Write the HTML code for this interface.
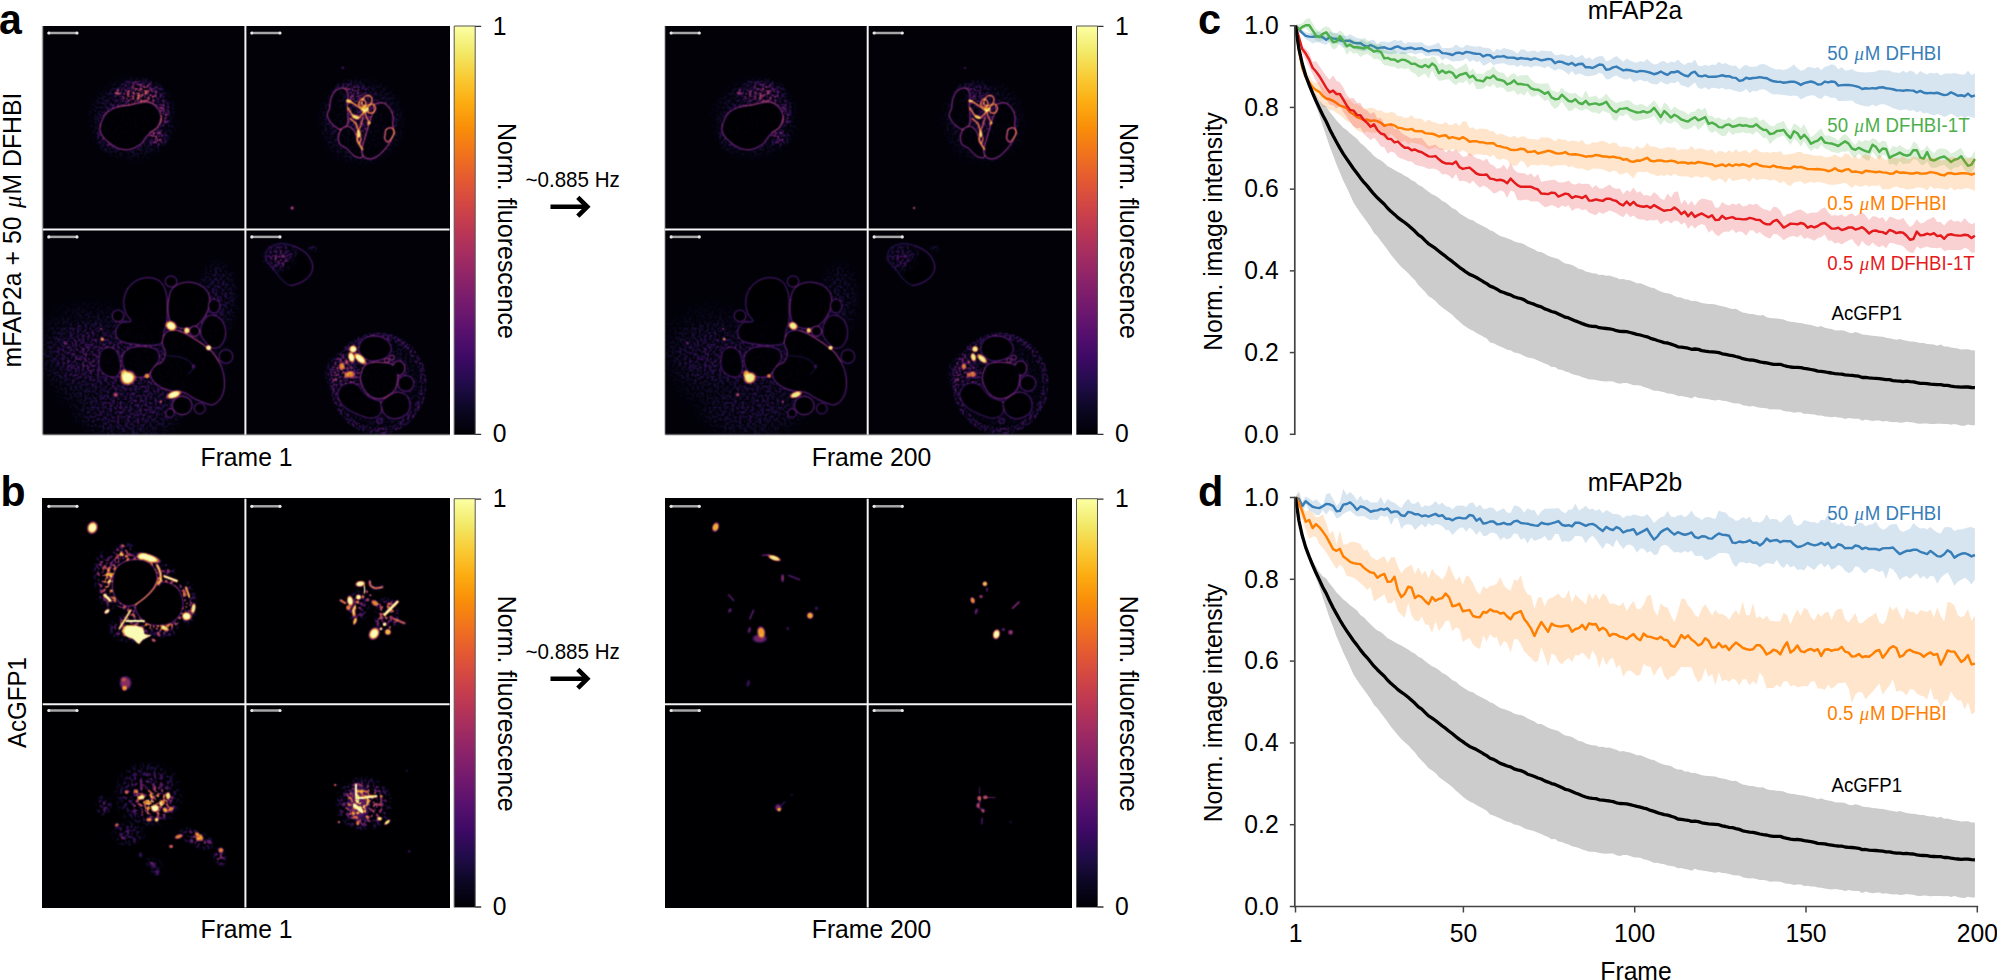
<!DOCTYPE html>
<html lang="en"><head><meta charset="utf-8"><title>Figure</title>
<style>html,body{margin:0;padding:0;background:#fff;}body{width:1997px;height:980px;overflow:hidden;}svg{display:block;}</style>
</head><body>
<svg width="1997" height="980" viewBox="0 0 1997 980" font-family="Liberation Sans, Arial, sans-serif" fill="#000"><defs>
<linearGradient id="inf" x1="0" y1="1" x2="0" y2="0"><stop offset="0.0" stop-color="#000004"/><stop offset="0.0625" stop-color="#0b0724"/><stop offset="0.125" stop-color="#210c4a"/><stop offset="0.1875" stop-color="#3d0965"/><stop offset="0.25" stop-color="#57106e"/><stop offset="0.3125" stop-color="#71196e"/><stop offset="0.375" stop-color="#8a226a"/><stop offset="0.4375" stop-color="#a32c61"/><stop offset="0.5" stop-color="#bc3754"/><stop offset="0.5625" stop-color="#d24644"/><stop offset="0.625" stop-color="#e45a31"/><stop offset="0.6875" stop-color="#f1731d"/><stop offset="0.75" stop-color="#f98e09"/><stop offset="0.8125" stop-color="#fcac11"/><stop offset="0.875" stop-color="#f9cb35"/><stop offset="0.9375" stop-color="#f2ea69"/><stop offset="1.0" stop-color="#fcffa4"/></linearGradient>
<filter id="cmap" x="0" y="0" width="1" height="1" color-interpolation-filters="sRGB">
<feComponentTransfer><feFuncR type="table" tableValues="0.001 0.014 0.042 0.082 0.129 0.183 0.238 0.291 0.342 0.391 0.441 0.491 0.541 0.591 0.640 0.689 0.736 0.781 0.822 0.861 0.894 0.923 0.947 0.965 0.978 0.986 0.988 0.984 0.975 0.961 0.948 0.955 0.988"/><feFuncG type="table" tableValues="0.000 0.011 0.028 0.043 0.047 0.040 0.037 0.046 0.062 0.081 0.099 0.117 0.135 0.153 0.171 0.192 0.216 0.243 0.275 0.312 0.353 0.399 0.449 0.502 0.558 0.616 0.675 0.736 0.798 0.859 0.917 0.966 0.998"/><feFuncB type="table" tableValues="0.014 0.072 0.141 0.215 0.291 0.355 0.396 0.419 0.429 0.433 0.432 0.426 0.415 0.400 0.381 0.358 0.330 0.300 0.266 0.231 0.194 0.155 0.115 0.074 0.035 0.026 0.065 0.130 0.206 0.298 0.411 0.540 0.645"/></feComponentTransfer><feConvolveMatrix order="3" kernelMatrix="0.04 0.125 0.04 0.125 0.34 0.125 0.04 0.125 0.04" edgeMode="duplicate"/><feColorMatrix type="saturate" values="0.78"/>
</filter>
<radialGradient id="rgb"><stop offset="0" stop-color="#fff" stop-opacity="1"/><stop offset="0.55" stop-color="#fff" stop-opacity="1"/><stop offset="0.78" stop-color="#fff" stop-opacity="0.55"/><stop offset="1" stop-color="#fff" stop-opacity="0"/></radialGradient>
<radialGradient id="rg"><stop offset="0" stop-color="#fff" stop-opacity="1"/><stop offset="0.55" stop-color="#fff" stop-opacity="0.6"/><stop offset="1" stop-color="#fff" stop-opacity="0"/></radialGradient>
<radialGradient id="rgf"><stop offset="0" stop-color="#fff" stop-opacity="1"/><stop offset="0.8" stop-color="#fff" stop-opacity="0.9"/><stop offset="1" stop-color="#fff" stop-opacity="0"/></radialGradient>
<filter id="b03" x="-20%" y="-20%" width="140%" height="140%"><feGaussianBlur stdDeviation="0.3"/></filter>
<filter id="b05" x="-20%" y="-20%" width="140%" height="140%"><feGaussianBlur stdDeviation="0.5"/></filter>
<filter id="b07" x="-20%" y="-20%" width="140%" height="140%"><feGaussianBlur stdDeviation="0.7"/></filter>
<filter id="b1" x="-30%" y="-30%" width="160%" height="160%"><feGaussianBlur stdDeviation="1"/></filter>
<filter id="b2" x="-40%" y="-40%" width="180%" height="180%"><feGaussianBlur stdDeviation="2"/></filter>
<filter id="spk" x="-5%" y="-5%" width="110%" height="110%" color-interpolation-filters="sRGB"><feTurbulence type="fractalNoise" baseFrequency="0.4 0.43" numOctaves="3" seed="4" result="n"/><feColorMatrix in="n" type="matrix" values="0 0 0 0 1 0 0 0 0 1 0 0 0 0 1 0 0 0 4.5 -1.95" result="m"/><feComposite in="SourceGraphic" in2="m" operator="in"/></filter>
<filter id="spk2" x="-5%" y="-5%" width="110%" height="110%" color-interpolation-filters="sRGB"><feTurbulence type="fractalNoise" baseFrequency="0.3" numOctaves="2" seed="9" result="n"/><feColorMatrix in="n" type="matrix" values="0 0 0 0 1 0 0 0 0 1 0 0 0 0 1 0 0 0 7 -3.4" result="m"/><feComposite in="SourceGraphic" in2="m" operator="in"/><feGaussianBlur stdDeviation="0.5"/></filter>

</defs><rect width="1997" height="980" fill="#fff"/><text transform="translate(-1,34) scale(1,1.045)" font-size="41" font-weight="bold">a</text><text transform="translate(0.5,506.3) scale(1,1.045)" font-size="41" font-weight="bold">b</text><text transform="translate(1198,34) scale(1,1.045)" font-size="41.5" font-weight="bold">c</text><text transform="translate(1198,506.3) scale(1,1.045)" font-size="41.5" font-weight="bold">d</text><g filter="url(#cmap)"><rect x="42.7" y="26.0" width="406.9" height="408.7" fill="#030303"/><g filter="url(#spk)">
<ellipse cx="132.8" cy="118.4" rx="48.3" ry="46.0" fill="url(#rg)" fill-opacity="0.32"/>
<ellipse cx="140.6" cy="93.7" rx="25.8" ry="16.8" fill="url(#rg)" fill-opacity="0.6"/>
<ellipse cx="117.6" cy="92.0" rx="5.1" ry="3.9" fill="url(#rg)" fill-opacity="0.6"/>
<ellipse cx="157.4" cy="137.4" rx="11.2" ry="10.1" fill="url(#rg)" fill-opacity="0.5"/>
<ellipse cx="163.1" cy="112.8" rx="7.9" ry="16.8" fill="url(#rg)" fill-opacity="0.45"/>
<ellipse cx="108.1" cy="131.8" rx="13.5" ry="22.4" fill="url(#rg)" fill-opacity="0.25"/>
</g>
<path d="M100.2,126.2C101.0,122.9 103.0,117.1 105.8,113.9C108.6,110.7 112.9,108.6 117.0,107.1C121.2,105.6 126.2,105.7 130.5,104.9C134.8,104.1 139.3,102.4 142.9,102.1C146.4,101.8 149.2,102.0 151.8,103.2C154.5,104.4 157.0,106.9 158.6,109.4C160.1,111.9 161.2,115.4 161.0,118.4C160.9,121.4 159.4,124.9 157.4,127.3C155.5,129.8 151.6,131.1 149.6,133.0C147.5,134.8 146.6,136.7 145.1,138.6C143.6,140.4 143.0,142.4 140.6,144.2C138.2,146.0 134.1,148.5 130.5,149.2C127.0,150.0 123.0,149.9 119.3,148.7C115.5,147.5 111.1,144.4 108.1,141.9C105.1,139.5 102.6,136.7 101.3,134.1C100.0,131.5 99.5,129.6 100.2,126.2Z" fill="#000" fill-opacity="0.93" stroke="#fff" stroke-opacity="0.162" stroke-width="1.56" stroke-linecap="round" stroke-linejoin="round" filter="url(#b03)"/>
<path d="M100.2,126.2C101.0,122.9 103.0,117.1 105.8,113.9C108.6,110.7 112.9,108.6 117.0,107.1C121.2,105.6 126.2,105.7 130.5,104.9C134.8,104.1 139.3,102.4 142.9,102.1C146.4,101.8 149.2,102.0 151.8,103.2C154.5,104.4 157.0,106.9 158.6,109.4C160.1,111.9 161.2,115.4 161.0,118.4C160.9,121.4 159.4,124.9 157.4,127.3C155.5,129.8 151.6,131.1 149.6,133.0C147.5,134.8 146.6,136.7 145.1,138.6C143.6,140.4 143.0,142.4 140.6,144.2C138.2,146.0 134.1,148.5 130.5,149.2C127.0,150.0 123.0,149.9 119.3,148.7C115.5,147.5 111.1,144.4 108.1,141.9C105.1,139.5 102.6,136.7 101.3,134.1C100.0,131.5 99.5,129.6 100.2,126.2Z" fill="none" stroke="#fff" stroke-opacity="0.567" stroke-width="0.48" stroke-linecap="round" stroke-linejoin="round"/>
<path d="M117.0,107.1C119.3,106.8 126.2,105.7 130.5,104.9C134.8,104.1 139.3,102.4 142.9,102.1C146.4,101.8 149.2,102.0 151.8,103.2C154.5,104.4 157.4,108.4 158.6,109.4" fill="none" stroke="#fff" stroke-opacity="0.072" stroke-width="1.56" stroke-linecap="round" stroke-linejoin="round" filter="url(#b03)"/>
<path d="M117.0,107.1C119.3,106.8 126.2,105.7 130.5,104.9C134.8,104.1 139.3,102.4 142.9,102.1C146.4,101.8 149.2,102.0 151.8,103.2C154.5,104.4 157.4,108.4 158.6,109.4" fill="none" stroke="#fff" stroke-opacity="0.252" stroke-width="0.48" stroke-linecap="round" stroke-linejoin="round"/>
<path d="M161.0,118.4C160.4,119.9 159.4,124.9 157.4,127.3C155.5,129.8 150.9,132.0 149.6,133.0" fill="none" stroke="#fff" stroke-opacity="0.090" stroke-width="1.82" stroke-linecap="round" stroke-linejoin="round" filter="url(#b03)"/>
<path d="M161.0,118.4C160.4,119.9 159.4,124.9 157.4,127.3C155.5,129.8 150.9,132.0 149.6,133.0" fill="none" stroke="#fff" stroke-opacity="0.315" stroke-width="0.56" stroke-linecap="round" stroke-linejoin="round"/>
<ellipse cx="140.6" cy="95.9" rx="3.7" ry="2.2" fill="url(#rgb)" fill-opacity="0.3" transform="rotate(-30 140.6 95.9)"/>
<ellipse cx="147.3" cy="92.6" rx="2.5" ry="2.2" fill="url(#rgb)" fill-opacity="0.25"/>
<ellipse cx="117.0" cy="92.0" rx="3.1" ry="1.9" fill="url(#rgb)" fill-opacity="0.25" transform="rotate(-30 117.0 92.0)"/>
<g filter="url(#spk)">
<ellipse cx="361.7" cy="121.7" rx="47.4" ry="47.4" fill="url(#rg)" fill-opacity="0.3"/>
<ellipse cx="350.3" cy="94.2" rx="19.9" ry="15.3" fill="url(#rg)" fill-opacity="0.4"/>
</g>
<path d="M343.4,88.1C341.2,87.6 337.1,89.2 334.9,91.1C332.8,93.0 331.6,96.7 330.7,99.5C329.8,102.3 330.2,105.4 329.6,108.0C329.0,110.5 327.3,112.7 327.3,114.8C327.3,117.0 328.3,119.1 329.6,121.0C330.9,122.9 333.0,124.9 334.9,126.3C336.9,127.7 339.0,129.6 341.1,129.4C343.1,129.1 346.0,127.1 347.2,124.8C348.3,122.5 348.0,119.1 348.0,115.6C348.0,112.2 347.2,107.7 347.2,104.1C347.2,100.6 348.6,96.9 348.0,94.2C347.3,91.5 345.5,88.6 343.4,88.1Z" fill="#000" fill-opacity="0.75" stroke="#fff" stroke-opacity="0.180" stroke-width="1.56" stroke-linecap="round" stroke-linejoin="round" filter="url(#b03)"/>
<path d="M343.4,88.1C341.2,87.6 337.1,89.2 334.9,91.1C332.8,93.0 331.6,96.7 330.7,99.5C329.8,102.3 330.2,105.4 329.6,108.0C329.0,110.5 327.3,112.7 327.3,114.8C327.3,117.0 328.3,119.1 329.6,121.0C330.9,122.9 333.0,124.9 334.9,126.3C336.9,127.7 339.0,129.6 341.1,129.4C343.1,129.1 346.0,127.1 347.2,124.8C348.3,122.5 348.0,119.1 348.0,115.6C348.0,112.2 347.2,107.7 347.2,104.1C347.2,100.6 348.6,96.9 348.0,94.2C347.3,91.5 345.5,88.6 343.4,88.1Z" fill="none" stroke="#fff" stroke-opacity="0.630" stroke-width="0.48" stroke-linecap="round" stroke-linejoin="round"/>
<path d="M341.1,129.4C339.5,131.3 338.5,135.3 338.4,137.8C338.3,140.4 338.9,142.9 340.3,144.7C341.7,146.5 345.2,147.2 346.8,148.5C348.5,149.8 348.8,151.0 350.3,152.3C351.7,153.7 353.8,155.7 355.6,156.6C357.4,157.4 359.7,158.2 361.0,157.7C362.2,157.3 363.3,155.8 363.3,153.9C363.3,152.0 362.0,148.8 361.0,146.2C359.9,143.7 358.3,141.1 357.1,138.6C356.0,136.0 355.6,133.0 354.1,130.9C352.6,128.9 350.1,126.6 348.0,126.3C345.8,126.1 342.7,127.5 341.1,129.4Z" fill="#000" fill-opacity="0.75" stroke="#fff" stroke-opacity="0.180" stroke-width="1.56" stroke-linecap="round" stroke-linejoin="round" filter="url(#b03)"/>
<path d="M341.1,129.4C339.5,131.3 338.5,135.3 338.4,137.8C338.3,140.4 338.9,142.9 340.3,144.7C341.7,146.5 345.2,147.2 346.8,148.5C348.5,149.8 348.8,151.0 350.3,152.3C351.7,153.7 353.8,155.7 355.6,156.6C357.4,157.4 359.7,158.2 361.0,157.7C362.2,157.3 363.3,155.8 363.3,153.9C363.3,152.0 362.0,148.8 361.0,146.2C359.9,143.7 358.3,141.1 357.1,138.6C356.0,136.0 355.6,133.0 354.1,130.9C352.6,128.9 350.1,126.6 348.0,126.3C345.8,126.1 342.7,127.5 341.1,129.4Z" fill="none" stroke="#fff" stroke-opacity="0.630" stroke-width="0.48" stroke-linecap="round" stroke-linejoin="round"/>
<path d="M374.0,104.9C375.5,103.6 380.5,102.3 383.2,103.0C385.8,103.6 388.4,106.4 390.1,108.7C391.7,111.1 392.7,114.5 393.1,117.1C393.6,119.8 392.6,122.2 392.7,124.8C392.9,127.3 394.2,129.8 393.9,132.4C393.6,135.1 392.2,138.2 390.8,140.9C389.4,143.5 387.5,146.1 385.5,148.5C383.4,150.9 381.0,153.7 378.6,155.4C376.1,157.1 373.3,158.6 370.9,158.9C368.5,159.1 365.6,158.4 364.0,156.9C362.5,155.5 361.6,153.1 361.7,150.1C361.9,147.0 363.8,142.3 364.8,138.6C365.8,134.9 366.8,131.3 367.9,127.9C368.9,124.4 369.9,120.7 370.9,117.9C371.9,115.1 373.5,113.2 374.0,111.0C374.5,108.9 372.4,106.2 374.0,104.9Z" fill="#000" fill-opacity="0.75" stroke="#fff" stroke-opacity="0.198" stroke-width="1.56" stroke-linecap="round" stroke-linejoin="round" filter="url(#b03)"/>
<path d="M374.0,104.9C375.5,103.6 380.5,102.3 383.2,103.0C385.8,103.6 388.4,106.4 390.1,108.7C391.7,111.1 392.7,114.5 393.1,117.1C393.6,119.8 392.6,122.2 392.7,124.8C392.9,127.3 394.2,129.8 393.9,132.4C393.6,135.1 392.2,138.2 390.8,140.9C389.4,143.5 387.5,146.1 385.5,148.5C383.4,150.9 381.0,153.7 378.6,155.4C376.1,157.1 373.3,158.6 370.9,158.9C368.5,159.1 365.6,158.4 364.0,156.9C362.5,155.5 361.6,153.1 361.7,150.1C361.9,147.0 363.8,142.3 364.8,138.6C365.8,134.9 366.8,131.3 367.9,127.9C368.9,124.4 369.9,120.7 370.9,117.9C371.9,115.1 373.5,113.2 374.0,111.0C374.5,108.9 372.4,106.2 374.0,104.9Z" fill="none" stroke="#fff" stroke-opacity="0.693" stroke-width="0.48" stroke-linecap="round" stroke-linejoin="round"/>
<path d="M386.2,129.4C387.3,128.5 390.2,127.3 391.6,127.9C392.9,128.4 394.3,131.0 394.3,132.8C394.2,134.6 392.3,137.0 391.2,138.6C390.1,140.1 388.8,142.0 387.8,142.0C386.7,142.0 385.1,140.0 384.7,138.6C384.3,137.1 385.1,134.7 385.3,133.2C385.6,131.7 385.2,130.3 386.2,129.4Z" fill="none" stroke="#fff" stroke-opacity="0.360" stroke-width="1.69" stroke-linecap="round" stroke-linejoin="round" filter="url(#b03)"/>
<path d="M386.2,129.4C387.3,128.5 390.2,127.3 391.6,127.9C392.9,128.4 394.3,131.0 394.3,132.8C394.2,134.6 392.3,137.0 391.2,138.6C390.1,140.1 388.8,142.0 387.8,142.0C386.7,142.0 385.1,140.0 384.7,138.6C384.3,137.1 385.1,134.7 385.3,133.2C385.6,131.7 385.2,130.3 386.2,129.4Z" fill="none" stroke="#fff" stroke-opacity="1.000" stroke-width="0.52" stroke-linecap="round" stroke-linejoin="round"/>
<path d="M361.7,103.4C361.9,102.2 362.2,99.3 363.3,98.0C364.3,96.7 366.5,95.3 367.9,95.3C369.3,95.3 371.2,96.7 371.7,98.0C372.2,99.3 371.8,102.1 370.9,103.4C370.0,104.6 367.7,105.4 366.3,105.7C364.9,105.9 363.3,105.3 362.5,104.9C361.7,104.5 361.6,104.5 361.7,103.4Z" fill="none" stroke="#fff" stroke-opacity="0.480" stroke-width="1.69" stroke-linecap="round" stroke-linejoin="round" filter="url(#b03)"/>
<path d="M361.7,103.4C361.9,102.2 362.2,99.3 363.3,98.0C364.3,96.7 366.5,95.3 367.9,95.3C369.3,95.3 371.2,96.7 371.7,98.0C372.2,99.3 371.8,102.1 370.9,103.4C370.0,104.6 367.7,105.4 366.3,105.7C364.9,105.9 363.3,105.3 362.5,104.9C361.7,104.5 361.6,104.5 361.7,103.4Z" fill="none" stroke="#fff" stroke-opacity="1.000" stroke-width="0.52" stroke-linecap="round" stroke-linejoin="round"/>
<path d="M367.9,107.2C368.5,105.8 371.2,104.0 372.4,104.1C373.7,104.3 375.4,106.6 375.5,108.0C375.6,109.4 374.4,111.8 373.2,112.6C372.1,113.3 369.5,113.4 368.6,112.6C367.7,111.7 367.2,108.6 367.9,107.2Z" fill="none" stroke="#fff" stroke-opacity="0.450" stroke-width="1.69" stroke-linecap="round" stroke-linejoin="round" filter="url(#b03)"/>
<path d="M367.9,107.2C368.5,105.8 371.2,104.0 372.4,104.1C373.7,104.3 375.4,106.6 375.5,108.0C375.6,109.4 374.4,111.8 373.2,112.6C372.1,113.3 369.5,113.4 368.6,112.6C367.7,111.7 367.2,108.6 367.9,107.2Z" fill="none" stroke="#fff" stroke-opacity="1.000" stroke-width="0.52" stroke-linecap="round" stroke-linejoin="round"/>
<path d="M358.7,104.1C358.5,102.9 359.9,100.2 361.0,99.5C362.0,98.9 364.0,99.4 364.8,100.3C365.6,101.2 366.1,103.8 365.6,104.9C365.1,106.0 362.9,107.3 361.7,107.2C360.6,107.1 358.8,105.4 358.7,104.1Z" fill="none" stroke="#fff" stroke-opacity="0.450" stroke-width="1.69" stroke-linecap="round" stroke-linejoin="round" filter="url(#b03)"/>
<path d="M358.7,104.1C358.5,102.9 359.9,100.2 361.0,99.5C362.0,98.9 364.0,99.4 364.8,100.3C365.6,101.2 366.1,103.8 365.6,104.9C365.1,106.0 362.9,107.3 361.7,107.2C360.6,107.1 358.8,105.4 358.7,104.1Z" fill="none" stroke="#fff" stroke-opacity="1.000" stroke-width="0.52" stroke-linecap="round" stroke-linejoin="round"/>
<path d="M347.2,100.3C347.8,100.6 349.6,101.1 351.0,101.8C352.4,102.6 354.0,103.8 355.6,104.9C357.3,106.0 359.3,107.8 361.0,108.7C362.6,109.6 364.4,110.4 365.6,110.3C366.7,110.1 367.5,108.3 367.9,108.0" fill="none" stroke="#fff" stroke-opacity="0.480" stroke-width="1.95" stroke-linecap="round" stroke-linejoin="round" filter="url(#b03)"/>
<path d="M347.2,100.3C347.8,100.6 349.6,101.1 351.0,101.8C352.4,102.6 354.0,103.8 355.6,104.9C357.3,106.0 359.3,107.8 361.0,108.7C362.6,109.6 364.4,110.4 365.6,110.3C366.7,110.1 367.5,108.3 367.9,108.0" fill="none" stroke="#fff" stroke-opacity="1.000" stroke-width="0.60" stroke-linecap="round" stroke-linejoin="round"/>
<path d="M348.0,108.0C348.6,109.0 350.3,112.4 351.8,114.1C353.3,115.7 355.6,117.7 357.1,117.9C358.7,118.2 359.7,116.8 361.0,115.6C362.2,114.5 364.2,111.8 364.8,111.0" fill="none" stroke="#fff" stroke-opacity="0.480" stroke-width="2.08" stroke-linecap="round" stroke-linejoin="round" filter="url(#b03)"/>
<path d="M348.0,108.0C348.6,109.0 350.3,112.4 351.8,114.1C353.3,115.7 355.6,117.7 357.1,117.9C358.7,118.2 359.7,116.8 361.0,115.6C362.2,114.5 364.2,111.8 364.8,111.0" fill="none" stroke="#fff" stroke-opacity="1.000" stroke-width="0.64" stroke-linecap="round" stroke-linejoin="round"/>
<path d="M364.8,111.0C365.1,112.0 365.6,115.2 366.3,117.1C367.1,119.1 369.1,121.2 369.4,122.5C369.6,123.8 368.1,124.4 367.9,124.8" fill="none" stroke="#fff" stroke-opacity="0.420" stroke-width="1.82" stroke-linecap="round" stroke-linejoin="round" filter="url(#b03)"/>
<path d="M364.8,111.0C365.1,112.0 365.6,115.2 366.3,117.1C367.1,119.1 369.1,121.2 369.4,122.5C369.6,123.8 368.1,124.4 367.9,124.8" fill="none" stroke="#fff" stroke-opacity="1.000" stroke-width="0.56" stroke-linecap="round" stroke-linejoin="round"/>
<path d="M350.3,118.7C351.1,119.4 354.3,121.5 355.6,123.3C356.9,125.1 357.4,127.5 357.9,129.4C358.4,131.3 358.8,133.0 358.7,134.7C358.5,136.5 357.0,138.4 357.1,140.1C357.3,141.8 358.5,143.2 359.4,144.7C360.3,146.2 362.0,148.5 362.5,149.3" fill="none" stroke="#fff" stroke-opacity="0.480" stroke-width="2.08" stroke-linecap="round" stroke-linejoin="round" filter="url(#b03)"/>
<path d="M350.3,118.7C351.1,119.4 354.3,121.5 355.6,123.3C356.9,125.1 357.4,127.5 357.9,129.4C358.4,131.3 358.8,133.0 358.7,134.7C358.5,136.5 357.0,138.4 357.1,140.1C357.3,141.8 358.5,143.2 359.4,144.7C360.3,146.2 362.0,148.5 362.5,149.3" fill="none" stroke="#fff" stroke-opacity="1.000" stroke-width="0.64" stroke-linecap="round" stroke-linejoin="round"/>
<path d="M363.3,117.1C362.9,118.4 361.7,122.5 361.0,124.8C360.2,127.1 359.1,129.9 358.7,130.9" fill="none" stroke="#fff" stroke-opacity="0.360" stroke-width="1.69" stroke-linecap="round" stroke-linejoin="round" filter="url(#b03)"/>
<path d="M363.3,117.1C362.9,118.4 361.7,122.5 361.0,124.8C360.2,127.1 359.1,129.9 358.7,130.9" fill="none" stroke="#fff" stroke-opacity="1.000" stroke-width="0.52" stroke-linecap="round" stroke-linejoin="round"/>
<path d="M358.7,134.7C359.1,135.4 360.8,137.2 361.0,138.6C361.1,140.0 359.7,142.4 359.4,143.2" fill="none" stroke="#fff" stroke-opacity="0.360" stroke-width="1.69" stroke-linecap="round" stroke-linejoin="round" filter="url(#b03)"/>
<path d="M358.7,134.7C359.1,135.4 360.8,137.2 361.0,138.6C361.1,140.0 359.7,142.4 359.4,143.2" fill="none" stroke="#fff" stroke-opacity="1.000" stroke-width="0.52" stroke-linecap="round" stroke-linejoin="round"/>
<ellipse cx="364.8" cy="109.5" rx="4.5" ry="4.0" fill="url(#rgb)" fill-opacity="0.8"/>
<ellipse cx="355.6" cy="117.1" rx="5.0" ry="2.7" fill="url(#rgb)" fill-opacity="0.8" transform="rotate(20 355.6 117.1)"/>
<ellipse cx="358.7" cy="134.0" rx="3.0" ry="4.5" fill="url(#rgb)" fill-opacity="0.8"/>
<ellipse cx="348.7" cy="101.1" rx="3.5" ry="2.3" fill="url(#rgb)" fill-opacity="0.7"/>
<ellipse cx="369.0" cy="122.9" rx="2.7" ry="1.9" fill="url(#rgb)" fill-opacity="0.6"/>
<ellipse cx="292.1" cy="208.0" rx="2.1" ry="2.1" fill="url(#rgb)" fill-opacity="0.5"/>
<ellipse cx="342.9" cy="67.9" rx="1.8" ry="1.8" fill="url(#rgb)" fill-opacity="0.2"/>
<g filter="url(#spk)">
<ellipse cx="109.7" cy="367.4" rx="90.8" ry="65.5" fill="url(#rg)" fill-opacity="0.22" transform="rotate(35 109.7 367.4)"/>
<ellipse cx="82.2" cy="354.7" rx="42.2" ry="33.8" fill="url(#rg)" fill-opacity="0.14"/>
<ellipse cx="217.4" cy="297.7" rx="25.3" ry="44.4" fill="url(#rg)" fill-opacity="0.2"/>
<ellipse cx="171.0" cy="354.7" rx="69.7" ry="69.7" fill="url(#rg)" fill-opacity="0.15"/>
<ellipse cx="128.7" cy="418.1" rx="63.4" ry="25.3" fill="url(#rg)" fill-opacity="0.15"/>
</g>
<path d="M127.9,288.4C130.3,284.9 134.2,281.7 137.9,279.9C141.6,278.2 146.3,277.3 150.1,277.7C153.9,278.0 158.1,279.7 160.8,282.2C163.5,284.8 165.1,288.6 166.2,293.0C167.2,297.3 167.2,303.4 167.2,308.3C167.3,313.1 167.2,318.2 166.6,322.0C166.1,325.9 164.6,327.9 163.9,331.2C163.2,334.5 163.6,339.6 162.3,341.9C161.1,344.2 159.8,344.5 156.2,345.0C152.7,345.5 146.0,345.4 140.9,345.0C135.8,344.6 129.4,343.7 125.6,342.7C121.8,341.7 119.6,340.8 118.0,338.9C116.3,337.0 115.2,333.9 115.7,331.2C116.2,328.5 118.5,324.5 121.0,322.8C123.6,321.1 130.2,322.9 131.0,321.3C131.7,319.6 126.8,316.3 125.6,312.9C124.4,309.4 123.4,304.7 123.8,300.6C124.2,296.5 125.6,291.8 127.9,288.4Z" fill="#000" fill-opacity="0.88" stroke="#fff" stroke-opacity="0.114" stroke-width="1.43" stroke-linecap="round" stroke-linejoin="round" filter="url(#b03)"/>
<path d="M127.9,288.4C130.3,284.9 134.2,281.7 137.9,279.9C141.6,278.2 146.3,277.3 150.1,277.7C153.9,278.0 158.1,279.7 160.8,282.2C163.5,284.8 165.1,288.6 166.2,293.0C167.2,297.3 167.2,303.4 167.2,308.3C167.3,313.1 167.2,318.2 166.6,322.0C166.1,325.9 164.6,327.9 163.9,331.2C163.2,334.5 163.6,339.6 162.3,341.9C161.1,344.2 159.8,344.5 156.2,345.0C152.7,345.5 146.0,345.4 140.9,345.0C135.8,344.6 129.4,343.7 125.6,342.7C121.8,341.7 119.6,340.8 118.0,338.9C116.3,337.0 115.2,333.9 115.7,331.2C116.2,328.5 118.5,324.5 121.0,322.8C123.6,321.1 130.2,322.9 131.0,321.3C131.7,319.6 126.8,316.3 125.6,312.9C124.4,309.4 123.4,304.7 123.8,300.6C124.2,296.5 125.6,291.8 127.9,288.4Z" fill="none" stroke="#fff" stroke-opacity="0.399" stroke-width="0.44" stroke-linecap="round" stroke-linejoin="round"/>
<ellipse cx="118.0" cy="315.9" rx="5.8" ry="5.8" fill="#000" fill-opacity="0.88" stroke="#fff" stroke-opacity="0.114" stroke-width="1.43" filter="url(#b03)"/>
<ellipse cx="118.0" cy="315.9" rx="5.8" ry="5.8" fill="none" stroke="#fff" stroke-opacity="0.399" stroke-width="0.44"/>
<ellipse cx="171.1" cy="281.5" rx="5.8" ry="5.5" fill="#000" fill-opacity="0.88" stroke="#fff" stroke-opacity="0.114" stroke-width="1.43" filter="url(#b03)"/>
<ellipse cx="171.1" cy="281.5" rx="5.8" ry="5.5" fill="none" stroke="#fff" stroke-opacity="0.399" stroke-width="0.44"/>
<path d="M168.5,300.6C169.0,296.8 169.7,292.7 171.5,289.9C173.3,287.1 176.1,285.1 179.2,283.8C182.2,282.5 186.3,282.0 189.9,282.2C193.5,282.5 197.6,283.5 200.6,285.3C203.7,287.1 206.8,289.9 208.3,293.0C209.7,296.0 209.7,300.4 209.5,303.7C209.2,307.0 208.2,309.8 206.7,312.9C205.3,315.9 202.9,319.6 200.6,322.0C198.3,324.5 196.3,326.4 193.0,327.4C189.6,328.4 184.3,328.8 180.7,328.2C177.1,327.5 173.6,326.1 171.5,323.6C169.4,321.0 168.7,316.7 168.2,312.9C167.7,309.0 167.9,304.4 168.5,300.6Z" fill="#000" fill-opacity="0.88" stroke="#fff" stroke-opacity="0.144" stroke-width="1.43" stroke-linecap="round" stroke-linejoin="round" filter="url(#b03)"/>
<path d="M168.5,300.6C169.0,296.8 169.7,292.7 171.5,289.9C173.3,287.1 176.1,285.1 179.2,283.8C182.2,282.5 186.3,282.0 189.9,282.2C193.5,282.5 197.6,283.5 200.6,285.3C203.7,287.1 206.8,289.9 208.3,293.0C209.7,296.0 209.7,300.4 209.5,303.7C209.2,307.0 208.2,309.8 206.7,312.9C205.3,315.9 202.9,319.6 200.6,322.0C198.3,324.5 196.3,326.4 193.0,327.4C189.6,328.4 184.3,328.8 180.7,328.2C177.1,327.5 173.6,326.1 171.5,323.6C169.4,321.0 168.7,316.7 168.2,312.9C167.7,309.0 167.9,304.4 168.5,300.6Z" fill="none" stroke="#fff" stroke-opacity="0.504" stroke-width="0.44" stroke-linecap="round" stroke-linejoin="round"/>
<ellipse cx="214.1" cy="306.0" rx="5.8" ry="6.9" fill="#000" fill-opacity="0.88" stroke="#fff" stroke-opacity="0.114" stroke-width="1.43" filter="url(#b03)"/>
<ellipse cx="214.1" cy="306.0" rx="5.8" ry="6.9" fill="none" stroke="#fff" stroke-opacity="0.399" stroke-width="0.44"/>
<path d="M202.1,323.6C203.4,321.0 205.7,317.1 208.3,315.9C210.8,314.8 214.8,315.2 217.4,316.7C220.1,318.2 223.1,321.7 224.3,325.1C225.6,328.5 225.9,333.8 225.1,337.3C224.3,340.9 221.8,344.7 219.7,346.5C217.7,348.3 214.8,348.3 212.9,348.1C210.9,347.8 210.1,346.8 208.3,345.0C206.5,343.2 203.4,339.6 202.1,337.3C200.9,335.1 200.6,333.5 200.6,331.2C200.6,328.9 200.9,326.1 202.1,323.6Z" fill="#000" fill-opacity="0.88" stroke="#fff" stroke-opacity="0.114" stroke-width="1.43" stroke-linecap="round" stroke-linejoin="round" filter="url(#b03)"/>
<path d="M202.1,323.6C203.4,321.0 205.7,317.1 208.3,315.9C210.8,314.8 214.8,315.2 217.4,316.7C220.1,318.2 223.1,321.7 224.3,325.1C225.6,328.5 225.9,333.8 225.1,337.3C224.3,340.9 221.8,344.7 219.7,346.5C217.7,348.3 214.8,348.3 212.9,348.1C210.9,347.8 210.1,346.8 208.3,345.0C206.5,343.2 203.4,339.6 202.1,337.3C200.9,335.1 200.6,333.5 200.6,331.2C200.6,328.9 200.9,326.1 202.1,323.6Z" fill="none" stroke="#fff" stroke-opacity="0.399" stroke-width="0.44" stroke-linecap="round" stroke-linejoin="round"/>
<ellipse cx="225.9" cy="356.5" rx="6.9" ry="6.9" fill="#000" fill-opacity="0.88" stroke="#fff" stroke-opacity="0.114" stroke-width="1.43" filter="url(#b03)"/>
<ellipse cx="225.9" cy="356.5" rx="6.9" ry="6.9" fill="none" stroke="#fff" stroke-opacity="0.399" stroke-width="0.44"/>
<path d="M163.9,335.8C164.9,333.8 166.2,332.1 168.5,331.2C170.8,330.3 174.6,329.9 177.7,330.5C180.7,331.0 183.3,332.4 186.8,334.3C190.4,336.2 195.0,339.1 199.1,341.9C203.2,344.7 208.0,347.8 211.3,351.1C214.6,354.4 216.9,358.0 219.0,361.8C221.0,365.7 222.7,369.7 223.6,374.1C224.5,378.4 224.8,383.8 224.3,387.9C223.8,391.9 222.4,395.8 220.5,398.6C218.6,401.4 215.4,403.9 212.9,404.7C210.3,405.5 208.3,404.2 205.2,403.2C202.1,402.1 198.1,400.4 194.5,398.6C190.9,396.8 187.6,393.7 183.8,392.4C179.9,391.2 175.6,391.9 171.5,390.9C167.4,389.9 162.6,388.4 159.3,386.3C156.0,384.3 153.0,381.2 151.6,378.7C150.2,376.1 150.1,373.3 150.9,371.0C151.6,368.7 154.3,366.4 156.2,364.9C158.1,363.4 160.8,363.9 162.3,361.8C163.9,359.8 165.4,355.7 165.4,352.7C165.4,349.6 162.6,346.3 162.3,343.5C162.1,340.7 162.9,337.9 163.9,335.8Z" fill="#000" fill-opacity="0.88" stroke="#fff" stroke-opacity="0.144" stroke-width="1.43" stroke-linecap="round" stroke-linejoin="round" filter="url(#b03)"/>
<path d="M163.9,335.8C164.9,333.8 166.2,332.1 168.5,331.2C170.8,330.3 174.6,329.9 177.7,330.5C180.7,331.0 183.3,332.4 186.8,334.3C190.4,336.2 195.0,339.1 199.1,341.9C203.2,344.7 208.0,347.8 211.3,351.1C214.6,354.4 216.9,358.0 219.0,361.8C221.0,365.7 222.7,369.7 223.6,374.1C224.5,378.4 224.8,383.8 224.3,387.9C223.8,391.9 222.4,395.8 220.5,398.6C218.6,401.4 215.4,403.9 212.9,404.7C210.3,405.5 208.3,404.2 205.2,403.2C202.1,402.1 198.1,400.4 194.5,398.6C190.9,396.8 187.6,393.7 183.8,392.4C179.9,391.2 175.6,391.9 171.5,390.9C167.4,389.9 162.6,388.4 159.3,386.3C156.0,384.3 153.0,381.2 151.6,378.7C150.2,376.1 150.1,373.3 150.9,371.0C151.6,368.7 154.3,366.4 156.2,364.9C158.1,363.4 160.8,363.9 162.3,361.8C163.9,359.8 165.4,355.7 165.4,352.7C165.4,349.6 162.6,346.3 162.3,343.5C162.1,340.7 162.9,337.9 163.9,335.8Z" fill="none" stroke="#fff" stroke-opacity="0.504" stroke-width="0.44" stroke-linecap="round" stroke-linejoin="round"/>
<path d="M166.9,355.7C169.2,356.0 176.9,356.2 180.7,357.2C184.5,358.3 187.9,360.1 189.9,361.8C191.9,363.6 193.2,365.9 193.0,368.0C192.7,370.0 189.1,373.1 188.4,374.1" fill="none" stroke="#fff" stroke-opacity="0.054" stroke-width="1.43" stroke-linecap="round" stroke-linejoin="round" filter="url(#b03)"/>
<path d="M166.9,355.7C169.2,356.0 176.9,356.2 180.7,357.2C184.5,358.3 187.9,360.1 189.9,361.8C191.9,363.6 193.2,365.9 193.0,368.0C192.7,370.0 189.1,373.1 188.4,374.1" fill="none" stroke="#fff" stroke-opacity="0.189" stroke-width="0.44" stroke-linecap="round" stroke-linejoin="round"/>
<ellipse cx="194.5" cy="331.2" rx="5.1" ry="5.1" fill="#000" fill-opacity="0.88" stroke="#fff" stroke-opacity="0.174" stroke-width="1.43" filter="url(#b03)"/>
<ellipse cx="194.5" cy="331.2" rx="5.1" ry="5.1" fill="none" stroke="#fff" stroke-opacity="0.609" stroke-width="0.44"/>
<path d="M98.8,360.3C99.1,357.5 99.5,353.3 101.1,351.1C102.8,349.0 106.2,347.3 108.8,347.3C111.3,347.3 114.5,348.7 116.4,351.1C118.3,353.5 119.7,358.3 120.3,361.8C120.8,365.4 120.6,370.0 119.5,372.6C118.3,375.1 115.9,376.9 113.4,377.1C110.8,377.4 106.5,375.6 104.2,374.1C101.9,372.6 100.5,370.3 99.6,368.0C98.7,365.7 98.6,363.1 98.8,360.3Z" fill="#000" fill-opacity="0.88" stroke="#fff" stroke-opacity="0.114" stroke-width="1.43" stroke-linecap="round" stroke-linejoin="round" filter="url(#b03)"/>
<path d="M98.8,360.3C99.1,357.5 99.5,353.3 101.1,351.1C102.8,349.0 106.2,347.3 108.8,347.3C111.3,347.3 114.5,348.7 116.4,351.1C118.3,353.5 119.7,358.3 120.3,361.8C120.8,365.4 120.6,370.0 119.5,372.6C118.3,375.1 115.9,376.9 113.4,377.1C110.8,377.4 106.5,375.6 104.2,374.1C101.9,372.6 100.5,370.3 99.6,368.0C98.7,365.7 98.6,363.1 98.8,360.3Z" fill="none" stroke="#fff" stroke-opacity="0.399" stroke-width="0.44" stroke-linecap="round" stroke-linejoin="round"/>
<path d="M122.6,355.7C123.7,352.7 126.6,349.6 130.2,348.1C133.8,346.5 139.6,346.3 144.0,346.5C148.3,346.8 153.7,347.6 156.2,349.6C158.8,351.6 159.8,355.7 159.3,358.8C158.8,361.8 155.2,365.2 153.2,368.0C151.1,370.8 149.6,374.1 147.0,375.6C144.5,377.1 140.9,377.4 137.9,377.1C134.8,376.9 131.1,375.9 128.7,374.1C126.3,372.3 124.3,369.5 123.3,366.4C122.3,363.4 121.4,358.8 122.6,355.7Z" fill="#000" fill-opacity="0.88" stroke="#fff" stroke-opacity="0.114" stroke-width="1.43" stroke-linecap="round" stroke-linejoin="round" filter="url(#b03)"/>
<path d="M122.6,355.7C123.7,352.7 126.6,349.6 130.2,348.1C133.8,346.5 139.6,346.3 144.0,346.5C148.3,346.8 153.7,347.6 156.2,349.6C158.8,351.6 159.8,355.7 159.3,358.8C158.8,361.8 155.2,365.2 153.2,368.0C151.1,370.8 149.6,374.1 147.0,375.6C144.5,377.1 140.9,377.4 137.9,377.1C134.8,376.9 131.1,375.9 128.7,374.1C126.3,372.3 124.3,369.5 123.3,366.4C122.3,363.4 121.4,358.8 122.6,355.7Z" fill="none" stroke="#fff" stroke-opacity="0.399" stroke-width="0.44" stroke-linecap="round" stroke-linejoin="round"/>
<ellipse cx="182.2" cy="405.5" rx="9.9" ry="9.2" fill="#000" fill-opacity="0.88" stroke="#fff" stroke-opacity="0.144" stroke-width="1.43" filter="url(#b03)"/>
<ellipse cx="182.2" cy="405.5" rx="9.9" ry="9.2" fill="none" stroke="#fff" stroke-opacity="0.504" stroke-width="0.44"/>
<ellipse cx="199.8" cy="408.5" rx="5.4" ry="5.4" fill="#000" fill-opacity="0.88" stroke="#fff" stroke-opacity="0.114" stroke-width="1.43" filter="url(#b03)"/>
<ellipse cx="199.8" cy="408.5" rx="5.4" ry="5.4" fill="none" stroke="#fff" stroke-opacity="0.399" stroke-width="0.44"/>
<ellipse cx="170.0" cy="413.1" rx="4.3" ry="4.3" fill="#000" fill-opacity="0.88" stroke="#fff" stroke-opacity="0.114" stroke-width="1.43" filter="url(#b03)"/>
<ellipse cx="170.0" cy="413.1" rx="4.3" ry="4.3" fill="none" stroke="#fff" stroke-opacity="0.399" stroke-width="0.44"/>
<path d="M177.7,330.5C179.2,331.1 183.3,332.4 186.8,334.3C190.4,336.2 195.0,339.1 199.1,341.9C203.2,344.7 208.0,347.8 211.3,351.1C214.6,354.4 217.7,360.1 219.0,361.8" fill="none" stroke="#fff" stroke-opacity="0.120" stroke-width="1.43" stroke-linecap="round" stroke-linejoin="round" filter="url(#b03)"/>
<path d="M177.7,330.5C179.2,331.1 183.3,332.4 186.8,334.3C190.4,336.2 195.0,339.1 199.1,341.9C203.2,344.7 208.0,347.8 211.3,351.1C214.6,354.4 217.7,360.1 219.0,361.8" fill="none" stroke="#fff" stroke-opacity="0.420" stroke-width="0.44" stroke-linecap="round" stroke-linejoin="round"/>
<ellipse cx="171.1" cy="325.9" rx="6.6" ry="5.4" fill="url(#rgb)" fill-opacity="1" transform="rotate(30 171.1 325.9)"/>
<ellipse cx="186.8" cy="330.5" rx="3.3" ry="3.7" fill="url(#rgb)" fill-opacity="0.95"/>
<ellipse cx="208.6" cy="347.8" rx="3.3" ry="3.1" fill="url(#rgb)" fill-opacity="1"/>
<ellipse cx="127.9" cy="377.9" rx="8.7" ry="7.8" fill="url(#rgb)" fill-opacity="1" transform="rotate(-30 127.9 377.9)"/>
<ellipse cx="124.1" cy="374.1" rx="4.1" ry="5.6" fill="url(#rgb)" fill-opacity="0.8"/>
<ellipse cx="147.0" cy="375.9" rx="3.1" ry="2.9" fill="url(#rgb)" fill-opacity="0.7"/>
<ellipse cx="173.8" cy="394.7" rx="8.7" ry="4.1" fill="url(#rgb)" fill-opacity="1" transform="rotate(-20 173.8 394.7)"/>
<ellipse cx="102.3" cy="339.2" rx="2.1" ry="2.1" fill="url(#rgb)" fill-opacity="0.75"/>
<ellipse cx="115.7" cy="394.7" rx="2.7" ry="2.5" fill="url(#rgb)" fill-opacity="0.5"/>
<ellipse cx="160.8" cy="401.6" rx="1.8" ry="1.8" fill="url(#rgb)" fill-opacity="0.5"/>
<ellipse cx="193.7" cy="366.4" rx="2.1" ry="2.9" fill="url(#rgb)" fill-opacity="0.2"/>
<ellipse cx="101.1" cy="328.9" rx="1.4" ry="1.4" fill="url(#rgb)" fill-opacity="0.4"/>
<ellipse cx="65.3" cy="343.1" rx="2.4" ry="2.4" fill="url(#rgb)" fill-opacity="0.3"/>
<g filter="url(#spk)">
<ellipse cx="280.9" cy="257.6" rx="20.1" ry="16.9" fill="url(#rg)" fill-opacity="0.4"/>
<ellipse cx="312.6" cy="249.1" rx="5.3" ry="4.2" fill="url(#rg)" fill-opacity="0.3"/>
<ellipse cx="378.4" cy="383.4" rx="52.8" ry="56.1" fill="url(#rg)" fill-opacity="0.22"/>
<ellipse cx="343.6" cy="373.3" rx="21.3" ry="22.4" fill="url(#rg)" fill-opacity="0.42"/>
<ellipse cx="378.4" cy="383.4" rx="44.9" ry="47.7" fill="none" stroke="#fff" stroke-opacity=".2" stroke-width="6"/>
</g>
<path d="M266.1,259.7C265.1,256.2 265.9,251.8 268.2,249.1C270.5,246.5 275.6,244.4 279.9,243.8C284.1,243.3 289.2,244.4 293.6,246.0C298.0,247.5 303.1,250.2 306.3,253.3C309.4,256.5 311.9,261.4 312.6,265.0C313.3,268.5 312.2,271.7 310.5,274.5C308.7,277.3 305.4,280.0 302.0,281.9C298.7,283.7 293.9,286.0 290.4,285.5C286.9,284.9 283.5,281.2 280.9,278.7C278.3,276.2 277.0,273.4 274.6,270.2C272.1,267.1 267.2,263.2 266.1,259.7Z" fill="none" stroke="#fff" stroke-opacity="0.072" stroke-width="1.43" stroke-linecap="round" stroke-linejoin="round" filter="url(#b03)"/>
<path d="M266.1,259.7C265.1,256.2 265.9,251.8 268.2,249.1C270.5,246.5 275.6,244.4 279.9,243.8C284.1,243.3 289.2,244.4 293.6,246.0C298.0,247.5 303.1,250.2 306.3,253.3C309.4,256.5 311.9,261.4 312.6,265.0C313.3,268.5 312.2,271.7 310.5,274.5C308.7,277.3 305.4,280.0 302.0,281.9C298.7,283.7 293.9,286.0 290.4,285.5C286.9,284.9 283.5,281.2 280.9,278.7C278.3,276.2 277.0,273.4 274.6,270.2C272.1,267.1 267.2,263.2 266.1,259.7Z" fill="none" stroke="#fff" stroke-opacity="0.252" stroke-width="0.44" stroke-linecap="round" stroke-linejoin="round"/>
<path d="M293.6,246.0C295.7,247.2 303.1,250.2 306.3,253.3C309.4,256.5 311.9,261.4 312.6,265.0C313.3,268.5 312.2,271.7 310.5,274.5C308.7,277.3 305.4,280.0 302.0,281.9C298.7,283.7 292.3,284.9 290.4,285.5" fill="none" stroke="#fff" stroke-opacity="0.048" stroke-width="1.43" stroke-linecap="round" stroke-linejoin="round" filter="url(#b03)"/>
<path d="M293.6,246.0C295.7,247.2 303.1,250.2 306.3,253.3C309.4,256.5 311.9,261.4 312.6,265.0C313.3,268.5 312.2,271.7 310.5,274.5C308.7,277.3 305.4,280.0 302.0,281.9C298.7,283.7 292.3,284.9 290.4,285.5" fill="none" stroke="#fff" stroke-opacity="0.168" stroke-width="0.44" stroke-linecap="round" stroke-linejoin="round"/>
<path d="M285.1,263.9C287.2,260.4 291.8,256.2 295.7,255.5C299.6,254.8 306.1,256.5 308.4,259.7C310.7,262.9 310.8,270.9 309.4,274.5C308.0,278.0 303.1,279.3 299.9,280.8C296.8,282.3 293.2,284.0 290.4,283.3C287.6,282.6 283.9,279.8 283.0,276.6C282.1,273.3 283.0,267.4 285.1,263.9Z" fill="#000" fill-opacity=".6"/>
<path d="M358.7,347.4C359.2,345.2 360.7,341.5 362.7,339.6C364.6,337.7 367.5,336.7 370.5,336.2C373.5,335.8 377.6,335.9 380.6,336.8C383.6,337.7 386.7,339.7 388.5,341.8C390.2,344.0 391.5,347.3 391.3,349.7C391.1,352.1 389.1,354.7 387.3,356.4C385.6,358.1 383.4,359.0 380.6,359.8C377.8,360.5 373.3,361.3 370.5,360.9C367.7,360.5 365.6,358.9 363.8,357.6C362.0,356.2 360.7,354.7 359.8,353.1C359.0,351.4 358.3,349.7 358.7,347.4Z" fill="#000" fill-opacity="0.9" stroke="#fff" stroke-opacity="0.120" stroke-width="1.43" stroke-linecap="round" stroke-linejoin="round" filter="url(#b03)"/>
<path d="M358.7,347.4C359.2,345.2 360.7,341.5 362.7,339.6C364.6,337.7 367.5,336.7 370.5,336.2C373.5,335.8 377.6,335.9 380.6,336.8C383.6,337.7 386.7,339.7 388.5,341.8C390.2,344.0 391.5,347.3 391.3,349.7C391.1,352.1 389.1,354.7 387.3,356.4C385.6,358.1 383.4,359.0 380.6,359.8C377.8,360.5 373.3,361.3 370.5,360.9C367.7,360.5 365.6,358.9 363.8,357.6C362.0,356.2 360.7,354.7 359.8,353.1C359.0,351.4 358.3,349.7 358.7,347.4Z" fill="none" stroke="#fff" stroke-opacity="0.420" stroke-width="0.44" stroke-linecap="round" stroke-linejoin="round"/>
<path d="M338.0,392.3C338.6,390.3 340.4,387.2 342.4,385.6C344.5,384.0 347.7,382.8 350.3,382.8C352.9,382.8 356.1,384.2 358.2,385.6C360.2,387.0 361.0,389.4 362.7,391.2C364.3,393.1 366.0,395.3 368.3,396.8C370.5,398.3 374.0,399.3 376.1,400.2C378.3,401.1 380.2,400.8 381.2,402.4C382.1,404.1 382.2,408.1 381.7,410.3C381.3,412.6 380.2,414.6 378.4,415.9C376.5,417.2 373.3,418.2 370.5,418.2C367.7,418.2 364.7,417.0 361.5,415.9C358.4,414.8 354.6,413.3 351.4,411.4C348.2,409.6 344.6,406.9 342.4,404.7C340.3,402.4 339.3,400.0 338.5,398.0C337.8,395.9 337.3,394.4 338.0,392.3Z" fill="#000" fill-opacity="0.9" stroke="#fff" stroke-opacity="0.096" stroke-width="1.43" stroke-linecap="round" stroke-linejoin="round" filter="url(#b03)"/>
<path d="M338.0,392.3C338.6,390.3 340.4,387.2 342.4,385.6C344.5,384.0 347.7,382.8 350.3,382.8C352.9,382.8 356.1,384.2 358.2,385.6C360.2,387.0 361.0,389.4 362.7,391.2C364.3,393.1 366.0,395.3 368.3,396.8C370.5,398.3 374.0,399.3 376.1,400.2C378.3,401.1 380.2,400.8 381.2,402.4C382.1,404.1 382.2,408.1 381.7,410.3C381.3,412.6 380.2,414.6 378.4,415.9C376.5,417.2 373.3,418.2 370.5,418.2C367.7,418.2 364.7,417.0 361.5,415.9C358.4,414.8 354.6,413.3 351.4,411.4C348.2,409.6 344.6,406.9 342.4,404.7C340.3,402.4 339.3,400.0 338.5,398.0C337.8,395.9 337.3,394.4 338.0,392.3Z" fill="none" stroke="#fff" stroke-opacity="0.336" stroke-width="0.44" stroke-linecap="round" stroke-linejoin="round"/>
<path d="M381.2,402.4C382.1,400.6 384.8,398.5 387.3,396.8C389.9,395.2 393.3,392.7 396.3,392.3C399.3,392.0 403.1,392.9 405.3,394.6C407.6,396.3 409.2,399.6 409.8,402.4C410.4,405.3 410.0,409.0 408.7,411.4C407.4,413.9 404.6,415.8 401.9,417.0C399.3,418.3 395.8,419.1 393.0,418.7C390.2,418.4 387.0,416.6 385.1,414.8C383.2,413.0 382.4,410.1 381.7,408.1C381.1,406.0 380.2,404.3 381.2,402.4Z" fill="#000" fill-opacity="0.9" stroke="#fff" stroke-opacity="0.120" stroke-width="1.43" stroke-linecap="round" stroke-linejoin="round" filter="url(#b03)"/>
<path d="M381.2,402.4C382.1,400.6 384.8,398.5 387.3,396.8C389.9,395.2 393.3,392.7 396.3,392.3C399.3,392.0 403.1,392.9 405.3,394.6C407.6,396.3 409.2,399.6 409.8,402.4C410.4,405.3 410.0,409.0 408.7,411.4C407.4,413.9 404.6,415.8 401.9,417.0C399.3,418.3 395.8,419.1 393.0,418.7C390.2,418.4 387.0,416.6 385.1,414.8C383.2,413.0 382.4,410.1 381.7,408.1C381.1,406.0 380.2,404.3 381.2,402.4Z" fill="none" stroke="#fff" stroke-opacity="0.420" stroke-width="0.44" stroke-linecap="round" stroke-linejoin="round"/>
<ellipse cx="405.9" cy="383.4" rx="7.9" ry="7.9" fill="#000" fill-opacity="0.9" stroke="#fff" stroke-opacity="0.120" stroke-width="1.43" filter="url(#b03)"/>
<ellipse cx="405.9" cy="383.4" rx="7.9" ry="7.9" fill="none" stroke="#fff" stroke-opacity="0.420" stroke-width="0.44"/>
<ellipse cx="398.6" cy="368.2" rx="6.2" ry="7.3" fill="#000" fill-opacity="0.9" stroke="#fff" stroke-opacity="0.168" stroke-width="1.43" filter="url(#b03)"/>
<ellipse cx="398.6" cy="368.2" rx="6.2" ry="7.3" fill="none" stroke="#fff" stroke-opacity="0.588" stroke-width="0.44"/>
<path d="M361.5,372.1C362.3,369.9 363.2,367.0 364.9,365.4C366.6,363.8 368.6,363.1 371.6,362.6C374.6,362.1 379.5,362.3 382.9,362.6C386.2,362.9 389.4,362.7 391.8,364.3C394.3,365.9 396.5,369.3 397.4,372.1C398.4,374.9 397.8,378.3 397.4,381.1C397.1,383.9 396.5,386.7 395.2,389.0C393.9,391.2 391.8,393.0 389.6,394.6C387.3,396.2 384.4,398.0 381.7,398.5C379.1,399.1 376.3,398.8 373.9,398.0C371.4,397.1 369.0,395.3 367.1,393.5C365.3,391.6 363.8,389.2 362.7,386.7C361.5,384.3 360.6,381.3 360.4,378.9C360.2,376.4 360.8,374.4 361.5,372.1Z" fill="#000" fill-opacity="0.9" stroke="#fff" stroke-opacity="0.168" stroke-width="1.43" stroke-linecap="round" stroke-linejoin="round" filter="url(#b03)"/>
<path d="M361.5,372.1C362.3,369.9 363.2,367.0 364.9,365.4C366.6,363.8 368.6,363.1 371.6,362.6C374.6,362.1 379.5,362.3 382.9,362.6C386.2,362.9 389.4,362.7 391.8,364.3C394.3,365.9 396.5,369.3 397.4,372.1C398.4,374.9 397.8,378.3 397.4,381.1C397.1,383.9 396.5,386.7 395.2,389.0C393.9,391.2 391.8,393.0 389.6,394.6C387.3,396.2 384.4,398.0 381.7,398.5C379.1,399.1 376.3,398.8 373.9,398.0C371.4,397.1 369.0,395.3 367.1,393.5C365.3,391.6 363.8,389.2 362.7,386.7C361.5,384.3 360.6,381.3 360.4,378.9C360.2,376.4 360.8,374.4 361.5,372.1Z" fill="none" stroke="#fff" stroke-opacity="0.588" stroke-width="0.44" stroke-linecap="round" stroke-linejoin="round"/>
<path d="M393.0,366.0C393.1,364.6 395.9,363.6 397.4,363.7C399.0,363.8 401.6,365.1 402.5,366.5C403.4,367.9 403.7,370.8 403.1,372.1C402.4,373.5 399.7,374.4 398.6,374.4C397.4,374.4 397.3,373.5 396.3,372.1C395.4,370.7 392.8,367.4 393.0,366.0Z" fill="#000" fill-opacity=".9"/>
<ellipse cx="386.8" cy="360.4" rx="2.2" ry="2.0" fill="#000" fill-opacity="0.9" stroke="#fff" stroke-opacity="0.168" stroke-width="1.43" filter="url(#b03)"/>
<ellipse cx="386.8" cy="360.4" rx="2.2" ry="2.0" fill="none" stroke="#fff" stroke-opacity="0.588" stroke-width="0.44"/>
<ellipse cx="391.8" cy="357.6" rx="2.5" ry="2.2" fill="#000" fill-opacity="0.9" stroke="#fff" stroke-opacity="0.168" stroke-width="1.43" filter="url(#b03)"/>
<ellipse cx="391.8" cy="357.6" rx="2.5" ry="2.2" fill="none" stroke="#fff" stroke-opacity="0.588" stroke-width="0.44"/>
<ellipse cx="379.5" cy="421.0" rx="2.8" ry="2.5" fill="none" stroke="#fff" stroke-opacity="0.090" stroke-width="1.43" filter="url(#b03)"/>
<ellipse cx="379.5" cy="421.0" rx="2.8" ry="2.5" fill="none" stroke="#fff" stroke-opacity="0.315" stroke-width="0.44"/>
<ellipse cx="353.1" cy="349.1" rx="4.5" ry="4.3" fill="url(#rgb)" fill-opacity="1"/>
<ellipse cx="351.4" cy="357.2" rx="3.7" ry="6.2" fill="url(#rgb)" fill-opacity="1" transform="rotate(-15 351.4 357.2)"/>
<ellipse cx="360.1" cy="358.7" rx="8.7" ry="4.0" fill="url(#rgb)" fill-opacity="1" transform="rotate(42 360.1 358.7)"/>
<ellipse cx="341.9" cy="366.5" rx="3.4" ry="4.3" fill="url(#rgb)" fill-opacity="0.7"/>
<ellipse cx="350.9" cy="374.4" rx="4.9" ry="4.3" fill="url(#rgb)" fill-opacity="0.65"/>
<ellipse cx="346.4" cy="374.9" rx="2.5" ry="3.7" fill="url(#rgb)" fill-opacity="0.55"/>
<ellipse cx="346.9" cy="362.0" rx="2.2" ry="2.2" fill="url(#rgb)" fill-opacity="0.5"/></g><g filter="url(#cmap)"><rect x="665.0" y="26.0" width="406.9" height="408.7" fill="#030303"/><g transform="translate(622,0)"><g filter="url(#spk)">
<ellipse cx="132.8" cy="118.4" rx="48.3" ry="46.0" fill="url(#rg)" fill-opacity="0.22399999999999998"/>
<ellipse cx="140.6" cy="93.7" rx="25.8" ry="16.8" fill="url(#rg)" fill-opacity="0.42"/>
<ellipse cx="117.6" cy="92.0" rx="5.1" ry="3.9" fill="url(#rg)" fill-opacity="0.42"/>
<ellipse cx="157.4" cy="137.4" rx="11.2" ry="10.1" fill="url(#rg)" fill-opacity="0.35"/>
<ellipse cx="163.1" cy="112.8" rx="7.9" ry="16.8" fill="url(#rg)" fill-opacity="0.315"/>
<ellipse cx="108.1" cy="131.8" rx="13.5" ry="22.4" fill="url(#rg)" fill-opacity="0.175"/>
</g>
<path d="M100.2,126.2C101.0,122.9 103.0,117.1 105.8,113.9C108.6,110.7 112.9,108.6 117.0,107.1C121.2,105.6 126.2,105.7 130.5,104.9C134.8,104.1 139.3,102.4 142.9,102.1C146.4,101.8 149.2,102.0 151.8,103.2C154.5,104.4 157.0,106.9 158.6,109.4C160.1,111.9 161.2,115.4 161.0,118.4C160.9,121.4 159.4,124.9 157.4,127.3C155.5,129.8 151.6,131.1 149.6,133.0C147.5,134.8 146.6,136.7 145.1,138.6C143.6,140.4 143.0,142.4 140.6,144.2C138.2,146.0 134.1,148.5 130.5,149.2C127.0,150.0 123.0,149.9 119.3,148.7C115.5,147.5 111.1,144.4 108.1,141.9C105.1,139.5 102.6,136.7 101.3,134.1C100.0,131.5 99.5,129.6 100.2,126.2Z" fill="#000" fill-opacity="0.93" stroke="#fff" stroke-opacity="0.143" stroke-width="1.56" stroke-linecap="round" stroke-linejoin="round" filter="url(#b03)"/>
<path d="M100.2,126.2C101.0,122.9 103.0,117.1 105.8,113.9C108.6,110.7 112.9,108.6 117.0,107.1C121.2,105.6 126.2,105.7 130.5,104.9C134.8,104.1 139.3,102.4 142.9,102.1C146.4,101.8 149.2,102.0 151.8,103.2C154.5,104.4 157.0,106.9 158.6,109.4C160.1,111.9 161.2,115.4 161.0,118.4C160.9,121.4 159.4,124.9 157.4,127.3C155.5,129.8 151.6,131.1 149.6,133.0C147.5,134.8 146.6,136.7 145.1,138.6C143.6,140.4 143.0,142.4 140.6,144.2C138.2,146.0 134.1,148.5 130.5,149.2C127.0,150.0 123.0,149.9 119.3,148.7C115.5,147.5 111.1,144.4 108.1,141.9C105.1,139.5 102.6,136.7 101.3,134.1C100.0,131.5 99.5,129.6 100.2,126.2Z" fill="none" stroke="#fff" stroke-opacity="0.499" stroke-width="0.48" stroke-linecap="round" stroke-linejoin="round"/>
<path d="M117.0,107.1C119.3,106.8 126.2,105.7 130.5,104.9C134.8,104.1 139.3,102.4 142.9,102.1C146.4,101.8 149.2,102.0 151.8,103.2C154.5,104.4 157.4,108.4 158.6,109.4" fill="none" stroke="#fff" stroke-opacity="0.063" stroke-width="1.56" stroke-linecap="round" stroke-linejoin="round" filter="url(#b03)"/>
<path d="M117.0,107.1C119.3,106.8 126.2,105.7 130.5,104.9C134.8,104.1 139.3,102.4 142.9,102.1C146.4,101.8 149.2,102.0 151.8,103.2C154.5,104.4 157.4,108.4 158.6,109.4" fill="none" stroke="#fff" stroke-opacity="0.222" stroke-width="0.48" stroke-linecap="round" stroke-linejoin="round"/>
<path d="M161.0,118.4C160.4,119.9 159.4,124.9 157.4,127.3C155.5,129.8 150.9,132.0 149.6,133.0" fill="none" stroke="#fff" stroke-opacity="0.079" stroke-width="1.82" stroke-linecap="round" stroke-linejoin="round" filter="url(#b03)"/>
<path d="M161.0,118.4C160.4,119.9 159.4,124.9 157.4,127.3C155.5,129.8 150.9,132.0 149.6,133.0" fill="none" stroke="#fff" stroke-opacity="0.277" stroke-width="0.56" stroke-linecap="round" stroke-linejoin="round"/>
<ellipse cx="140.6" cy="95.9" rx="3.1" ry="1.8" fill="url(#rgb)" fill-opacity="0.285" transform="rotate(-30 140.6 95.9)"/>
<ellipse cx="147.3" cy="92.6" rx="2.1" ry="1.8" fill="url(#rgb)" fill-opacity="0.2375"/>
<ellipse cx="117.0" cy="92.0" rx="2.6" ry="1.6" fill="url(#rgb)" fill-opacity="0.2375" transform="rotate(-30 117.0 92.0)"/>
<g filter="url(#spk)">
<ellipse cx="361.7" cy="121.7" rx="47.4" ry="47.4" fill="url(#rg)" fill-opacity="0.21"/>
<ellipse cx="350.3" cy="94.2" rx="19.9" ry="15.3" fill="url(#rg)" fill-opacity="0.27999999999999997"/>
</g>
<path d="M343.4,88.1C341.2,87.6 337.1,89.2 334.9,91.1C332.8,93.0 331.6,96.7 330.7,99.5C329.8,102.3 330.2,105.4 329.6,108.0C329.0,110.5 327.3,112.7 327.3,114.8C327.3,117.0 328.3,119.1 329.6,121.0C330.9,122.9 333.0,124.9 334.9,126.3C336.9,127.7 339.0,129.6 341.1,129.4C343.1,129.1 346.0,127.1 347.2,124.8C348.3,122.5 348.0,119.1 348.0,115.6C348.0,112.2 347.2,107.7 347.2,104.1C347.2,100.6 348.6,96.9 348.0,94.2C347.3,91.5 345.5,88.6 343.4,88.1Z" fill="#000" fill-opacity="0.75" stroke="#fff" stroke-opacity="0.158" stroke-width="1.56" stroke-linecap="round" stroke-linejoin="round" filter="url(#b03)"/>
<path d="M343.4,88.1C341.2,87.6 337.1,89.2 334.9,91.1C332.8,93.0 331.6,96.7 330.7,99.5C329.8,102.3 330.2,105.4 329.6,108.0C329.0,110.5 327.3,112.7 327.3,114.8C327.3,117.0 328.3,119.1 329.6,121.0C330.9,122.9 333.0,124.9 334.9,126.3C336.9,127.7 339.0,129.6 341.1,129.4C343.1,129.1 346.0,127.1 347.2,124.8C348.3,122.5 348.0,119.1 348.0,115.6C348.0,112.2 347.2,107.7 347.2,104.1C347.2,100.6 348.6,96.9 348.0,94.2C347.3,91.5 345.5,88.6 343.4,88.1Z" fill="none" stroke="#fff" stroke-opacity="0.554" stroke-width="0.48" stroke-linecap="round" stroke-linejoin="round"/>
<path d="M341.1,129.4C339.5,131.3 338.5,135.3 338.4,137.8C338.3,140.4 338.9,142.9 340.3,144.7C341.7,146.5 345.2,147.2 346.8,148.5C348.5,149.8 348.8,151.0 350.3,152.3C351.7,153.7 353.8,155.7 355.6,156.6C357.4,157.4 359.7,158.2 361.0,157.7C362.2,157.3 363.3,155.8 363.3,153.9C363.3,152.0 362.0,148.8 361.0,146.2C359.9,143.7 358.3,141.1 357.1,138.6C356.0,136.0 355.6,133.0 354.1,130.9C352.6,128.9 350.1,126.6 348.0,126.3C345.8,126.1 342.7,127.5 341.1,129.4Z" fill="#000" fill-opacity="0.75" stroke="#fff" stroke-opacity="0.158" stroke-width="1.56" stroke-linecap="round" stroke-linejoin="round" filter="url(#b03)"/>
<path d="M341.1,129.4C339.5,131.3 338.5,135.3 338.4,137.8C338.3,140.4 338.9,142.9 340.3,144.7C341.7,146.5 345.2,147.2 346.8,148.5C348.5,149.8 348.8,151.0 350.3,152.3C351.7,153.7 353.8,155.7 355.6,156.6C357.4,157.4 359.7,158.2 361.0,157.7C362.2,157.3 363.3,155.8 363.3,153.9C363.3,152.0 362.0,148.8 361.0,146.2C359.9,143.7 358.3,141.1 357.1,138.6C356.0,136.0 355.6,133.0 354.1,130.9C352.6,128.9 350.1,126.6 348.0,126.3C345.8,126.1 342.7,127.5 341.1,129.4Z" fill="none" stroke="#fff" stroke-opacity="0.554" stroke-width="0.48" stroke-linecap="round" stroke-linejoin="round"/>
<path d="M374.0,104.9C375.5,103.6 380.5,102.3 383.2,103.0C385.8,103.6 388.4,106.4 390.1,108.7C391.7,111.1 392.7,114.5 393.1,117.1C393.6,119.8 392.6,122.2 392.7,124.8C392.9,127.3 394.2,129.8 393.9,132.4C393.6,135.1 392.2,138.2 390.8,140.9C389.4,143.5 387.5,146.1 385.5,148.5C383.4,150.9 381.0,153.7 378.6,155.4C376.1,157.1 373.3,158.6 370.9,158.9C368.5,159.1 365.6,158.4 364.0,156.9C362.5,155.5 361.6,153.1 361.7,150.1C361.9,147.0 363.8,142.3 364.8,138.6C365.8,134.9 366.8,131.3 367.9,127.9C368.9,124.4 369.9,120.7 370.9,117.9C371.9,115.1 373.5,113.2 374.0,111.0C374.5,108.9 372.4,106.2 374.0,104.9Z" fill="#000" fill-opacity="0.75" stroke="#fff" stroke-opacity="0.174" stroke-width="1.56" stroke-linecap="round" stroke-linejoin="round" filter="url(#b03)"/>
<path d="M374.0,104.9C375.5,103.6 380.5,102.3 383.2,103.0C385.8,103.6 388.4,106.4 390.1,108.7C391.7,111.1 392.7,114.5 393.1,117.1C393.6,119.8 392.6,122.2 392.7,124.8C392.9,127.3 394.2,129.8 393.9,132.4C393.6,135.1 392.2,138.2 390.8,140.9C389.4,143.5 387.5,146.1 385.5,148.5C383.4,150.9 381.0,153.7 378.6,155.4C376.1,157.1 373.3,158.6 370.9,158.9C368.5,159.1 365.6,158.4 364.0,156.9C362.5,155.5 361.6,153.1 361.7,150.1C361.9,147.0 363.8,142.3 364.8,138.6C365.8,134.9 366.8,131.3 367.9,127.9C368.9,124.4 369.9,120.7 370.9,117.9C371.9,115.1 373.5,113.2 374.0,111.0C374.5,108.9 372.4,106.2 374.0,104.9Z" fill="none" stroke="#fff" stroke-opacity="0.610" stroke-width="0.48" stroke-linecap="round" stroke-linejoin="round"/>
<path d="M386.2,129.4C387.3,128.5 390.2,127.3 391.6,127.9C392.9,128.4 394.3,131.0 394.3,132.8C394.2,134.6 392.3,137.0 391.2,138.6C390.1,140.1 388.8,142.0 387.8,142.0C386.7,142.0 385.1,140.0 384.7,138.6C384.3,137.1 385.1,134.7 385.3,133.2C385.6,131.7 385.2,130.3 386.2,129.4Z" fill="none" stroke="#fff" stroke-opacity="0.317" stroke-width="1.69" stroke-linecap="round" stroke-linejoin="round" filter="url(#b03)"/>
<path d="M386.2,129.4C387.3,128.5 390.2,127.3 391.6,127.9C392.9,128.4 394.3,131.0 394.3,132.8C394.2,134.6 392.3,137.0 391.2,138.6C390.1,140.1 388.8,142.0 387.8,142.0C386.7,142.0 385.1,140.0 384.7,138.6C384.3,137.1 385.1,134.7 385.3,133.2C385.6,131.7 385.2,130.3 386.2,129.4Z" fill="none" stroke="#fff" stroke-opacity="1.000" stroke-width="0.52" stroke-linecap="round" stroke-linejoin="round"/>
<path d="M361.7,103.4C361.9,102.2 362.2,99.3 363.3,98.0C364.3,96.7 366.5,95.3 367.9,95.3C369.3,95.3 371.2,96.7 371.7,98.0C372.2,99.3 371.8,102.1 370.9,103.4C370.0,104.6 367.7,105.4 366.3,105.7C364.9,105.9 363.3,105.3 362.5,104.9C361.7,104.5 361.6,104.5 361.7,103.4Z" fill="none" stroke="#fff" stroke-opacity="0.422" stroke-width="1.69" stroke-linecap="round" stroke-linejoin="round" filter="url(#b03)"/>
<path d="M361.7,103.4C361.9,102.2 362.2,99.3 363.3,98.0C364.3,96.7 366.5,95.3 367.9,95.3C369.3,95.3 371.2,96.7 371.7,98.0C372.2,99.3 371.8,102.1 370.9,103.4C370.0,104.6 367.7,105.4 366.3,105.7C364.9,105.9 363.3,105.3 362.5,104.9C361.7,104.5 361.6,104.5 361.7,103.4Z" fill="none" stroke="#fff" stroke-opacity="1.000" stroke-width="0.52" stroke-linecap="round" stroke-linejoin="round"/>
<path d="M367.9,107.2C368.5,105.8 371.2,104.0 372.4,104.1C373.7,104.3 375.4,106.6 375.5,108.0C375.6,109.4 374.4,111.8 373.2,112.6C372.1,113.3 369.5,113.4 368.6,112.6C367.7,111.7 367.2,108.6 367.9,107.2Z" fill="none" stroke="#fff" stroke-opacity="0.396" stroke-width="1.69" stroke-linecap="round" stroke-linejoin="round" filter="url(#b03)"/>
<path d="M367.9,107.2C368.5,105.8 371.2,104.0 372.4,104.1C373.7,104.3 375.4,106.6 375.5,108.0C375.6,109.4 374.4,111.8 373.2,112.6C372.1,113.3 369.5,113.4 368.6,112.6C367.7,111.7 367.2,108.6 367.9,107.2Z" fill="none" stroke="#fff" stroke-opacity="1.000" stroke-width="0.52" stroke-linecap="round" stroke-linejoin="round"/>
<path d="M358.7,104.1C358.5,102.9 359.9,100.2 361.0,99.5C362.0,98.9 364.0,99.4 364.8,100.3C365.6,101.2 366.1,103.8 365.6,104.9C365.1,106.0 362.9,107.3 361.7,107.2C360.6,107.1 358.8,105.4 358.7,104.1Z" fill="none" stroke="#fff" stroke-opacity="0.396" stroke-width="1.69" stroke-linecap="round" stroke-linejoin="round" filter="url(#b03)"/>
<path d="M358.7,104.1C358.5,102.9 359.9,100.2 361.0,99.5C362.0,98.9 364.0,99.4 364.8,100.3C365.6,101.2 366.1,103.8 365.6,104.9C365.1,106.0 362.9,107.3 361.7,107.2C360.6,107.1 358.8,105.4 358.7,104.1Z" fill="none" stroke="#fff" stroke-opacity="1.000" stroke-width="0.52" stroke-linecap="round" stroke-linejoin="round"/>
<path d="M347.2,100.3C347.8,100.6 349.6,101.1 351.0,101.8C352.4,102.6 354.0,103.8 355.6,104.9C357.3,106.0 359.3,107.8 361.0,108.7C362.6,109.6 364.4,110.4 365.6,110.3C366.7,110.1 367.5,108.3 367.9,108.0" fill="none" stroke="#fff" stroke-opacity="0.422" stroke-width="1.95" stroke-linecap="round" stroke-linejoin="round" filter="url(#b03)"/>
<path d="M347.2,100.3C347.8,100.6 349.6,101.1 351.0,101.8C352.4,102.6 354.0,103.8 355.6,104.9C357.3,106.0 359.3,107.8 361.0,108.7C362.6,109.6 364.4,110.4 365.6,110.3C366.7,110.1 367.5,108.3 367.9,108.0" fill="none" stroke="#fff" stroke-opacity="1.000" stroke-width="0.60" stroke-linecap="round" stroke-linejoin="round"/>
<path d="M348.0,108.0C348.6,109.0 350.3,112.4 351.8,114.1C353.3,115.7 355.6,117.7 357.1,117.9C358.7,118.2 359.7,116.8 361.0,115.6C362.2,114.5 364.2,111.8 364.8,111.0" fill="none" stroke="#fff" stroke-opacity="0.422" stroke-width="2.08" stroke-linecap="round" stroke-linejoin="round" filter="url(#b03)"/>
<path d="M348.0,108.0C348.6,109.0 350.3,112.4 351.8,114.1C353.3,115.7 355.6,117.7 357.1,117.9C358.7,118.2 359.7,116.8 361.0,115.6C362.2,114.5 364.2,111.8 364.8,111.0" fill="none" stroke="#fff" stroke-opacity="1.000" stroke-width="0.64" stroke-linecap="round" stroke-linejoin="round"/>
<path d="M364.8,111.0C365.1,112.0 365.6,115.2 366.3,117.1C367.1,119.1 369.1,121.2 369.4,122.5C369.6,123.8 368.1,124.4 367.9,124.8" fill="none" stroke="#fff" stroke-opacity="0.370" stroke-width="1.82" stroke-linecap="round" stroke-linejoin="round" filter="url(#b03)"/>
<path d="M364.8,111.0C365.1,112.0 365.6,115.2 366.3,117.1C367.1,119.1 369.1,121.2 369.4,122.5C369.6,123.8 368.1,124.4 367.9,124.8" fill="none" stroke="#fff" stroke-opacity="1.000" stroke-width="0.56" stroke-linecap="round" stroke-linejoin="round"/>
<path d="M350.3,118.7C351.1,119.4 354.3,121.5 355.6,123.3C356.9,125.1 357.4,127.5 357.9,129.4C358.4,131.3 358.8,133.0 358.7,134.7C358.5,136.5 357.0,138.4 357.1,140.1C357.3,141.8 358.5,143.2 359.4,144.7C360.3,146.2 362.0,148.5 362.5,149.3" fill="none" stroke="#fff" stroke-opacity="0.422" stroke-width="2.08" stroke-linecap="round" stroke-linejoin="round" filter="url(#b03)"/>
<path d="M350.3,118.7C351.1,119.4 354.3,121.5 355.6,123.3C356.9,125.1 357.4,127.5 357.9,129.4C358.4,131.3 358.8,133.0 358.7,134.7C358.5,136.5 357.0,138.4 357.1,140.1C357.3,141.8 358.5,143.2 359.4,144.7C360.3,146.2 362.0,148.5 362.5,149.3" fill="none" stroke="#fff" stroke-opacity="1.000" stroke-width="0.64" stroke-linecap="round" stroke-linejoin="round"/>
<path d="M363.3,117.1C362.9,118.4 361.7,122.5 361.0,124.8C360.2,127.1 359.1,129.9 358.7,130.9" fill="none" stroke="#fff" stroke-opacity="0.317" stroke-width="1.69" stroke-linecap="round" stroke-linejoin="round" filter="url(#b03)"/>
<path d="M363.3,117.1C362.9,118.4 361.7,122.5 361.0,124.8C360.2,127.1 359.1,129.9 358.7,130.9" fill="none" stroke="#fff" stroke-opacity="1.000" stroke-width="0.52" stroke-linecap="round" stroke-linejoin="round"/>
<path d="M358.7,134.7C359.1,135.4 360.8,137.2 361.0,138.6C361.1,140.0 359.7,142.4 359.4,143.2" fill="none" stroke="#fff" stroke-opacity="0.317" stroke-width="1.69" stroke-linecap="round" stroke-linejoin="round" filter="url(#b03)"/>
<path d="M358.7,134.7C359.1,135.4 360.8,137.2 361.0,138.6C361.1,140.0 359.7,142.4 359.4,143.2" fill="none" stroke="#fff" stroke-opacity="1.000" stroke-width="0.52" stroke-linecap="round" stroke-linejoin="round"/>
<ellipse cx="364.8" cy="109.5" rx="3.7" ry="3.3" fill="url(#rgb)" fill-opacity="0.76"/>
<ellipse cx="355.6" cy="117.1" rx="4.1" ry="2.2" fill="url(#rgb)" fill-opacity="0.76" transform="rotate(20 355.6 117.1)"/>
<ellipse cx="358.7" cy="134.0" rx="2.4" ry="3.7" fill="url(#rgb)" fill-opacity="0.76"/>
<ellipse cx="348.7" cy="101.1" rx="2.9" ry="1.9" fill="url(#rgb)" fill-opacity="0.6649999999999999"/>
<ellipse cx="369.0" cy="122.9" rx="2.2" ry="1.6" fill="url(#rgb)" fill-opacity="0.57"/>
<ellipse cx="292.1" cy="208.0" rx="1.7" ry="1.7" fill="url(#rgb)" fill-opacity="0.475"/>
<ellipse cx="342.9" cy="67.9" rx="1.5" ry="1.5" fill="url(#rgb)" fill-opacity="0.19"/>
<g filter="url(#spk)">
<ellipse cx="109.7" cy="367.4" rx="90.8" ry="65.5" fill="url(#rg)" fill-opacity="0.154" transform="rotate(35 109.7 367.4)"/>
<ellipse cx="82.2" cy="354.7" rx="42.2" ry="33.8" fill="url(#rg)" fill-opacity="0.098"/>
<ellipse cx="217.4" cy="297.7" rx="25.3" ry="44.4" fill="url(#rg)" fill-opacity="0.13999999999999999"/>
<ellipse cx="171.0" cy="354.7" rx="69.7" ry="69.7" fill="url(#rg)" fill-opacity="0.105"/>
<ellipse cx="128.7" cy="418.1" rx="63.4" ry="25.3" fill="url(#rg)" fill-opacity="0.105"/>
</g>
<path d="M127.9,288.4C130.3,284.9 134.2,281.7 137.9,279.9C141.6,278.2 146.3,277.3 150.1,277.7C153.9,278.0 158.1,279.7 160.8,282.2C163.5,284.8 165.1,288.6 166.2,293.0C167.2,297.3 167.2,303.4 167.2,308.3C167.3,313.1 167.2,318.2 166.6,322.0C166.1,325.9 164.6,327.9 163.9,331.2C163.2,334.5 163.6,339.6 162.3,341.9C161.1,344.2 159.8,344.5 156.2,345.0C152.7,345.5 146.0,345.4 140.9,345.0C135.8,344.6 129.4,343.7 125.6,342.7C121.8,341.7 119.6,340.8 118.0,338.9C116.3,337.0 115.2,333.9 115.7,331.2C116.2,328.5 118.5,324.5 121.0,322.8C123.6,321.1 130.2,322.9 131.0,321.3C131.7,319.6 126.8,316.3 125.6,312.9C124.4,309.4 123.4,304.7 123.8,300.6C124.2,296.5 125.6,291.8 127.9,288.4Z" fill="#000" fill-opacity="0.88" stroke="#fff" stroke-opacity="0.100" stroke-width="1.43" stroke-linecap="round" stroke-linejoin="round" filter="url(#b03)"/>
<path d="M127.9,288.4C130.3,284.9 134.2,281.7 137.9,279.9C141.6,278.2 146.3,277.3 150.1,277.7C153.9,278.0 158.1,279.7 160.8,282.2C163.5,284.8 165.1,288.6 166.2,293.0C167.2,297.3 167.2,303.4 167.2,308.3C167.3,313.1 167.2,318.2 166.6,322.0C166.1,325.9 164.6,327.9 163.9,331.2C163.2,334.5 163.6,339.6 162.3,341.9C161.1,344.2 159.8,344.5 156.2,345.0C152.7,345.5 146.0,345.4 140.9,345.0C135.8,344.6 129.4,343.7 125.6,342.7C121.8,341.7 119.6,340.8 118.0,338.9C116.3,337.0 115.2,333.9 115.7,331.2C116.2,328.5 118.5,324.5 121.0,322.8C123.6,321.1 130.2,322.9 131.0,321.3C131.7,319.6 126.8,316.3 125.6,312.9C124.4,309.4 123.4,304.7 123.8,300.6C124.2,296.5 125.6,291.8 127.9,288.4Z" fill="none" stroke="#fff" stroke-opacity="0.351" stroke-width="0.44" stroke-linecap="round" stroke-linejoin="round"/>
<ellipse cx="118.0" cy="315.9" rx="5.8" ry="5.8" fill="#000" fill-opacity="0.88" stroke="#fff" stroke-opacity="0.100" stroke-width="1.43" filter="url(#b03)"/>
<ellipse cx="118.0" cy="315.9" rx="5.8" ry="5.8" fill="none" stroke="#fff" stroke-opacity="0.351" stroke-width="0.44"/>
<ellipse cx="171.1" cy="281.5" rx="5.8" ry="5.5" fill="#000" fill-opacity="0.88" stroke="#fff" stroke-opacity="0.100" stroke-width="1.43" filter="url(#b03)"/>
<ellipse cx="171.1" cy="281.5" rx="5.8" ry="5.5" fill="none" stroke="#fff" stroke-opacity="0.351" stroke-width="0.44"/>
<path d="M168.5,300.6C169.0,296.8 169.7,292.7 171.5,289.9C173.3,287.1 176.1,285.1 179.2,283.8C182.2,282.5 186.3,282.0 189.9,282.2C193.5,282.5 197.6,283.5 200.6,285.3C203.7,287.1 206.8,289.9 208.3,293.0C209.7,296.0 209.7,300.4 209.5,303.7C209.2,307.0 208.2,309.8 206.7,312.9C205.3,315.9 202.9,319.6 200.6,322.0C198.3,324.5 196.3,326.4 193.0,327.4C189.6,328.4 184.3,328.8 180.7,328.2C177.1,327.5 173.6,326.1 171.5,323.6C169.4,321.0 168.7,316.7 168.2,312.9C167.7,309.0 167.9,304.4 168.5,300.6Z" fill="#000" fill-opacity="0.88" stroke="#fff" stroke-opacity="0.127" stroke-width="1.43" stroke-linecap="round" stroke-linejoin="round" filter="url(#b03)"/>
<path d="M168.5,300.6C169.0,296.8 169.7,292.7 171.5,289.9C173.3,287.1 176.1,285.1 179.2,283.8C182.2,282.5 186.3,282.0 189.9,282.2C193.5,282.5 197.6,283.5 200.6,285.3C203.7,287.1 206.8,289.9 208.3,293.0C209.7,296.0 209.7,300.4 209.5,303.7C209.2,307.0 208.2,309.8 206.7,312.9C205.3,315.9 202.9,319.6 200.6,322.0C198.3,324.5 196.3,326.4 193.0,327.4C189.6,328.4 184.3,328.8 180.7,328.2C177.1,327.5 173.6,326.1 171.5,323.6C169.4,321.0 168.7,316.7 168.2,312.9C167.7,309.0 167.9,304.4 168.5,300.6Z" fill="none" stroke="#fff" stroke-opacity="0.444" stroke-width="0.44" stroke-linecap="round" stroke-linejoin="round"/>
<ellipse cx="214.1" cy="306.0" rx="5.8" ry="6.9" fill="#000" fill-opacity="0.88" stroke="#fff" stroke-opacity="0.100" stroke-width="1.43" filter="url(#b03)"/>
<ellipse cx="214.1" cy="306.0" rx="5.8" ry="6.9" fill="none" stroke="#fff" stroke-opacity="0.351" stroke-width="0.44"/>
<path d="M202.1,323.6C203.4,321.0 205.7,317.1 208.3,315.9C210.8,314.8 214.8,315.2 217.4,316.7C220.1,318.2 223.1,321.7 224.3,325.1C225.6,328.5 225.9,333.8 225.1,337.3C224.3,340.9 221.8,344.7 219.7,346.5C217.7,348.3 214.8,348.3 212.9,348.1C210.9,347.8 210.1,346.8 208.3,345.0C206.5,343.2 203.4,339.6 202.1,337.3C200.9,335.1 200.6,333.5 200.6,331.2C200.6,328.9 200.9,326.1 202.1,323.6Z" fill="#000" fill-opacity="0.88" stroke="#fff" stroke-opacity="0.100" stroke-width="1.43" stroke-linecap="round" stroke-linejoin="round" filter="url(#b03)"/>
<path d="M202.1,323.6C203.4,321.0 205.7,317.1 208.3,315.9C210.8,314.8 214.8,315.2 217.4,316.7C220.1,318.2 223.1,321.7 224.3,325.1C225.6,328.5 225.9,333.8 225.1,337.3C224.3,340.9 221.8,344.7 219.7,346.5C217.7,348.3 214.8,348.3 212.9,348.1C210.9,347.8 210.1,346.8 208.3,345.0C206.5,343.2 203.4,339.6 202.1,337.3C200.9,335.1 200.6,333.5 200.6,331.2C200.6,328.9 200.9,326.1 202.1,323.6Z" fill="none" stroke="#fff" stroke-opacity="0.351" stroke-width="0.44" stroke-linecap="round" stroke-linejoin="round"/>
<ellipse cx="225.9" cy="356.5" rx="6.9" ry="6.9" fill="#000" fill-opacity="0.88" stroke="#fff" stroke-opacity="0.100" stroke-width="1.43" filter="url(#b03)"/>
<ellipse cx="225.9" cy="356.5" rx="6.9" ry="6.9" fill="none" stroke="#fff" stroke-opacity="0.351" stroke-width="0.44"/>
<path d="M163.9,335.8C164.9,333.8 166.2,332.1 168.5,331.2C170.8,330.3 174.6,329.9 177.7,330.5C180.7,331.0 183.3,332.4 186.8,334.3C190.4,336.2 195.0,339.1 199.1,341.9C203.2,344.7 208.0,347.8 211.3,351.1C214.6,354.4 216.9,358.0 219.0,361.8C221.0,365.7 222.7,369.7 223.6,374.1C224.5,378.4 224.8,383.8 224.3,387.9C223.8,391.9 222.4,395.8 220.5,398.6C218.6,401.4 215.4,403.9 212.9,404.7C210.3,405.5 208.3,404.2 205.2,403.2C202.1,402.1 198.1,400.4 194.5,398.6C190.9,396.8 187.6,393.7 183.8,392.4C179.9,391.2 175.6,391.9 171.5,390.9C167.4,389.9 162.6,388.4 159.3,386.3C156.0,384.3 153.0,381.2 151.6,378.7C150.2,376.1 150.1,373.3 150.9,371.0C151.6,368.7 154.3,366.4 156.2,364.9C158.1,363.4 160.8,363.9 162.3,361.8C163.9,359.8 165.4,355.7 165.4,352.7C165.4,349.6 162.6,346.3 162.3,343.5C162.1,340.7 162.9,337.9 163.9,335.8Z" fill="#000" fill-opacity="0.88" stroke="#fff" stroke-opacity="0.127" stroke-width="1.43" stroke-linecap="round" stroke-linejoin="round" filter="url(#b03)"/>
<path d="M163.9,335.8C164.9,333.8 166.2,332.1 168.5,331.2C170.8,330.3 174.6,329.9 177.7,330.5C180.7,331.0 183.3,332.4 186.8,334.3C190.4,336.2 195.0,339.1 199.1,341.9C203.2,344.7 208.0,347.8 211.3,351.1C214.6,354.4 216.9,358.0 219.0,361.8C221.0,365.7 222.7,369.7 223.6,374.1C224.5,378.4 224.8,383.8 224.3,387.9C223.8,391.9 222.4,395.8 220.5,398.6C218.6,401.4 215.4,403.9 212.9,404.7C210.3,405.5 208.3,404.2 205.2,403.2C202.1,402.1 198.1,400.4 194.5,398.6C190.9,396.8 187.6,393.7 183.8,392.4C179.9,391.2 175.6,391.9 171.5,390.9C167.4,389.9 162.6,388.4 159.3,386.3C156.0,384.3 153.0,381.2 151.6,378.7C150.2,376.1 150.1,373.3 150.9,371.0C151.6,368.7 154.3,366.4 156.2,364.9C158.1,363.4 160.8,363.9 162.3,361.8C163.9,359.8 165.4,355.7 165.4,352.7C165.4,349.6 162.6,346.3 162.3,343.5C162.1,340.7 162.9,337.9 163.9,335.8Z" fill="none" stroke="#fff" stroke-opacity="0.444" stroke-width="0.44" stroke-linecap="round" stroke-linejoin="round"/>
<path d="M166.9,355.7C169.2,356.0 176.9,356.2 180.7,357.2C184.5,358.3 187.9,360.1 189.9,361.8C191.9,363.6 193.2,365.9 193.0,368.0C192.7,370.0 189.1,373.1 188.4,374.1" fill="none" stroke="#fff" stroke-opacity="0.048" stroke-width="1.43" stroke-linecap="round" stroke-linejoin="round" filter="url(#b03)"/>
<path d="M166.9,355.7C169.2,356.0 176.9,356.2 180.7,357.2C184.5,358.3 187.9,360.1 189.9,361.8C191.9,363.6 193.2,365.9 193.0,368.0C192.7,370.0 189.1,373.1 188.4,374.1" fill="none" stroke="#fff" stroke-opacity="0.166" stroke-width="0.44" stroke-linecap="round" stroke-linejoin="round"/>
<ellipse cx="194.5" cy="331.2" rx="5.1" ry="5.1" fill="#000" fill-opacity="0.88" stroke="#fff" stroke-opacity="0.153" stroke-width="1.43" filter="url(#b03)"/>
<ellipse cx="194.5" cy="331.2" rx="5.1" ry="5.1" fill="none" stroke="#fff" stroke-opacity="0.536" stroke-width="0.44"/>
<path d="M98.8,360.3C99.1,357.5 99.5,353.3 101.1,351.1C102.8,349.0 106.2,347.3 108.8,347.3C111.3,347.3 114.5,348.7 116.4,351.1C118.3,353.5 119.7,358.3 120.3,361.8C120.8,365.4 120.6,370.0 119.5,372.6C118.3,375.1 115.9,376.9 113.4,377.1C110.8,377.4 106.5,375.6 104.2,374.1C101.9,372.6 100.5,370.3 99.6,368.0C98.7,365.7 98.6,363.1 98.8,360.3Z" fill="#000" fill-opacity="0.88" stroke="#fff" stroke-opacity="0.100" stroke-width="1.43" stroke-linecap="round" stroke-linejoin="round" filter="url(#b03)"/>
<path d="M98.8,360.3C99.1,357.5 99.5,353.3 101.1,351.1C102.8,349.0 106.2,347.3 108.8,347.3C111.3,347.3 114.5,348.7 116.4,351.1C118.3,353.5 119.7,358.3 120.3,361.8C120.8,365.4 120.6,370.0 119.5,372.6C118.3,375.1 115.9,376.9 113.4,377.1C110.8,377.4 106.5,375.6 104.2,374.1C101.9,372.6 100.5,370.3 99.6,368.0C98.7,365.7 98.6,363.1 98.8,360.3Z" fill="none" stroke="#fff" stroke-opacity="0.351" stroke-width="0.44" stroke-linecap="round" stroke-linejoin="round"/>
<path d="M122.6,355.7C123.7,352.7 126.6,349.6 130.2,348.1C133.8,346.5 139.6,346.3 144.0,346.5C148.3,346.8 153.7,347.6 156.2,349.6C158.8,351.6 159.8,355.7 159.3,358.8C158.8,361.8 155.2,365.2 153.2,368.0C151.1,370.8 149.6,374.1 147.0,375.6C144.5,377.1 140.9,377.4 137.9,377.1C134.8,376.9 131.1,375.9 128.7,374.1C126.3,372.3 124.3,369.5 123.3,366.4C122.3,363.4 121.4,358.8 122.6,355.7Z" fill="#000" fill-opacity="0.88" stroke="#fff" stroke-opacity="0.100" stroke-width="1.43" stroke-linecap="round" stroke-linejoin="round" filter="url(#b03)"/>
<path d="M122.6,355.7C123.7,352.7 126.6,349.6 130.2,348.1C133.8,346.5 139.6,346.3 144.0,346.5C148.3,346.8 153.7,347.6 156.2,349.6C158.8,351.6 159.8,355.7 159.3,358.8C158.8,361.8 155.2,365.2 153.2,368.0C151.1,370.8 149.6,374.1 147.0,375.6C144.5,377.1 140.9,377.4 137.9,377.1C134.8,376.9 131.1,375.9 128.7,374.1C126.3,372.3 124.3,369.5 123.3,366.4C122.3,363.4 121.4,358.8 122.6,355.7Z" fill="none" stroke="#fff" stroke-opacity="0.351" stroke-width="0.44" stroke-linecap="round" stroke-linejoin="round"/>
<ellipse cx="182.2" cy="405.5" rx="9.9" ry="9.2" fill="#000" fill-opacity="0.88" stroke="#fff" stroke-opacity="0.127" stroke-width="1.43" filter="url(#b03)"/>
<ellipse cx="182.2" cy="405.5" rx="9.9" ry="9.2" fill="none" stroke="#fff" stroke-opacity="0.444" stroke-width="0.44"/>
<ellipse cx="199.8" cy="408.5" rx="5.4" ry="5.4" fill="#000" fill-opacity="0.88" stroke="#fff" stroke-opacity="0.100" stroke-width="1.43" filter="url(#b03)"/>
<ellipse cx="199.8" cy="408.5" rx="5.4" ry="5.4" fill="none" stroke="#fff" stroke-opacity="0.351" stroke-width="0.44"/>
<ellipse cx="170.0" cy="413.1" rx="4.3" ry="4.3" fill="#000" fill-opacity="0.88" stroke="#fff" stroke-opacity="0.100" stroke-width="1.43" filter="url(#b03)"/>
<ellipse cx="170.0" cy="413.1" rx="4.3" ry="4.3" fill="none" stroke="#fff" stroke-opacity="0.351" stroke-width="0.44"/>
<path d="M177.7,330.5C179.2,331.1 183.3,332.4 186.8,334.3C190.4,336.2 195.0,339.1 199.1,341.9C203.2,344.7 208.0,347.8 211.3,351.1C214.6,354.4 217.7,360.1 219.0,361.8" fill="none" stroke="#fff" stroke-opacity="0.106" stroke-width="1.43" stroke-linecap="round" stroke-linejoin="round" filter="url(#b03)"/>
<path d="M177.7,330.5C179.2,331.1 183.3,332.4 186.8,334.3C190.4,336.2 195.0,339.1 199.1,341.9C203.2,344.7 208.0,347.8 211.3,351.1C214.6,354.4 217.7,360.1 219.0,361.8" fill="none" stroke="#fff" stroke-opacity="0.370" stroke-width="0.44" stroke-linecap="round" stroke-linejoin="round"/>
<ellipse cx="171.1" cy="325.9" rx="5.4" ry="4.4" fill="url(#rgb)" fill-opacity="0.95" transform="rotate(30 171.1 325.9)"/>
<ellipse cx="186.8" cy="330.5" rx="2.7" ry="3.0" fill="url(#rgb)" fill-opacity="0.9025"/>
<ellipse cx="208.6" cy="347.8" rx="2.7" ry="2.5" fill="url(#rgb)" fill-opacity="0.95"/>
<ellipse cx="127.9" cy="377.9" rx="7.1" ry="6.4" fill="url(#rgb)" fill-opacity="0.95" transform="rotate(-30 127.9 377.9)"/>
<ellipse cx="124.1" cy="374.1" rx="3.4" ry="4.6" fill="url(#rgb)" fill-opacity="0.76"/>
<ellipse cx="147.0" cy="375.9" rx="2.5" ry="2.4" fill="url(#rgb)" fill-opacity="0.6649999999999999"/>
<ellipse cx="173.8" cy="394.7" rx="7.1" ry="3.4" fill="url(#rgb)" fill-opacity="0.95" transform="rotate(-20 173.8 394.7)"/>
<ellipse cx="102.3" cy="339.2" rx="1.7" ry="1.7" fill="url(#rgb)" fill-opacity="0.7124999999999999"/>
<ellipse cx="115.7" cy="394.7" rx="2.2" ry="2.0" fill="url(#rgb)" fill-opacity="0.475"/>
<ellipse cx="160.8" cy="401.6" rx="1.5" ry="1.5" fill="url(#rgb)" fill-opacity="0.475"/>
<ellipse cx="193.7" cy="366.4" rx="1.7" ry="2.4" fill="url(#rgb)" fill-opacity="0.19"/>
<ellipse cx="101.1" cy="328.9" rx="1.2" ry="1.2" fill="url(#rgb)" fill-opacity="0.38"/>
<ellipse cx="65.3" cy="343.1" rx="2.0" ry="2.0" fill="url(#rgb)" fill-opacity="0.285"/>
<g filter="url(#spk)">
<ellipse cx="280.9" cy="257.6" rx="20.1" ry="16.9" fill="url(#rg)" fill-opacity="0.27999999999999997"/>
<ellipse cx="312.6" cy="249.1" rx="5.3" ry="4.2" fill="url(#rg)" fill-opacity="0.21"/>
<ellipse cx="378.4" cy="383.4" rx="52.8" ry="56.1" fill="url(#rg)" fill-opacity="0.154"/>
<ellipse cx="343.6" cy="373.3" rx="21.3" ry="22.4" fill="url(#rg)" fill-opacity="0.294"/>
<ellipse cx="378.4" cy="383.4" rx="44.9" ry="47.7" fill="none" stroke="#fff" stroke-opacity=".2" stroke-width="6"/>
</g>
<path d="M266.1,259.7C265.1,256.2 265.9,251.8 268.2,249.1C270.5,246.5 275.6,244.4 279.9,243.8C284.1,243.3 289.2,244.4 293.6,246.0C298.0,247.5 303.1,250.2 306.3,253.3C309.4,256.5 311.9,261.4 312.6,265.0C313.3,268.5 312.2,271.7 310.5,274.5C308.7,277.3 305.4,280.0 302.0,281.9C298.7,283.7 293.9,286.0 290.4,285.5C286.9,284.9 283.5,281.2 280.9,278.7C278.3,276.2 277.0,273.4 274.6,270.2C272.1,267.1 267.2,263.2 266.1,259.7Z" fill="none" stroke="#fff" stroke-opacity="0.063" stroke-width="1.43" stroke-linecap="round" stroke-linejoin="round" filter="url(#b03)"/>
<path d="M266.1,259.7C265.1,256.2 265.9,251.8 268.2,249.1C270.5,246.5 275.6,244.4 279.9,243.8C284.1,243.3 289.2,244.4 293.6,246.0C298.0,247.5 303.1,250.2 306.3,253.3C309.4,256.5 311.9,261.4 312.6,265.0C313.3,268.5 312.2,271.7 310.5,274.5C308.7,277.3 305.4,280.0 302.0,281.9C298.7,283.7 293.9,286.0 290.4,285.5C286.9,284.9 283.5,281.2 280.9,278.7C278.3,276.2 277.0,273.4 274.6,270.2C272.1,267.1 267.2,263.2 266.1,259.7Z" fill="none" stroke="#fff" stroke-opacity="0.222" stroke-width="0.44" stroke-linecap="round" stroke-linejoin="round"/>
<path d="M293.6,246.0C295.7,247.2 303.1,250.2 306.3,253.3C309.4,256.5 311.9,261.4 312.6,265.0C313.3,268.5 312.2,271.7 310.5,274.5C308.7,277.3 305.4,280.0 302.0,281.9C298.7,283.7 292.3,284.9 290.4,285.5" fill="none" stroke="#fff" stroke-opacity="0.042" stroke-width="1.43" stroke-linecap="round" stroke-linejoin="round" filter="url(#b03)"/>
<path d="M293.6,246.0C295.7,247.2 303.1,250.2 306.3,253.3C309.4,256.5 311.9,261.4 312.6,265.0C313.3,268.5 312.2,271.7 310.5,274.5C308.7,277.3 305.4,280.0 302.0,281.9C298.7,283.7 292.3,284.9 290.4,285.5" fill="none" stroke="#fff" stroke-opacity="0.148" stroke-width="0.44" stroke-linecap="round" stroke-linejoin="round"/>
<path d="M285.1,263.9C287.2,260.4 291.8,256.2 295.7,255.5C299.6,254.8 306.1,256.5 308.4,259.7C310.7,262.9 310.8,270.9 309.4,274.5C308.0,278.0 303.1,279.3 299.9,280.8C296.8,282.3 293.2,284.0 290.4,283.3C287.6,282.6 283.9,279.8 283.0,276.6C282.1,273.3 283.0,267.4 285.1,263.9Z" fill="#000" fill-opacity=".6"/>
<path d="M358.7,347.4C359.2,345.2 360.7,341.5 362.7,339.6C364.6,337.7 367.5,336.7 370.5,336.2C373.5,335.8 377.6,335.9 380.6,336.8C383.6,337.7 386.7,339.7 388.5,341.8C390.2,344.0 391.5,347.3 391.3,349.7C391.1,352.1 389.1,354.7 387.3,356.4C385.6,358.1 383.4,359.0 380.6,359.8C377.8,360.5 373.3,361.3 370.5,360.9C367.7,360.5 365.6,358.9 363.8,357.6C362.0,356.2 360.7,354.7 359.8,353.1C359.0,351.4 358.3,349.7 358.7,347.4Z" fill="#000" fill-opacity="0.9" stroke="#fff" stroke-opacity="0.106" stroke-width="1.43" stroke-linecap="round" stroke-linejoin="round" filter="url(#b03)"/>
<path d="M358.7,347.4C359.2,345.2 360.7,341.5 362.7,339.6C364.6,337.7 367.5,336.7 370.5,336.2C373.5,335.8 377.6,335.9 380.6,336.8C383.6,337.7 386.7,339.7 388.5,341.8C390.2,344.0 391.5,347.3 391.3,349.7C391.1,352.1 389.1,354.7 387.3,356.4C385.6,358.1 383.4,359.0 380.6,359.8C377.8,360.5 373.3,361.3 370.5,360.9C367.7,360.5 365.6,358.9 363.8,357.6C362.0,356.2 360.7,354.7 359.8,353.1C359.0,351.4 358.3,349.7 358.7,347.4Z" fill="none" stroke="#fff" stroke-opacity="0.370" stroke-width="0.44" stroke-linecap="round" stroke-linejoin="round"/>
<path d="M338.0,392.3C338.6,390.3 340.4,387.2 342.4,385.6C344.5,384.0 347.7,382.8 350.3,382.8C352.9,382.8 356.1,384.2 358.2,385.6C360.2,387.0 361.0,389.4 362.7,391.2C364.3,393.1 366.0,395.3 368.3,396.8C370.5,398.3 374.0,399.3 376.1,400.2C378.3,401.1 380.2,400.8 381.2,402.4C382.1,404.1 382.2,408.1 381.7,410.3C381.3,412.6 380.2,414.6 378.4,415.9C376.5,417.2 373.3,418.2 370.5,418.2C367.7,418.2 364.7,417.0 361.5,415.9C358.4,414.8 354.6,413.3 351.4,411.4C348.2,409.6 344.6,406.9 342.4,404.7C340.3,402.4 339.3,400.0 338.5,398.0C337.8,395.9 337.3,394.4 338.0,392.3Z" fill="#000" fill-opacity="0.9" stroke="#fff" stroke-opacity="0.084" stroke-width="1.43" stroke-linecap="round" stroke-linejoin="round" filter="url(#b03)"/>
<path d="M338.0,392.3C338.6,390.3 340.4,387.2 342.4,385.6C344.5,384.0 347.7,382.8 350.3,382.8C352.9,382.8 356.1,384.2 358.2,385.6C360.2,387.0 361.0,389.4 362.7,391.2C364.3,393.1 366.0,395.3 368.3,396.8C370.5,398.3 374.0,399.3 376.1,400.2C378.3,401.1 380.2,400.8 381.2,402.4C382.1,404.1 382.2,408.1 381.7,410.3C381.3,412.6 380.2,414.6 378.4,415.9C376.5,417.2 373.3,418.2 370.5,418.2C367.7,418.2 364.7,417.0 361.5,415.9C358.4,414.8 354.6,413.3 351.4,411.4C348.2,409.6 344.6,406.9 342.4,404.7C340.3,402.4 339.3,400.0 338.5,398.0C337.8,395.9 337.3,394.4 338.0,392.3Z" fill="none" stroke="#fff" stroke-opacity="0.296" stroke-width="0.44" stroke-linecap="round" stroke-linejoin="round"/>
<path d="M381.2,402.4C382.1,400.6 384.8,398.5 387.3,396.8C389.9,395.2 393.3,392.7 396.3,392.3C399.3,392.0 403.1,392.9 405.3,394.6C407.6,396.3 409.2,399.6 409.8,402.4C410.4,405.3 410.0,409.0 408.7,411.4C407.4,413.9 404.6,415.8 401.9,417.0C399.3,418.3 395.8,419.1 393.0,418.7C390.2,418.4 387.0,416.6 385.1,414.8C383.2,413.0 382.4,410.1 381.7,408.1C381.1,406.0 380.2,404.3 381.2,402.4Z" fill="#000" fill-opacity="0.9" stroke="#fff" stroke-opacity="0.106" stroke-width="1.43" stroke-linecap="round" stroke-linejoin="round" filter="url(#b03)"/>
<path d="M381.2,402.4C382.1,400.6 384.8,398.5 387.3,396.8C389.9,395.2 393.3,392.7 396.3,392.3C399.3,392.0 403.1,392.9 405.3,394.6C407.6,396.3 409.2,399.6 409.8,402.4C410.4,405.3 410.0,409.0 408.7,411.4C407.4,413.9 404.6,415.8 401.9,417.0C399.3,418.3 395.8,419.1 393.0,418.7C390.2,418.4 387.0,416.6 385.1,414.8C383.2,413.0 382.4,410.1 381.7,408.1C381.1,406.0 380.2,404.3 381.2,402.4Z" fill="none" stroke="#fff" stroke-opacity="0.370" stroke-width="0.44" stroke-linecap="round" stroke-linejoin="round"/>
<ellipse cx="405.9" cy="383.4" rx="7.9" ry="7.9" fill="#000" fill-opacity="0.9" stroke="#fff" stroke-opacity="0.106" stroke-width="1.43" filter="url(#b03)"/>
<ellipse cx="405.9" cy="383.4" rx="7.9" ry="7.9" fill="none" stroke="#fff" stroke-opacity="0.370" stroke-width="0.44"/>
<ellipse cx="398.6" cy="368.2" rx="6.2" ry="7.3" fill="#000" fill-opacity="0.9" stroke="#fff" stroke-opacity="0.148" stroke-width="1.43" filter="url(#b03)"/>
<ellipse cx="398.6" cy="368.2" rx="6.2" ry="7.3" fill="none" stroke="#fff" stroke-opacity="0.517" stroke-width="0.44"/>
<path d="M361.5,372.1C362.3,369.9 363.2,367.0 364.9,365.4C366.6,363.8 368.6,363.1 371.6,362.6C374.6,362.1 379.5,362.3 382.9,362.6C386.2,362.9 389.4,362.7 391.8,364.3C394.3,365.9 396.5,369.3 397.4,372.1C398.4,374.9 397.8,378.3 397.4,381.1C397.1,383.9 396.5,386.7 395.2,389.0C393.9,391.2 391.8,393.0 389.6,394.6C387.3,396.2 384.4,398.0 381.7,398.5C379.1,399.1 376.3,398.8 373.9,398.0C371.4,397.1 369.0,395.3 367.1,393.5C365.3,391.6 363.8,389.2 362.7,386.7C361.5,384.3 360.6,381.3 360.4,378.9C360.2,376.4 360.8,374.4 361.5,372.1Z" fill="#000" fill-opacity="0.9" stroke="#fff" stroke-opacity="0.148" stroke-width="1.43" stroke-linecap="round" stroke-linejoin="round" filter="url(#b03)"/>
<path d="M361.5,372.1C362.3,369.9 363.2,367.0 364.9,365.4C366.6,363.8 368.6,363.1 371.6,362.6C374.6,362.1 379.5,362.3 382.9,362.6C386.2,362.9 389.4,362.7 391.8,364.3C394.3,365.9 396.5,369.3 397.4,372.1C398.4,374.9 397.8,378.3 397.4,381.1C397.1,383.9 396.5,386.7 395.2,389.0C393.9,391.2 391.8,393.0 389.6,394.6C387.3,396.2 384.4,398.0 381.7,398.5C379.1,399.1 376.3,398.8 373.9,398.0C371.4,397.1 369.0,395.3 367.1,393.5C365.3,391.6 363.8,389.2 362.7,386.7C361.5,384.3 360.6,381.3 360.4,378.9C360.2,376.4 360.8,374.4 361.5,372.1Z" fill="none" stroke="#fff" stroke-opacity="0.517" stroke-width="0.44" stroke-linecap="round" stroke-linejoin="round"/>
<path d="M393.0,366.0C393.1,364.6 395.9,363.6 397.4,363.7C399.0,363.8 401.6,365.1 402.5,366.5C403.4,367.9 403.7,370.8 403.1,372.1C402.4,373.5 399.7,374.4 398.6,374.4C397.4,374.4 397.3,373.5 396.3,372.1C395.4,370.7 392.8,367.4 393.0,366.0Z" fill="#000" fill-opacity=".9"/>
<ellipse cx="386.8" cy="360.4" rx="2.2" ry="2.0" fill="#000" fill-opacity="0.9" stroke="#fff" stroke-opacity="0.148" stroke-width="1.43" filter="url(#b03)"/>
<ellipse cx="386.8" cy="360.4" rx="2.2" ry="2.0" fill="none" stroke="#fff" stroke-opacity="0.517" stroke-width="0.44"/>
<ellipse cx="391.8" cy="357.6" rx="2.5" ry="2.2" fill="#000" fill-opacity="0.9" stroke="#fff" stroke-opacity="0.148" stroke-width="1.43" filter="url(#b03)"/>
<ellipse cx="391.8" cy="357.6" rx="2.5" ry="2.2" fill="none" stroke="#fff" stroke-opacity="0.517" stroke-width="0.44"/>
<ellipse cx="379.5" cy="421.0" rx="2.8" ry="2.5" fill="none" stroke="#fff" stroke-opacity="0.079" stroke-width="1.43" filter="url(#b03)"/>
<ellipse cx="379.5" cy="421.0" rx="2.8" ry="2.5" fill="none" stroke="#fff" stroke-opacity="0.277" stroke-width="0.44"/>
<ellipse cx="353.1" cy="349.1" rx="3.7" ry="3.6" fill="url(#rgb)" fill-opacity="0.95"/>
<ellipse cx="351.4" cy="357.2" rx="3.1" ry="5.0" fill="url(#rgb)" fill-opacity="0.95" transform="rotate(-15 351.4 357.2)"/>
<ellipse cx="360.1" cy="358.7" rx="7.2" ry="3.3" fill="url(#rgb)" fill-opacity="0.95" transform="rotate(42 360.1 358.7)"/>
<ellipse cx="341.9" cy="366.5" rx="2.8" ry="3.6" fill="url(#rgb)" fill-opacity="0.6649999999999999"/>
<ellipse cx="350.9" cy="374.4" rx="4.1" ry="3.6" fill="url(#rgb)" fill-opacity="0.6174999999999999"/>
<ellipse cx="346.4" cy="374.9" rx="2.1" ry="3.1" fill="url(#rgb)" fill-opacity="0.5225"/>
<ellipse cx="346.9" cy="362.0" rx="1.8" ry="1.8" fill="url(#rgb)" fill-opacity="0.475"/></g></g><g filter="url(#cmap)"><rect x="42.7" y="498.7" width="406.9" height="408.7" fill="#000"/><g filter="url(#spk2)">
<path d="M112.6,581.4C113.0,577.6 113.7,572.4 115.6,569.2C117.6,565.9 120.7,563.5 124.2,561.8C127.7,560.2 132.6,559.4 136.4,559.4C140.3,559.4 144.4,560.2 147.4,561.8C150.5,563.5 153.0,566.3 154.8,569.2C156.6,572.0 156.2,576.7 158.5,579.0C160.7,581.2 165.2,581.2 168.3,582.7C171.3,584.1 174.6,585.3 176.8,587.6C179.1,589.8 180.7,593.1 181.7,596.1C182.8,599.2 183.4,602.7 183.0,605.9C182.6,609.2 181.3,612.9 179.3,615.7C177.2,618.6 174.2,621.4 170.7,623.1C167.2,624.7 162.6,625.5 158.5,625.5C154.4,625.5 149.5,624.7 146.2,623.1C143.0,621.4 142.1,618.6 138.9,615.7C135.6,612.9 130.1,608.4 126.6,605.9C123.2,603.5 120.3,603.3 118.1,601.0C115.8,598.8 114.1,595.7 113.2,592.4C112.2,589.2 112.1,585.3 112.6,581.4Z" fill="none" stroke="#fff" stroke-opacity="0.55" stroke-width="9" stroke-linecap="round"/>
<ellipse cx="107.0" cy="581.4" rx="13.5" ry="31.8" fill="url(#rg)" fill-opacity="0.8" transform="rotate(-10 107.0 581.4)"/>
<ellipse cx="121.7" cy="554.5" rx="15.9" ry="11.0" fill="url(#rg)" fill-opacity="0.7" transform="rotate(-30 121.7 554.5)"/>
<ellipse cx="131.5" cy="628.0" rx="24.5" ry="15.9" fill="url(#rg)" fill-opacity="0.7"/>
<ellipse cx="163.4" cy="628.0" rx="17.1" ry="11.0" fill="url(#rg)" fill-opacity="0.5"/>
<ellipse cx="187.9" cy="603.5" rx="9.8" ry="24.5" fill="url(#rg)" fill-opacity="0.5"/>
<ellipse cx="165.8" cy="570.4" rx="9.8" ry="7.3" fill="url(#rg)" fill-opacity="0.5"/>
</g>
<path d="M112.6,581.4C113.0,577.6 113.7,572.4 115.6,569.2C117.6,565.9 120.7,563.5 124.2,561.8C127.7,560.2 132.6,559.4 136.4,559.4C140.3,559.4 144.4,560.2 147.4,561.8C150.5,563.5 153.2,566.3 154.8,569.2C156.4,572.0 157.4,575.9 157.2,579.0C157.0,582.0 155.4,584.7 153.6,587.6C151.7,590.4 149.1,593.4 146.2,596.1C143.4,598.9 139.7,602.4 136.4,604.1C133.2,605.7 129.7,606.4 126.6,605.9C123.6,605.4 120.3,603.3 118.1,601.0C115.8,598.8 114.1,595.7 113.2,592.4C112.2,589.2 112.1,585.3 112.6,581.4Z" fill="#000" fill-opacity="1" stroke="#fff" stroke-opacity="0.150" stroke-width="1.56" stroke-linecap="round" stroke-linejoin="round" filter="url(#b03)"/>
<path d="M112.6,581.4C113.0,577.6 113.7,572.4 115.6,569.2C117.6,565.9 120.7,563.5 124.2,561.8C127.7,560.2 132.6,559.4 136.4,559.4C140.3,559.4 144.4,560.2 147.4,561.8C150.5,563.5 153.2,566.3 154.8,569.2C156.4,572.0 157.4,575.9 157.2,579.0C157.0,582.0 155.4,584.7 153.6,587.6C151.7,590.4 149.1,593.4 146.2,596.1C143.4,598.9 139.7,602.4 136.4,604.1C133.2,605.7 129.7,606.4 126.6,605.9C123.6,605.4 120.3,603.3 118.1,601.0C115.8,598.8 114.1,595.7 113.2,592.4C112.2,589.2 112.1,585.3 112.6,581.4Z" fill="none" stroke="#fff" stroke-opacity="0.525" stroke-width="0.48" stroke-linecap="round" stroke-linejoin="round"/>
<path d="M136.4,604.7C138.2,602.6 143.3,599.5 146.2,596.7C149.2,594.0 152.1,590.5 154.2,588.2C156.2,585.8 156.1,583.6 158.5,582.7C160.8,581.7 165.2,581.8 168.3,582.7C171.3,583.5 174.6,585.3 176.8,587.6C179.1,589.8 180.7,593.1 181.7,596.1C182.8,599.2 183.4,602.7 183.0,605.9C182.6,609.2 181.3,612.9 179.3,615.7C177.2,618.6 174.2,621.4 170.7,623.1C167.2,624.7 162.6,625.5 158.5,625.5C154.4,625.5 149.5,624.7 146.2,623.1C143.0,621.4 140.6,618.0 138.9,615.7C137.1,613.5 136.2,611.4 135.8,609.6C135.4,607.8 134.7,606.8 136.4,604.7Z" fill="#000" fill-opacity="1" stroke="#fff" stroke-opacity="0.120" stroke-width="1.56" stroke-linecap="round" stroke-linejoin="round" filter="url(#b03)"/>
<path d="M136.4,604.7C138.2,602.6 143.3,599.5 146.2,596.7C149.2,594.0 152.1,590.5 154.2,588.2C156.2,585.8 156.1,583.6 158.5,582.7C160.8,581.7 165.2,581.8 168.3,582.7C171.3,583.5 174.6,585.3 176.8,587.6C179.1,589.8 180.7,593.1 181.7,596.1C182.8,599.2 183.4,602.7 183.0,605.9C182.6,609.2 181.3,612.9 179.3,615.7C177.2,618.6 174.2,621.4 170.7,623.1C167.2,624.7 162.6,625.5 158.5,625.5C154.4,625.5 149.5,624.7 146.2,623.1C143.0,621.4 140.6,618.0 138.9,615.7C137.1,613.5 136.2,611.4 135.8,609.6C135.4,607.8 134.7,606.8 136.4,604.7Z" fill="none" stroke="#fff" stroke-opacity="0.420" stroke-width="0.48" stroke-linecap="round" stroke-linejoin="round"/>
<path d="M158.5,579.0C157.7,580.6 155.6,585.8 153.6,588.8C151.5,591.7 149.3,594.1 146.2,596.7C143.2,599.4 137.0,603.4 135.2,604.7" fill="none" stroke="#fff" stroke-opacity="0.330" stroke-width="1.56" stroke-linecap="round" stroke-linejoin="round" filter="url(#b03)"/>
<path d="M158.5,579.0C157.7,580.6 155.6,585.8 153.6,588.8C151.5,591.7 149.3,594.1 146.2,596.7C143.2,599.4 137.0,603.4 135.2,604.7" fill="none" stroke="#fff" stroke-opacity="1.000" stroke-width="0.48" stroke-linecap="round" stroke-linejoin="round"/>
<ellipse cx="148.7" cy="557.9" rx="13.6" ry="4.4" fill="url(#rgb)" fill-opacity="1" transform="rotate(18 148.7 557.9)"/>
<ellipse cx="142.6" cy="556.3" rx="6.2" ry="3.7" fill="url(#rgb)" fill-opacity="1" transform="rotate(-10 142.6 556.3)"/>
<path d="M157.2,565.5C157.7,566.5 159.3,569.4 159.9,571.6C160.6,573.9 161.2,576.9 160.9,579.0C160.7,581.0 158.9,583.1 158.5,583.9" fill="none" stroke="#fff" stroke-opacity="0.510" stroke-width="3.38" stroke-linecap="round" stroke-linejoin="round" filter="url(#b03)"/>
<path d="M157.2,565.5C157.7,566.5 159.3,569.4 159.9,571.6C160.6,573.9 161.2,576.9 160.9,579.0C160.7,581.0 158.9,583.1 158.5,583.9" fill="none" stroke="#fff" stroke-opacity="1.000" stroke-width="1.04" stroke-linecap="round" stroke-linejoin="round"/>
<line x1="164.6" y1="576.3" x2="176.8" y2="580.8" stroke="#fff" stroke-opacity="1" stroke-width="2.4" stroke-linecap="round" filter="url(#b05)"/>
<line x1="186.0" y1="587.6" x2="189.3" y2="596.7" stroke="#fff" stroke-opacity="0.8" stroke-width="2.2" stroke-linecap="round" filter="url(#b05)"/>
<ellipse cx="193.4" cy="608.4" rx="2.5" ry="6.2" fill="url(#rgb)" fill-opacity="0.95" transform="rotate(10 193.4 608.4)"/>
<ellipse cx="186.6" cy="616.3" rx="5.4" ry="5.0" fill="url(#rgb)" fill-opacity="1"/>
<line x1="109.5" y1="568.0" x2="106.8" y2="577.8" stroke="#fff" stroke-opacity="0.62" stroke-width="2.6" stroke-linecap="round" filter="url(#b05)"/>
<line x1="111.0" y1="576.5" x2="109.0" y2="583.9" stroke="#fff" stroke-opacity="0.6" stroke-width="2.4" stroke-linecap="round" filter="url(#b05)"/>
<ellipse cx="121.7" cy="554.5" rx="3.0" ry="2.4" fill="url(#rgb)" fill-opacity="0.65"/>
<ellipse cx="126.6" cy="556.3" rx="2.4" ry="1.9" fill="url(#rgb)" fill-opacity="0.65"/>
<ellipse cx="123.0" cy="545.9" rx="2.4" ry="1.6" fill="url(#rgb)" fill-opacity="0.6" transform="rotate(30 123.0 545.9)"/>
<line x1="104.6" y1="594.9" x2="110.1" y2="600.4" stroke="#fff" stroke-opacity="1" stroke-width="2.8" stroke-linecap="round" filter="url(#b05)"/>
<ellipse cx="107.0" cy="611.4" rx="3.7" ry="2.2" fill="url(#rgb)" fill-opacity="1" transform="rotate(-40 107.0 611.4)"/>
<line x1="130.6" y1="610.2" x2="119.5" y2="628.6" stroke="#fff" stroke-opacity="0.95" stroke-width="2.0" stroke-linecap="round" filter="url(#b05)"/>
<line x1="126.6" y1="620.9" x2="143.8" y2="621.2" stroke="#fff" stroke-opacity="1" stroke-width="2.4" stroke-linecap="round" filter="url(#b05)"/>
<path d="M125.4,626.7C126.8,625.1 131.1,625.3 134.0,625.5C136.8,625.7 140.7,626.5 142.6,628.0C144.4,629.4 143.6,632.9 145.0,634.1C146.4,635.3 151.5,634.3 151.1,635.3C150.7,636.3 144.6,638.8 142.6,640.2C140.5,641.6 140.5,644.1 138.9,643.9C137.2,643.7 135.0,640.4 132.8,639.0C130.5,637.6 126.6,637.3 125.4,635.3C124.2,633.3 124.0,628.4 125.4,626.7Z" fill="#fff"/>
<ellipse cx="125.4" cy="630.4" rx="4.0" ry="6.2" fill="url(#rgb)" fill-opacity="0.8"/>
<ellipse cx="164.6" cy="628.0" rx="5.7" ry="2.7" fill="url(#rgb)" fill-opacity="0.9" transform="rotate(30 164.6 628.0)"/>
<ellipse cx="153.6" cy="640.2" rx="2.7" ry="1.9" fill="url(#rgb)" fill-opacity="0.6" transform="rotate(30 153.6 640.2)"/>
<ellipse cx="158.5" cy="634.1" rx="2.1" ry="3.4" fill="url(#rgb)" fill-opacity="0.5" transform="rotate(-30 158.5 634.1)"/>
<ellipse cx="92.4" cy="527.7" rx="5.8" ry="7.0" fill="url(#rgb)" fill-opacity="1" transform="rotate(20 92.4 527.7)"/>
<ellipse cx="125.5" cy="683.0" rx="6.7" ry="7.8" fill="url(#rgb)" fill-opacity="0.42"/>
<ellipse cx="124.5" cy="688.3" rx="3.0" ry="3.0" fill="url(#rgb)" fill-opacity="0.7"/>
<ellipse cx="123.4" cy="679.2" rx="3.3" ry="2.7" fill="url(#rgb)" fill-opacity="0.3"/>
<g filter="url(#spk2)">
<ellipse cx="386.9" cy="610.4" rx="13.8" ry="13.8" fill="url(#rg)" fill-opacity="0.85"/>
<ellipse cx="381.4" cy="621.4" rx="9.2" ry="8.3" fill="url(#rg)" fill-opacity="0.5"/>
<ellipse cx="357.6" cy="606.7" rx="12.9" ry="18.4" fill="url(#rg)" fill-opacity="0.45"/>
<ellipse cx="396.1" cy="621.4" rx="8.3" ry="5.5" fill="url(#rg)" fill-opacity="0.4"/>
</g>
<ellipse cx="360.3" cy="583.8" rx="5.6" ry="3.4" fill="url(#rgb)" fill-opacity="1" transform="rotate(-10 360.3 583.8)"/>
<path d="M364.2,586.1C364.3,586.7 364.7,588.7 364.7,589.7C364.7,590.8 364.3,592.0 364.2,592.5" fill="none" stroke="#fff" stroke-opacity="0.600" stroke-width="3.64" stroke-linecap="round" stroke-linejoin="round" filter="url(#b03)"/>
<path d="M364.2,586.1C364.3,586.7 364.7,588.7 364.7,589.7C364.7,590.8 364.3,592.0 364.2,592.5" fill="none" stroke="#fff" stroke-opacity="1.000" stroke-width="1.12" stroke-linecap="round" stroke-linejoin="round"/>
<ellipse cx="358.5" cy="597.1" rx="3.1" ry="3.1" fill="url(#rgb)" fill-opacity="1"/>
<ellipse cx="350.2" cy="600.8" rx="3.6" ry="5.9" fill="url(#rgb)" fill-opacity="1" transform="rotate(-10 350.2 600.8)"/>
<line x1="340.6" y1="600.3" x2="345.2" y2="603.1" stroke="#fff" stroke-opacity="0.7" stroke-width="2.2" stroke-linecap="round" filter="url(#b05)"/>
<ellipse cx="348.4" cy="607.7" rx="2.9" ry="3.1" fill="url(#rgb)" fill-opacity="0.72"/>
<path d="M355.3,606.7C354.9,607.3 353.6,609.0 353.4,610.4C353.2,611.8 354.0,614.2 354.1,615.0" fill="none" stroke="#fff" stroke-opacity="0.600" stroke-width="3.64" stroke-linecap="round" stroke-linejoin="round" filter="url(#b03)"/>
<path d="M355.3,606.7C354.9,607.3 353.6,609.0 353.4,610.4C353.2,611.8 354.0,614.2 354.1,615.0" fill="none" stroke="#fff" stroke-opacity="1.000" stroke-width="1.12" stroke-linecap="round" stroke-linejoin="round"/>
<ellipse cx="355.0" cy="621.0" rx="2.0" ry="4.6" fill="url(#rgb)" fill-opacity="0.85" transform="rotate(20 355.0 621.0)"/>
<ellipse cx="357.6" cy="602.1" rx="2.1" ry="2.1" fill="url(#rgb)" fill-opacity="0.7"/>
<ellipse cx="363.1" cy="596.6" rx="1.8" ry="1.8" fill="url(#rgb)" fill-opacity="0.65"/>
<ellipse cx="367.7" cy="599.8" rx="2.1" ry="2.1" fill="url(#rgb)" fill-opacity="0.5"/>
<ellipse cx="370.4" cy="595.3" rx="1.4" ry="1.4" fill="url(#rgb)" fill-opacity="0.6"/>
<ellipse cx="366.7" cy="591.6" rx="1.6" ry="1.5" fill="url(#rgb)" fill-opacity="0.6"/>
<path d="M369.9,581.5C370.0,582.1 369.7,584.1 370.4,585.2C371.1,586.2 372.7,587.4 374.1,587.9C375.5,588.4 377.3,588.1 378.7,587.9C380.1,587.8 381.7,587.1 382.3,587.0" fill="none" stroke="#fff" stroke-opacity="0.360" stroke-width="2.86" stroke-linecap="round" stroke-linejoin="round" filter="url(#b03)"/>
<path d="M369.9,581.5C370.0,582.1 369.7,584.1 370.4,585.2C371.1,586.2 372.7,587.4 374.1,587.9C375.5,588.4 377.3,588.1 378.7,587.9C380.1,587.8 381.7,587.1 382.3,587.0" fill="none" stroke="#fff" stroke-opacity="1.000" stroke-width="0.88" stroke-linecap="round" stroke-linejoin="round"/>
<ellipse cx="375.0" cy="603.1" rx="4.7" ry="3.1" fill="url(#rgb)" fill-opacity="0.72" transform="rotate(35 375.0 603.1)"/>
<line x1="397.5" y1="601.7" x2="384.6" y2="614.8" stroke="#fff" stroke-opacity="1" stroke-width="2.7" stroke-linecap="round" filter="url(#b05)"/>
<line x1="394.3" y1="619.1" x2="404.4" y2="623.3" stroke="#fff" stroke-opacity="0.62" stroke-width="2.2" stroke-linecap="round" filter="url(#b05)"/>
<ellipse cx="388.8" cy="604.0" rx="1.9" ry="1.9" fill="url(#rgb)" fill-opacity="0.65"/>
<ellipse cx="384.6" cy="624.2" rx="2.3" ry="2.3" fill="url(#rgb)" fill-opacity="1"/>
<ellipse cx="381.0" cy="628.8" rx="1.9" ry="1.9" fill="url(#rgb)" fill-opacity="0.95"/>
<ellipse cx="374.1" cy="633.6" rx="5.6" ry="7.3" fill="url(#rgb)" fill-opacity="1" transform="rotate(32 374.1 633.6)"/>
<ellipse cx="387.9" cy="632.0" rx="3.7" ry="3.6" fill="url(#rgb)" fill-opacity="0.85"/>
<ellipse cx="389.7" cy="627.4" rx="1.4" ry="2.1" fill="url(#rgb)" fill-opacity="0.5" transform="rotate(20 389.7 627.4)"/>
<g filter="url(#spk2)">
<ellipse cx="148.2" cy="794.4" rx="36.7" ry="35.2" fill="url(#rg)" fill-opacity="0.42"/>
<ellipse cx="154.3" cy="803.6" rx="23.0" ry="18.4" fill="url(#rg)" fill-opacity="0.9"/>
<ellipse cx="103.8" cy="805.1" rx="9.2" ry="12.2" fill="url(#rg)" fill-opacity="0.35"/>
<ellipse cx="197.1" cy="838.8" rx="21.4" ry="9.2" fill="url(#rg)" fill-opacity="0.5" transform="rotate(25 197.1 838.8)"/>
<ellipse cx="220.1" cy="857.1" rx="7.7" ry="10.7" fill="url(#rg)" fill-opacity="0.45"/>
<ellipse cx="128.3" cy="834.2" rx="18.4" ry="13.8" fill="url(#rg)" fill-opacity="0.3"/>
<ellipse cx="154.3" cy="866.3" rx="9.2" ry="12.2" fill="url(#rg)" fill-opacity="0.25" transform="rotate(-40 154.3 866.3)"/>
</g>
<ellipse cx="155.1" cy="808.2" rx="4.9" ry="4.5" fill="url(#rgb)" fill-opacity="1"/>
<ellipse cx="141.3" cy="797.4" rx="4.5" ry="2.7" fill="url(#rgb)" fill-opacity="0.95" transform="rotate(-20 141.3 797.4)"/>
<ellipse cx="168.1" cy="795.9" rx="2.7" ry="4.5" fill="url(#rgb)" fill-opacity="0.95"/>
<ellipse cx="161.9" cy="802.8" rx="4.1" ry="3.3" fill="url(#rgb)" fill-opacity="0.75" transform="rotate(-30 161.9 802.8)"/>
<ellipse cx="148.2" cy="802.8" rx="4.1" ry="2.9" fill="url(#rgb)" fill-opacity="0.72"/>
<ellipse cx="135.9" cy="791.3" rx="2.9" ry="2.5" fill="url(#rgb)" fill-opacity="0.68"/>
<ellipse cx="126.7" cy="792.1" rx="2.3" ry="2.3" fill="url(#rgb)" fill-opacity="0.65"/>
<ellipse cx="171.1" cy="808.9" rx="3.3" ry="2.5" fill="url(#rgb)" fill-opacity="0.7" transform="rotate(-30 171.1 808.9)"/>
<ellipse cx="148.9" cy="819.6" rx="3.1" ry="2.5" fill="url(#rgb)" fill-opacity="0.7"/>
<ellipse cx="156.6" cy="819.6" rx="2.5" ry="2.5" fill="url(#rgb)" fill-opacity="0.9"/>
<ellipse cx="165.0" cy="809.7" rx="2.9" ry="2.9" fill="url(#rgb)" fill-opacity="0.7"/>
<ellipse cx="152.8" cy="797.4" rx="3.3" ry="2.5" fill="url(#rgb)" fill-opacity="0.55"/>
<ellipse cx="178.8" cy="836.5" rx="4.9" ry="2.5" fill="url(#rgb)" fill-opacity="0.7" transform="rotate(-20 178.8 836.5)"/>
<ellipse cx="199.4" cy="837.6" rx="4.9" ry="4.1" fill="url(#rgb)" fill-opacity="0.68" transform="rotate(30 199.4 837.6)"/>
<ellipse cx="197.1" cy="833.9" rx="2.5" ry="2.1" fill="url(#rgb)" fill-opacity="0.7"/>
<ellipse cx="220.9" cy="850.3" rx="3.1" ry="3.1" fill="url(#rgb)" fill-opacity="0.7"/>
<ellipse cx="171.1" cy="846.4" rx="2.5" ry="2.1" fill="url(#rgb)" fill-opacity="0.62"/>
<ellipse cx="116.8" cy="825.0" rx="2.5" ry="2.1" fill="url(#rgb)" fill-opacity="0.6" transform="rotate(-30 116.8 825.0)"/>
<ellipse cx="209.4" cy="841.8" rx="3.7" ry="2.5" fill="url(#rgb)" fill-opacity="0.3" transform="rotate(30 209.4 841.8)"/>
<ellipse cx="152.8" cy="864.0" rx="3.7" ry="2.1" fill="url(#rgb)" fill-opacity="0.28" transform="rotate(30 152.8 864.0)"/>
<ellipse cx="157.3" cy="873.2" rx="2.1" ry="2.9" fill="url(#rgb)" fill-opacity="0.2"/>
<ellipse cx="140.5" cy="854.8" rx="2.1" ry="2.9" fill="url(#rgb)" fill-opacity="0.2"/>
<ellipse cx="123.7" cy="838.0" rx="3.3" ry="1.8" fill="url(#rgb)" fill-opacity="0.25" transform="rotate(20 123.7 838.0)"/>
<g filter="url(#spk2)">
<ellipse cx="363.9" cy="803.9" rx="29.6" ry="28.6" fill="url(#rg)" fill-opacity="0.8"/>
<ellipse cx="358.8" cy="802.9" rx="13.3" ry="19.4" fill="url(#rg)" fill-opacity="0.9"/>
</g>
<ellipse cx="358.8" cy="802.9" rx="12.8" ry="21.1" fill="url(#rgb)" fill-opacity="0.28"/>
<line x1="355.7" y1="785.0" x2="356.7" y2="798.8" stroke="#fff" stroke-opacity="1" stroke-width="2.8" stroke-linecap="round" filter="url(#b05)"/>
<line x1="358.0" y1="798.3" x2="376.1" y2="796.3" stroke="#fff" stroke-opacity="1" stroke-width="2.6" stroke-linecap="round" filter="url(#b05)"/>
<line x1="354.5" y1="805.1" x2="361.8" y2="811.5" stroke="#fff" stroke-opacity="1" stroke-width="3.6" stroke-linecap="round" filter="url(#b05)"/>
<ellipse cx="379.7" cy="818.7" rx="2.9" ry="2.3" fill="url(#rgb)" fill-opacity="0.95"/>
<ellipse cx="387.3" cy="822.2" rx="4.3" ry="1.9" fill="url(#rgb)" fill-opacity="0.95" transform="rotate(-40 387.3 822.2)"/>
<ellipse cx="335.3" cy="785.0" rx="1.6" ry="1.6" fill="url(#rgb)" fill-opacity="0.6"/>
<ellipse cx="338.9" cy="822.2" rx="1.6" ry="1.6" fill="url(#rgb)" fill-opacity="0.6"/>
<ellipse cx="353.2" cy="813.6" rx="2.3" ry="2.3" fill="url(#rgb)" fill-opacity="0.7"/>
<ellipse cx="357.8" cy="823.3" rx="2.1" ry="2.6" fill="url(#rgb)" fill-opacity="0.7"/>
<ellipse cx="381.2" cy="796.2" rx="1.8" ry="1.5" fill="url(#rgb)" fill-opacity="0.6"/>
<ellipse cx="366.9" cy="817.1" rx="1.8" ry="2.1" fill="url(#rgb)" fill-opacity="0.6"/>
<ellipse cx="409.3" cy="851.3" rx="1.6" ry="1.6" fill="url(#rgb)" fill-opacity="0.2"/>
<ellipse cx="406.7" cy="770.7" rx="1.6" ry="1.4" fill="url(#rgb)" fill-opacity="0.12"/></g><g filter="url(#cmap)"><rect x="665.0" y="498.7" width="406.9" height="408.7" fill="#000"/><ellipse cx="715.6" cy="527.1" rx="3.8" ry="5.5" fill="url(#rgb)" fill-opacity="0.82" transform="rotate(20 715.6 527.1)"/>
<ellipse cx="774.3" cy="558.0" rx="7.7" ry="2.9" fill="url(#rgb)" fill-opacity="0.95" transform="rotate(20 774.3 558.0)"/>
<line x1="762.4" y1="555.5" x2="769.1" y2="554.6" stroke="#fff" stroke-opacity="0.3" stroke-width="1.6" stroke-linecap="round" filter="url(#b05)"/>
<ellipse cx="782.6" cy="578.1" rx="1.8" ry="4.9" fill="url(#rgb)" fill-opacity="0.38"/>
<line x1="788.9" y1="575.4" x2="799.3" y2="579.6" stroke="#fff" stroke-opacity="0.28" stroke-width="1.6" stroke-linecap="round" filter="url(#b05)"/>
<ellipse cx="810.1" cy="615.6" rx="3.8" ry="3.8" fill="url(#rgb)" fill-opacity="0.8"/>
<ellipse cx="761.2" cy="632.3" rx="4.6" ry="6.6" fill="url(#rgb)" fill-opacity="0.78" transform="rotate(-10 761.2 632.3)"/>
<ellipse cx="759.7" cy="638.5" rx="8.3" ry="4.9" fill="url(#rgb)" fill-opacity="0.35"/>
<line x1="728.5" y1="594.8" x2="733.7" y2="600.4" stroke="#fff" stroke-opacity="0.3" stroke-width="1.5" stroke-linecap="round" filter="url(#b05)"/>
<ellipse cx="729.9" cy="610.4" rx="1.8" ry="2.9" fill="url(#rgb)" fill-opacity="0.3" transform="rotate(30 729.9 610.4)"/>
<line x1="753.5" y1="610.4" x2="749.9" y2="618.7" stroke="#fff" stroke-opacity="0.3" stroke-width="1.6" stroke-linecap="round" filter="url(#b05)"/>
<line x1="750.3" y1="620.2" x2="760.8" y2="620.2" stroke="#fff" stroke-opacity="0.35" stroke-width="1.6" stroke-linecap="round" filter="url(#b05)"/>
<ellipse cx="749.3" cy="630.2" rx="1.8" ry="3.8" fill="url(#rgb)" fill-opacity="0.3" transform="rotate(15 749.3 630.2)"/>
<ellipse cx="787.8" cy="628.5" rx="1.8" ry="1.8" fill="url(#rgb)" fill-opacity="0.2"/>
<ellipse cx="816.5" cy="608.3" rx="1.8" ry="2.4" fill="url(#rgb)" fill-opacity="0.2"/>
<ellipse cx="748.3" cy="683.3" rx="2.1" ry="4.3" fill="url(#rgb)" fill-opacity="0.18" transform="rotate(15 748.3 683.3)"/>
<ellipse cx="984.9" cy="583.8" rx="2.9" ry="2.9" fill="url(#rgb)" fill-opacity="0.85"/>
<ellipse cx="972.7" cy="600.4" rx="2.6" ry="3.8" fill="url(#rgb)" fill-opacity="0.75" transform="rotate(-20 972.7 600.4)"/>
<ellipse cx="981.0" cy="596.5" rx="2.1" ry="2.1" fill="url(#rgb)" fill-opacity="0.45"/>
<ellipse cx="996.4" cy="634.3" rx="4.1" ry="5.7" fill="url(#rgb)" fill-opacity="1" transform="rotate(15 996.4 634.3)"/>
<ellipse cx="1010.6" cy="632.3" rx="2.9" ry="2.9" fill="url(#rgb)" fill-opacity="0.45"/>
<line x1="1012.6" y1="608.3" x2="1018.9" y2="602.1" stroke="#fff" stroke-opacity="0.42" stroke-width="1.6" stroke-linecap="round" filter="url(#b05)"/>
<ellipse cx="976.2" cy="611.4" rx="1.8" ry="3.8" fill="url(#rgb)" fill-opacity="0.3" transform="rotate(15 976.2 611.4)"/>
<ellipse cx="987.0" cy="589.6" rx="1.5" ry="2.6" fill="url(#rgb)" fill-opacity="0.25"/>
<ellipse cx="1003.3" cy="629.6" rx="2.1" ry="1.8" fill="url(#rgb)" fill-opacity="0.3"/>
<ellipse cx="779.1" cy="809.6" rx="2.4" ry="2.4" fill="url(#rgb)" fill-opacity="0.7"/>
<ellipse cx="778.4" cy="807.7" rx="3.8" ry="4.3" fill="url(#rgb)" fill-opacity="0.35" transform="rotate(-30 778.4 807.7)"/>
<line x1="781.6" y1="805.0" x2="784.7" y2="801.9" stroke="#fff" stroke-opacity="0.2" stroke-width="1.4" stroke-linecap="round" filter="url(#b05)"/>
<ellipse cx="791.6" cy="795.0" rx="1.5" ry="1.5" fill="url(#rgb)" fill-opacity="0.12"/>
<ellipse cx="979.3" cy="798.2" rx="2.4" ry="2.9" fill="url(#rgb)" fill-opacity="0.6"/>
<ellipse cx="985.2" cy="797.3" rx="2.9" ry="2.4" fill="url(#rgb)" fill-opacity="0.55"/>
<line x1="979.3" y1="787.8" x2="979.7" y2="793.6" stroke="#fff" stroke-opacity="0.25" stroke-width="1.5" stroke-linecap="round" filter="url(#b05)"/>
<line x1="986.6" y1="797.8" x2="994.9" y2="797.3" stroke="#fff" stroke-opacity="0.3" stroke-width="1.5" stroke-linecap="round" filter="url(#b05)"/>
<ellipse cx="977.9" cy="805.5" rx="2.1" ry="3.2" fill="url(#rgb)" fill-opacity="0.42"/>
<ellipse cx="983.1" cy="810.7" rx="2.1" ry="2.6" fill="url(#rgb)" fill-opacity="0.4"/>
<line x1="980.4" y1="799.8" x2="978.3" y2="806.1" stroke="#fff" stroke-opacity="0.32" stroke-width="1.6" stroke-linecap="round" filter="url(#b05)"/>
<line x1="978.9" y1="807.1" x2="983.5" y2="811.3" stroke="#fff" stroke-opacity="0.3" stroke-width="1.6" stroke-linecap="round" filter="url(#b05)"/>
<line x1="982.2" y1="818.2" x2="981.8" y2="823.8" stroke="#fff" stroke-opacity="0.25" stroke-width="1.6" stroke-linecap="round" filter="url(#b05)"/>
<ellipse cx="1010.6" cy="822.3" rx="1.5" ry="1.5" fill="url(#rgb)" fill-opacity="0.12"/></g><g stroke="#f4f4f4" stroke-width="2" fill="none"><line x1="245.39999999999998" y1="26.0" x2="245.39999999999998" y2="434.7"/><line x1="42.7" y1="229.4" x2="449.59999999999997" y2="229.4"/></g><line x1="48.300000000000004" y1="33.0" x2="77.5" y2="33.0" stroke="#a6a6a8" stroke-width="2.5"/><circle cx="48.800000000000004" cy="33.0" r="1.6" fill="#e6e6e6"/><circle cx="77.0" cy="33.0" r="1.6" fill="#e6e6e6"/><line x1="251.29999999999998" y1="33.0" x2="280.5" y2="33.0" stroke="#a6a6a8" stroke-width="2.5"/><circle cx="251.79999999999998" cy="33.0" r="1.6" fill="#e6e6e6"/><circle cx="280.0" cy="33.0" r="1.6" fill="#e6e6e6"/><line x1="48.300000000000004" y1="236.9" x2="77.5" y2="236.9" stroke="#a6a6a8" stroke-width="2.5"/><circle cx="48.800000000000004" cy="236.9" r="1.6" fill="#e6e6e6"/><circle cx="77.0" cy="236.9" r="1.6" fill="#e6e6e6"/><line x1="251.29999999999998" y1="236.9" x2="280.5" y2="236.9" stroke="#a6a6a8" stroke-width="2.5"/><circle cx="251.79999999999998" cy="236.9" r="1.6" fill="#e6e6e6"/><circle cx="280.0" cy="236.9" r="1.6" fill="#e6e6e6"/><rect x="454.2" y="26.0" width="21" height="408.7" fill="url(#inf)"/><path d="M454.2,434.7 V26.0 H475.2 V434.7" fill="none" stroke="#555" stroke-width="1"/><path d="M475.2,26.4 h6 M475.2,434.3 h6" stroke="#333" stroke-width="1.3"/><text transform="translate(492.7,34.7) scale(1,1.045)" font-size="24.7">1</text><text transform="translate(492.7,442.09999999999997) scale(1,1.045)" font-size="24.7">0</text><text transform="translate(497.8,123.0) rotate(90) scale(1,1.045)" font-size="24.9">Norm. fluorescence</text><g stroke="#f4f4f4" stroke-width="2" fill="none"><line x1="867.7" y1="26.0" x2="867.7" y2="434.7"/><line x1="665.0" y1="229.4" x2="1071.9" y2="229.4"/></g><line x1="670.6" y1="33.0" x2="699.8000000000001" y2="33.0" stroke="#a6a6a8" stroke-width="2.5"/><circle cx="671.1" cy="33.0" r="1.6" fill="#e6e6e6"/><circle cx="699.3000000000001" cy="33.0" r="1.6" fill="#e6e6e6"/><line x1="873.6" y1="33.0" x2="902.8000000000001" y2="33.0" stroke="#a6a6a8" stroke-width="2.5"/><circle cx="874.1" cy="33.0" r="1.6" fill="#e6e6e6"/><circle cx="902.3000000000001" cy="33.0" r="1.6" fill="#e6e6e6"/><line x1="670.6" y1="236.9" x2="699.8000000000001" y2="236.9" stroke="#a6a6a8" stroke-width="2.5"/><circle cx="671.1" cy="236.9" r="1.6" fill="#e6e6e6"/><circle cx="699.3000000000001" cy="236.9" r="1.6" fill="#e6e6e6"/><line x1="873.6" y1="236.9" x2="902.8000000000001" y2="236.9" stroke="#a6a6a8" stroke-width="2.5"/><circle cx="874.1" cy="236.9" r="1.6" fill="#e6e6e6"/><circle cx="902.3000000000001" cy="236.9" r="1.6" fill="#e6e6e6"/><rect x="1076.5" y="26.0" width="21" height="408.7" fill="url(#inf)"/><path d="M1076.5,434.7 V26.0 H1097.5 V434.7" fill="none" stroke="#555" stroke-width="1"/><path d="M1097.5,26.4 h6 M1097.5,434.3 h6" stroke="#333" stroke-width="1.3"/><text transform="translate(1115.0,34.7) scale(1,1.045)" font-size="24.7">1</text><text transform="translate(1115.0,442.09999999999997) scale(1,1.045)" font-size="24.7">0</text><text transform="translate(1120.1,123.0) rotate(90) scale(1,1.045)" font-size="24.9">Norm. fluorescence</text><g stroke="#f4f4f4" stroke-width="2" fill="none"><line x1="245.39999999999998" y1="498.7" x2="245.39999999999998" y2="907.4"/><line x1="42.7" y1="704.3" x2="449.59999999999997" y2="704.3"/></g><line x1="48.300000000000004" y1="506.3" x2="77.5" y2="506.3" stroke="#a6a6a8" stroke-width="2.5"/><circle cx="48.800000000000004" cy="506.3" r="1.6" fill="#e6e6e6"/><circle cx="77.0" cy="506.3" r="1.6" fill="#e6e6e6"/><line x1="251.29999999999998" y1="506.3" x2="280.5" y2="506.3" stroke="#a6a6a8" stroke-width="2.5"/><circle cx="251.79999999999998" cy="506.3" r="1.6" fill="#e6e6e6"/><circle cx="280.0" cy="506.3" r="1.6" fill="#e6e6e6"/><line x1="48.300000000000004" y1="710.5" x2="77.5" y2="710.5" stroke="#a6a6a8" stroke-width="2.5"/><circle cx="48.800000000000004" cy="710.5" r="1.6" fill="#e6e6e6"/><circle cx="77.0" cy="710.5" r="1.6" fill="#e6e6e6"/><line x1="251.29999999999998" y1="710.5" x2="280.5" y2="710.5" stroke="#a6a6a8" stroke-width="2.5"/><circle cx="251.79999999999998" cy="710.5" r="1.6" fill="#e6e6e6"/><circle cx="280.0" cy="710.5" r="1.6" fill="#e6e6e6"/><rect x="454.2" y="498.7" width="21" height="408.7" fill="url(#inf)"/><path d="M454.2,907.4 V498.7 H475.2 V907.4" fill="none" stroke="#555" stroke-width="1"/><path d="M475.2,499.09999999999997 h6 M475.2,907.0 h6" stroke="#333" stroke-width="1.3"/><text transform="translate(492.7,507.4) scale(1,1.045)" font-size="24.7">1</text><text transform="translate(492.7,914.8) scale(1,1.045)" font-size="24.7">0</text><text transform="translate(497.8,595.7) rotate(90) scale(1,1.045)" font-size="24.9">Norm. fluorescence</text><g stroke="#f4f4f4" stroke-width="2" fill="none"><line x1="867.7" y1="498.7" x2="867.7" y2="907.4"/><line x1="665.0" y1="704.3" x2="1071.9" y2="704.3"/></g><line x1="670.6" y1="506.3" x2="699.8000000000001" y2="506.3" stroke="#a6a6a8" stroke-width="2.5"/><circle cx="671.1" cy="506.3" r="1.6" fill="#e6e6e6"/><circle cx="699.3000000000001" cy="506.3" r="1.6" fill="#e6e6e6"/><line x1="873.6" y1="506.3" x2="902.8000000000001" y2="506.3" stroke="#a6a6a8" stroke-width="2.5"/><circle cx="874.1" cy="506.3" r="1.6" fill="#e6e6e6"/><circle cx="902.3000000000001" cy="506.3" r="1.6" fill="#e6e6e6"/><line x1="670.6" y1="710.5" x2="699.8000000000001" y2="710.5" stroke="#a6a6a8" stroke-width="2.5"/><circle cx="671.1" cy="710.5" r="1.6" fill="#e6e6e6"/><circle cx="699.3000000000001" cy="710.5" r="1.6" fill="#e6e6e6"/><line x1="873.6" y1="710.5" x2="902.8000000000001" y2="710.5" stroke="#a6a6a8" stroke-width="2.5"/><circle cx="874.1" cy="710.5" r="1.6" fill="#e6e6e6"/><circle cx="902.3000000000001" cy="710.5" r="1.6" fill="#e6e6e6"/><rect x="1076.5" y="498.7" width="21" height="408.7" fill="url(#inf)"/><path d="M1076.5,907.4 V498.7 H1097.5 V907.4" fill="none" stroke="#555" stroke-width="1"/><path d="M1097.5,499.09999999999997 h6 M1097.5,907.0 h6" stroke="#333" stroke-width="1.3"/><text transform="translate(1115.0,507.4) scale(1,1.045)" font-size="24.7">1</text><text transform="translate(1115.0,914.8) scale(1,1.045)" font-size="24.7">0</text><text transform="translate(1120.1,595.7) rotate(90) scale(1,1.045)" font-size="24.9">Norm. fluorescence</text><text transform="translate(246.5,466) scale(1,1.045)" font-size="24.7" text-anchor="middle">Frame 1</text><text transform="translate(871.5,466) scale(1,1.045)" font-size="24.7" text-anchor="middle">Frame 200</text><text transform="translate(246.5,938.3) scale(1,1.045)" font-size="24.7" text-anchor="middle">Frame 1</text><text transform="translate(871.5,938.3) scale(1,1.045)" font-size="24.7" text-anchor="middle">Frame 200</text><text transform="translate(20.6,230) rotate(-90) scale(1,1.045)" font-size="24.8" text-anchor="middle">mFAP2a + 50 <tspan font-family="Liberation Serif, DejaVu Serif, serif" font-style="italic" dx="0.07em">μ</tspan><tspan dx="0.04em">M</tspan> DFHBI</text><text transform="translate(26.3,702.5) rotate(-90) scale(1,1.045)" font-size="24.1" text-anchor="middle">AcGFP1</text><text transform="translate(525.5,186.9) scale(1,1.045)" font-size="20.6">~0.885 Hz</text><text transform="translate(525.5,658.9) scale(1,1.045)" font-size="20.6">~0.885 Hz</text><g stroke="#000" stroke-width="4.6" fill="none" stroke-linejoin="miter"><path d="M550.5,206.8 H587.0"/><path d="M577.8,197.4 L587.3,206.8 L577.8,216.20000000000002"/></g><g stroke="#000" stroke-width="4.6" fill="none" stroke-linejoin="miter"><path d="M550.5,678.8 H587.0"/><path d="M577.8,669.4 L587.3,678.8 L577.8,688.1999999999999"/></g><polygon points="1295.5,24.9 1298.9,26.0 1302.3,30.0 1305.7,31.9 1309.2,33.2 1312.6,33.0 1316.0,31.4 1319.4,32.3 1322.8,32.9 1326.2,36.0 1329.6,31.5 1333.1,32.7 1336.5,32.9 1339.9,34.9 1343.3,35.4 1346.7,35.9 1350.1,34.3 1353.5,36.3 1357.0,38.1 1360.4,38.5 1363.8,40.4 1367.2,42.4 1370.6,40.1 1374.0,39.7 1377.4,44.2 1380.8,41.4 1384.3,41.5 1387.7,42.6 1391.1,41.6 1394.5,39.8 1397.9,40.9 1401.3,40.0 1404.7,44.0 1408.2,41.9 1411.6,42.5 1415.0,42.4 1418.4,42.5 1421.8,42.2 1425.2,45.0 1428.6,45.9 1432.1,45.3 1435.5,44.0 1438.9,42.5 1442.3,48.2 1445.7,47.9 1449.1,48.0 1452.5,47.4 1456.0,44.5 1459.4,46.9 1462.8,47.7 1466.2,44.7 1469.6,45.8 1473.0,46.2 1476.4,46.7 1479.9,45.9 1483.3,47.7 1486.7,47.8 1490.1,48.4 1493.5,52.2 1496.9,48.8 1500.3,50.3 1503.8,47.9 1507.2,49.0 1510.6,49.7 1514.0,50.9 1517.4,53.8 1520.8,49.6 1524.2,49.6 1527.6,51.8 1531.1,51.1 1534.5,50.5 1537.9,52.3 1541.3,50.4 1544.7,50.8 1548.1,51.2 1551.5,51.3 1555.0,55.2 1558.4,54.9 1561.8,53.9 1565.2,55.2 1568.6,56.1 1572.0,54.4 1575.4,57.5 1578.9,56.8 1582.3,54.8 1585.7,59.1 1589.1,57.2 1592.5,60.0 1595.9,57.3 1599.3,56.2 1602.8,55.9 1606.2,61.4 1609.6,60.2 1613.0,58.0 1616.4,56.1 1619.8,58.8 1623.2,61.7 1626.7,58.4 1630.1,60.5 1633.5,61.9 1636.9,62.7 1640.3,61.1 1643.7,61.9 1647.1,59.1 1650.6,62.2 1654.0,64.5 1657.4,63.9 1660.8,61.6 1664.2,61.1 1667.6,63.6 1671.0,61.4 1674.4,62.4 1677.9,59.5 1681.3,62.9 1684.7,65.0 1688.1,62.5 1691.5,62.7 1694.9,59.6 1698.3,65.8 1701.8,66.3 1705.2,64.8 1708.6,65.9 1712.0,64.6 1715.4,65.0 1718.8,61.7 1722.2,63.9 1725.7,62.9 1729.1,65.0 1732.5,66.0 1735.9,65.5 1739.3,69.4 1742.7,66.6 1746.1,64.8 1749.6,66.8 1753.0,66.7 1756.4,66.5 1759.8,64.5 1763.2,64.0 1766.6,65.0 1770.0,67.0 1773.5,68.4 1776.9,69.4 1780.3,69.2 1783.7,69.9 1787.1,69.1 1790.5,67.1 1793.9,64.6 1797.4,68.2 1800.8,70.8 1804.2,69.7 1807.6,66.9 1811.0,67.3 1814.4,68.2 1817.8,66.9 1821.2,70.1 1824.7,67.0 1828.1,65.9 1831.5,64.2 1834.9,65.3 1838.3,69.2 1841.7,67.3 1845.1,70.4 1848.6,70.2 1852.0,68.9 1855.4,71.2 1858.8,72.1 1862.2,72.3 1865.6,72.5 1869.0,72.2 1872.5,72.0 1875.9,71.4 1879.3,69.9 1882.7,70.2 1886.1,70.5 1889.5,70.5 1892.9,72.2 1896.4,72.6 1899.8,72.9 1903.2,70.8 1906.6,72.7 1910.0,70.5 1913.4,71.7 1916.8,74.7 1920.3,71.1 1923.7,73.1 1927.1,74.4 1930.5,72.8 1933.9,73.6 1937.3,72.6 1940.7,75.4 1944.2,73.7 1947.6,73.3 1951.0,73.7 1954.4,73.0 1957.8,73.7 1961.2,74.5 1964.6,74.6 1968.0,70.8 1971.5,75.1 1974.9,73.3 1974.9,118.3 1971.5,117.1 1968.0,116.0 1964.6,118.2 1961.2,115.8 1957.8,117.7 1954.4,115.2 1951.0,113.7 1947.6,115.4 1944.2,117.0 1940.7,115.1 1937.3,113.9 1933.9,115.5 1930.5,114.6 1927.1,112.7 1923.7,113.6 1920.3,111.1 1916.8,112.4 1913.4,110.1 1910.0,111.0 1906.6,109.4 1903.2,109.8 1899.8,110.5 1896.4,109.0 1892.9,108.2 1889.5,106.2 1886.1,105.1 1882.7,103.9 1879.3,104.8 1875.9,106.2 1872.5,104.6 1869.0,106.6 1865.6,106.2 1862.2,105.6 1858.8,104.6 1855.4,103.3 1852.0,100.5 1848.6,100.7 1845.1,100.8 1841.7,101.0 1838.3,100.9 1834.9,97.4 1831.5,98.0 1828.1,96.4 1824.7,95.5 1821.2,98.9 1817.8,98.1 1814.4,95.6 1811.0,95.3 1807.6,96.0 1804.2,97.7 1800.8,99.4 1797.4,95.9 1793.9,95.6 1790.5,96.1 1787.1,95.4 1783.7,95.1 1780.3,94.8 1776.9,94.3 1773.5,94.4 1770.0,93.1 1766.6,90.4 1763.2,89.3 1759.8,89.8 1756.4,91.6 1753.0,90.7 1749.6,93.1 1746.1,89.0 1742.7,91.6 1739.3,91.9 1735.9,91.1 1732.5,90.0 1729.1,88.9 1725.7,89.4 1722.2,87.7 1718.8,88.9 1715.4,88.1 1712.0,87.8 1708.6,89.8 1705.2,87.3 1701.8,88.9 1698.3,88.0 1694.9,82.6 1691.5,85.2 1688.1,87.8 1684.7,85.9 1681.3,85.4 1677.9,81.0 1674.4,83.3 1671.0,82.6 1667.6,84.5 1664.2,83.4 1660.8,81.5 1657.4,84.5 1654.0,84.2 1650.6,83.6 1647.1,81.1 1643.7,81.2 1640.3,79.6 1636.9,81.0 1633.5,81.9 1630.1,78.1 1626.7,79.5 1623.2,79.0 1619.8,77.4 1616.4,75.4 1613.0,76.7 1609.6,79.3 1606.2,79.3 1602.8,74.3 1599.3,72.7 1595.9,74.9 1592.5,75.4 1589.1,76.2 1585.7,76.0 1582.3,74.4 1578.9,73.4 1575.4,75.1 1572.0,71.1 1568.6,74.8 1565.2,71.7 1561.8,69.7 1558.4,69.1 1555.0,70.7 1551.5,68.7 1548.1,66.0 1544.7,68.2 1541.3,66.8 1537.9,66.3 1534.5,66.1 1531.1,67.8 1527.6,66.0 1524.2,66.8 1520.8,64.8 1517.4,66.9 1514.0,65.0 1510.6,65.6 1507.2,64.7 1503.8,63.2 1500.3,63.6 1496.9,64.0 1493.5,65.2 1490.1,61.9 1486.7,64.3 1483.3,65.7 1479.9,61.0 1476.4,62.1 1473.0,60.1 1469.6,62.1 1466.2,57.9 1462.8,60.5 1459.4,61.3 1456.0,61.1 1452.5,61.8 1449.1,59.7 1445.7,58.1 1442.3,60.5 1438.9,56.0 1435.5,55.6 1432.1,55.3 1428.6,56.1 1425.2,55.7 1421.8,52.4 1418.4,53.5 1415.0,54.5 1411.6,53.1 1408.2,53.2 1404.7,54.3 1401.3,54.0 1397.9,53.4 1394.5,53.5 1391.1,54.2 1387.7,54.1 1384.3,53.1 1380.8,53.8 1377.4,54.1 1374.0,51.8 1370.6,50.7 1367.2,50.1 1363.8,51.4 1360.4,50.5 1357.0,50.3 1353.5,48.3 1350.1,46.4 1346.7,46.5 1343.3,48.0 1339.9,45.0 1336.5,43.1 1333.1,44.3 1329.6,41.6 1326.2,44.7 1322.8,44.1 1319.4,42.4 1316.0,42.2 1312.6,43.6 1309.2,41.1 1305.7,39.1 1302.3,35.1 1298.9,32.1 1295.5,26.5" fill="#377eb8" fill-opacity="0.2"/>
<polyline points="1295.5,25.7 1298.9,29.3 1302.3,32.9 1305.7,35.9 1309.2,36.6 1312.6,36.9 1316.0,36.2 1319.4,36.9 1322.8,37.3 1326.2,39.9 1329.6,37.2 1333.1,38.6 1336.5,38.8 1339.9,40.3 1343.3,41.1 1346.7,40.6 1350.1,40.8 1353.5,42.6 1357.0,43.2 1360.4,43.1 1363.8,45.4 1367.2,46.6 1370.6,45.0 1374.0,46.5 1377.4,48.4 1380.8,47.6 1384.3,47.3 1387.7,48.6 1391.1,49.1 1394.5,47.3 1397.9,46.4 1401.3,48.1 1404.7,49.0 1408.2,48.0 1411.6,47.8 1415.0,49.1 1418.4,48.5 1421.8,48.3 1425.2,50.2 1428.6,51.4 1432.1,50.4 1435.5,50.2 1438.9,50.2 1442.3,53.1 1445.7,53.4 1449.1,54.0 1452.5,55.0 1456.0,53.0 1459.4,52.6 1462.8,53.8 1466.2,51.9 1469.6,52.4 1473.0,53.2 1476.4,53.7 1479.9,53.9 1483.3,56.5 1486.7,54.9 1490.1,55.3 1493.5,58.1 1496.9,56.5 1500.3,56.6 1503.8,56.1 1507.2,57.6 1510.6,57.6 1514.0,57.7 1517.4,59.0 1520.8,58.0 1524.2,58.6 1527.6,58.7 1531.1,59.7 1534.5,58.4 1537.9,59.1 1541.3,60.4 1544.7,59.7 1548.1,58.9 1551.5,59.4 1555.0,63.2 1558.4,61.5 1561.8,61.9 1565.2,63.4 1568.6,64.5 1572.0,62.9 1575.4,65.4 1578.9,64.0 1582.3,63.7 1585.7,67.3 1589.1,67.1 1592.5,68.0 1595.9,66.3 1599.3,64.5 1602.8,64.9 1606.2,69.7 1609.6,69.3 1613.0,67.4 1616.4,66.6 1619.8,68.5 1623.2,70.4 1626.7,69.8 1630.1,70.3 1633.5,71.1 1636.9,71.9 1640.3,70.9 1643.7,71.1 1647.1,71.9 1650.6,72.8 1654.0,74.2 1657.4,73.3 1660.8,71.5 1664.2,73.5 1667.6,74.9 1671.0,72.2 1674.4,72.2 1677.9,71.2 1681.3,73.7 1684.7,75.5 1688.1,76.3 1691.5,72.9 1694.9,71.7 1698.3,75.8 1701.8,76.4 1705.2,75.4 1708.6,76.9 1712.0,76.8 1715.4,76.8 1718.8,76.1 1722.2,75.3 1725.7,76.3 1729.1,76.1 1732.5,77.6 1735.9,77.9 1739.3,80.9 1742.7,80.3 1746.1,77.8 1749.6,78.8 1753.0,78.0 1756.4,77.7 1759.8,77.1 1763.2,77.7 1766.6,78.2 1770.0,80.0 1773.5,81.3 1776.9,81.7 1780.3,81.9 1783.7,82.7 1787.1,82.3 1790.5,81.7 1793.9,81.6 1797.4,82.9 1800.8,84.9 1804.2,83.1 1807.6,82.2 1811.0,81.5 1814.4,82.5 1817.8,84.5 1821.2,84.4 1824.7,81.6 1828.1,82.4 1831.5,81.5 1834.9,81.9 1838.3,85.6 1841.7,85.1 1845.1,84.9 1848.6,85.0 1852.0,85.4 1855.4,86.1 1858.8,87.0 1862.2,89.0 1865.6,88.2 1869.0,88.6 1872.5,88.1 1875.9,88.5 1879.3,87.5 1882.7,87.3 1886.1,88.2 1889.5,88.6 1892.9,89.3 1896.4,90.3 1899.8,90.4 1903.2,90.8 1906.6,90.1 1910.0,90.4 1913.4,90.6 1916.8,92.5 1920.3,90.9 1923.7,92.7 1927.1,93.2 1930.5,92.9 1933.9,93.2 1937.3,92.7 1940.7,94.0 1944.2,95.1 1947.6,94.6 1951.0,92.3 1954.4,93.9 1957.8,95.8 1961.2,95.3 1964.6,96.3 1968.0,93.6 1971.5,96.6 1974.9,95.4" fill="none" stroke="#377eb8" stroke-width="2.45" stroke-linejoin="round"/>
<polygon points="1295.5,24.5 1298.9,24.2 1302.3,23.3 1305.7,19.4 1309.2,17.7 1312.6,23.6 1316.0,29.1 1319.4,30.9 1322.8,27.7 1326.2,26.2 1329.6,27.7 1333.1,32.7 1336.5,34.1 1339.9,30.3 1343.3,33.1 1346.7,39.5 1350.1,37.4 1353.5,40.2 1357.0,41.6 1360.4,40.6 1363.8,37.6 1367.2,40.1 1370.6,42.1 1374.0,43.8 1377.4,44.8 1380.8,44.0 1384.3,50.2 1387.7,50.7 1391.1,51.9 1394.5,49.0 1397.9,54.4 1401.3,51.9 1404.7,52.1 1408.2,54.5 1411.6,56.5 1415.0,55.9 1418.4,58.9 1421.8,59.3 1425.2,58.1 1428.6,58.7 1432.1,56.6 1435.5,57.2 1438.9,64.2 1442.3,62.2 1445.7,65.2 1449.1,63.8 1452.5,65.6 1456.0,69.5 1459.4,67.6 1462.8,65.8 1466.2,63.1 1469.6,71.5 1473.0,68.6 1476.4,73.7 1479.9,73.4 1483.3,74.8 1486.7,70.7 1490.1,69.8 1493.5,65.8 1496.9,71.1 1500.3,72.5 1503.8,73.1 1507.2,78.0 1510.6,74.6 1514.0,73.2 1517.4,76.4 1520.8,75.3 1524.2,75.3 1527.6,74.9 1531.1,79.6 1534.5,82.5 1537.9,83.5 1541.3,83.8 1544.7,83.5 1548.1,83.3 1551.5,90.2 1555.0,91.6 1558.4,92.6 1561.8,87.7 1565.2,91.4 1568.6,92.7 1572.0,93.8 1575.4,92.8 1578.9,96.0 1582.3,97.5 1585.7,90.2 1589.1,97.2 1592.5,96.5 1595.9,95.4 1599.3,99.3 1602.8,97.2 1606.2,93.6 1609.6,98.1 1613.0,100.7 1616.4,103.3 1619.8,101.5 1623.2,101.5 1626.7,99.9 1630.1,100.8 1633.5,104.3 1636.9,105.3 1640.3,104.1 1643.7,104.7 1647.1,107.2 1650.6,103.8 1654.0,100.3 1657.4,104.3 1660.8,110.1 1664.2,102.4 1667.6,104.8 1671.0,110.6 1674.4,106.4 1677.9,109.0 1681.3,110.4 1684.7,111.8 1688.1,114.8 1691.5,111.9 1694.9,111.6 1698.3,108.1 1701.8,110.3 1705.2,107.5 1708.6,116.0 1712.0,116.1 1715.4,118.4 1718.8,117.6 1722.2,119.6 1725.7,120.0 1729.1,116.9 1732.5,120.5 1735.9,118.3 1739.3,116.6 1742.7,116.9 1746.1,117.3 1749.6,118.5 1753.0,117.7 1756.4,116.6 1759.8,121.1 1763.2,119.3 1766.6,122.6 1770.0,125.5 1773.5,126.4 1776.9,123.5 1780.3,122.4 1783.7,120.8 1787.1,127.7 1790.5,131.0 1793.9,123.3 1797.4,125.2 1800.8,128.6 1804.2,124.0 1807.6,131.6 1811.0,137.2 1814.4,134.8 1817.8,131.4 1821.2,128.2 1824.7,135.4 1828.1,135.5 1831.5,136.5 1834.9,137.9 1838.3,140.7 1841.7,136.3 1845.1,133.8 1848.6,136.9 1852.0,141.8 1855.4,145.1 1858.8,139.9 1862.2,142.0 1865.6,140.0 1869.0,141.2 1872.5,138.2 1875.9,139.5 1879.3,143.1 1882.7,140.6 1886.1,141.8 1889.5,150.8 1892.9,145.8 1896.4,147.4 1899.8,144.9 1903.2,147.6 1906.6,149.6 1910.0,149.3 1913.4,141.6 1916.8,143.5 1920.3,150.6 1923.7,150.0 1927.1,145.5 1930.5,150.2 1933.9,153.5 1937.3,149.4 1940.7,148.2 1944.2,148.8 1947.6,150.1 1951.0,153.7 1954.4,152.0 1957.8,149.7 1961.2,147.9 1964.6,154.9 1968.0,157.6 1971.5,156.5 1974.9,150.6 1974.9,166.7 1971.5,172.7 1968.0,173.2 1964.6,170.0 1961.2,164.7 1957.8,167.6 1954.4,167.4 1951.0,170.4 1947.6,167.7 1944.2,164.8 1940.7,165.8 1937.3,167.3 1933.9,168.0 1930.5,167.3 1927.1,161.4 1923.7,165.3 1920.3,164.2 1916.8,159.8 1913.4,159.1 1910.0,163.5 1906.6,163.5 1903.2,164.2 1899.8,160.9 1896.4,165.9 1892.9,163.6 1889.5,164.8 1886.1,155.5 1882.7,154.8 1879.3,159.5 1875.9,156.2 1872.5,151.2 1869.0,161.0 1865.6,159.4 1862.2,157.1 1858.8,153.6 1855.4,157.0 1852.0,156.4 1848.6,150.5 1845.1,151.7 1841.7,151.4 1838.3,153.2 1834.9,152.5 1831.5,151.8 1828.1,149.8 1824.7,148.2 1821.2,144.8 1817.8,149.4 1814.4,148.0 1811.0,151.1 1807.6,147.0 1804.2,141.3 1800.8,146.4 1797.4,141.5 1793.9,138.6 1790.5,145.0 1787.1,140.1 1783.7,135.6 1780.3,136.8 1776.9,137.8 1773.5,140.6 1770.0,144.2 1766.6,137.7 1763.2,137.9 1759.8,134.3 1756.4,131.2 1753.0,134.8 1749.6,133.1 1746.1,133.2 1742.7,131.9 1739.3,133.2 1735.9,133.0 1732.5,135.2 1729.1,131.1 1725.7,135.8 1722.2,136.3 1718.8,134.1 1715.4,130.8 1712.0,133.0 1708.6,130.5 1705.2,122.9 1701.8,127.0 1698.3,129.9 1694.9,125.2 1691.5,127.7 1688.1,129.3 1684.7,129.5 1681.3,127.7 1677.9,123.5 1674.4,121.3 1671.0,123.7 1667.6,122.9 1664.2,119.9 1660.8,124.9 1657.4,120.4 1654.0,115.4 1650.6,117.8 1647.1,118.8 1643.7,119.3 1640.3,120.0 1636.9,120.7 1633.5,120.6 1630.1,117.7 1626.7,113.3 1623.2,116.2 1619.8,115.2 1616.4,121.0 1613.0,119.6 1609.6,113.1 1606.2,112.2 1602.8,110.7 1599.3,114.3 1595.9,112.5 1592.5,112.6 1589.1,110.5 1585.7,108.5 1582.3,110.7 1578.9,109.8 1575.4,107.4 1572.0,110.6 1568.6,111.1 1565.2,106.4 1561.8,101.2 1558.4,106.4 1555.0,109.0 1551.5,105.4 1548.1,99.5 1544.7,101.0 1541.3,97.8 1537.9,94.1 1534.5,96.6 1531.1,96.6 1527.6,91.1 1524.2,95.5 1520.8,93.3 1517.4,95.0 1514.0,90.3 1510.6,91.8 1507.2,91.9 1503.8,88.3 1500.3,87.1 1496.9,88.6 1493.5,84.0 1490.1,87.3 1486.7,85.5 1483.3,88.5 1479.9,89.1 1476.4,89.1 1473.0,81.7 1469.6,85.2 1466.2,80.1 1462.8,83.2 1459.4,81.9 1456.0,85.2 1452.5,82.9 1449.1,79.2 1445.7,79.4 1442.3,80.4 1438.9,80.8 1435.5,76.8 1432.1,70.2 1428.6,78.8 1425.2,73.4 1421.8,74.9 1418.4,77.4 1415.0,73.4 1411.6,71.9 1408.2,68.3 1404.7,69.0 1401.3,67.9 1397.9,69.1 1394.5,66.8 1391.1,66.8 1387.7,65.5 1384.3,65.3 1380.8,61.0 1377.4,59.1 1374.0,59.2 1370.6,56.0 1367.2,53.8 1363.8,54.7 1360.4,57.1 1357.0,52.7 1353.5,53.7 1350.1,50.7 1346.7,55.0 1343.3,45.9 1339.9,42.0 1336.5,48.3 1333.1,49.6 1329.6,43.9 1326.2,38.0 1322.8,40.6 1319.4,41.5 1316.0,40.8 1312.6,36.6 1309.2,31.9 1305.7,28.2 1302.3,29.7 1298.9,33.1 1295.5,26.9" fill="#4daf4a" fill-opacity="0.2"/>
<polyline points="1295.5,25.7 1298.9,29.7 1302.3,26.9 1305.7,25.3 1309.2,25.3 1312.6,30.4 1316.0,35.6 1319.4,37.0 1322.8,33.8 1326.2,32.3 1329.6,36.9 1333.1,42.1 1336.5,41.5 1339.9,36.3 1343.3,40.5 1346.7,46.3 1350.1,44.7 1353.5,47.2 1357.0,47.3 1360.4,47.8 1363.8,48.6 1367.2,46.9 1370.6,49.3 1374.0,51.7 1377.4,50.6 1380.8,51.8 1384.3,58.4 1387.7,57.9 1391.1,59.6 1394.5,59.4 1397.9,61.8 1401.3,59.7 1404.7,59.9 1408.2,61.6 1411.6,63.9 1415.0,63.7 1418.4,66.0 1421.8,67.1 1425.2,65.0 1428.6,67.3 1432.1,63.6 1435.5,66.1 1438.9,73.1 1442.3,70.6 1445.7,73.0 1449.1,71.6 1452.5,72.8 1456.0,77.7 1459.4,75.0 1462.8,74.0 1466.2,72.9 1469.6,77.4 1473.0,75.7 1476.4,80.1 1479.9,80.6 1483.3,81.4 1486.7,77.4 1490.1,78.1 1493.5,75.5 1496.9,79.2 1500.3,80.0 1503.8,80.9 1507.2,84.4 1510.6,83.2 1514.0,80.4 1517.4,84.0 1520.8,84.0 1524.2,84.6 1527.6,84.9 1531.1,88.3 1534.5,89.5 1537.9,89.7 1541.3,91.4 1544.7,93.8 1548.1,92.0 1551.5,97.4 1555.0,99.2 1558.4,98.9 1561.8,94.7 1565.2,97.9 1568.6,101.0 1572.0,101.6 1575.4,99.3 1578.9,103.0 1582.3,104.0 1585.7,100.9 1589.1,104.6 1592.5,103.9 1595.9,103.4 1599.3,104.8 1602.8,103.8 1606.2,101.7 1609.6,106.7 1613.0,110.5 1616.4,112.1 1619.8,108.9 1623.2,108.6 1626.7,108.1 1630.1,110.2 1633.5,111.4 1636.9,112.5 1640.3,112.3 1643.7,111.3 1647.1,112.6 1650.6,111.3 1654.0,107.8 1657.4,112.2 1660.8,117.0 1664.2,111.0 1667.6,114.0 1671.0,117.6 1674.4,114.7 1677.9,116.8 1681.3,119.5 1684.7,120.7 1688.1,121.6 1691.5,119.1 1694.9,117.2 1698.3,120.3 1701.8,118.9 1705.2,117.1 1708.6,123.9 1712.0,122.7 1715.4,124.3 1718.8,127.1 1722.2,127.4 1725.7,125.0 1729.1,124.4 1732.5,126.8 1735.9,126.0 1739.3,124.8 1742.7,125.7 1746.1,125.3 1749.6,126.5 1753.0,126.5 1756.4,124.3 1759.8,127.5 1763.2,129.7 1766.6,130.0 1770.0,134.1 1773.5,133.4 1776.9,130.9 1780.3,130.7 1783.7,129.9 1787.1,134.7 1790.5,138.0 1793.9,131.2 1797.4,133.2 1800.8,138.5 1804.2,134.8 1807.6,138.5 1811.0,143.8 1814.4,141.9 1817.8,140.7 1821.2,137.3 1824.7,142.5 1828.1,143.1 1831.5,143.5 1834.9,144.6 1838.3,146.0 1841.7,143.5 1845.1,141.4 1848.6,143.6 1852.0,148.5 1855.4,149.8 1858.8,147.7 1862.2,149.6 1865.6,151.1 1869.0,152.2 1872.5,144.7 1875.9,146.9 1879.3,151.9 1882.7,148.5 1886.1,149.0 1889.5,157.9 1892.9,155.8 1896.4,154.3 1899.8,152.6 1903.2,154.6 1906.6,155.7 1910.0,154.8 1913.4,150.1 1916.8,150.2 1920.3,157.6 1923.7,158.6 1927.1,152.0 1930.5,159.5 1933.9,160.6 1937.3,158.9 1940.7,157.4 1944.2,156.5 1947.6,158.9 1951.0,162.0 1954.4,159.7 1957.8,158.9 1961.2,156.2 1964.6,161.2 1968.0,165.8 1971.5,164.6 1974.9,159.0" fill="none" stroke="#4daf4a" stroke-width="2.45" stroke-linejoin="round"/>
<polygon points="1295.5,25.7 1298.9,47.8 1302.3,65.4 1305.7,72.1 1309.2,75.4 1312.6,81.3 1316.0,83.3 1319.4,81.7 1322.8,87.1 1326.2,90.2 1329.6,89.8 1333.1,90.4 1336.5,90.2 1339.9,93.0 1343.3,97.2 1346.7,99.1 1350.1,100.0 1353.5,103.8 1357.0,104.0 1360.4,105.8 1363.8,108.6 1367.2,108.4 1370.6,107.8 1374.0,108.2 1377.4,110.8 1380.8,110.3 1384.3,112.6 1387.7,112.9 1391.1,111.7 1394.5,112.8 1397.9,116.3 1401.3,115.9 1404.7,117.9 1408.2,117.6 1411.6,115.1 1415.0,118.7 1418.4,118.5 1421.8,118.8 1425.2,122.3 1428.6,119.6 1432.1,121.8 1435.5,122.6 1438.9,124.1 1442.3,124.0 1445.7,122.0 1449.1,125.0 1452.5,124.7 1456.0,122.8 1459.4,126.0 1462.8,121.2 1466.2,121.6 1469.6,128.2 1473.0,127.3 1476.4,129.9 1479.9,128.4 1483.3,128.7 1486.7,128.9 1490.1,131.3 1493.5,131.3 1496.9,134.9 1500.3,133.6 1503.8,134.8 1507.2,136.3 1510.6,137.4 1514.0,135.5 1517.4,138.1 1520.8,136.7 1524.2,136.2 1527.6,138.7 1531.1,139.1 1534.5,139.2 1537.9,139.9 1541.3,137.2 1544.7,137.5 1548.1,137.6 1551.5,138.7 1555.0,141.4 1558.4,138.6 1561.8,139.5 1565.2,139.7 1568.6,141.5 1572.0,140.4 1575.4,141.0 1578.9,142.1 1582.3,139.8 1585.7,144.3 1589.1,144.7 1592.5,142.3 1595.9,142.7 1599.3,141.5 1602.8,140.7 1606.2,142.3 1609.6,144.1 1613.0,142.6 1616.4,142.9 1619.8,147.1 1623.2,146.6 1626.7,146.8 1630.1,147.6 1633.5,149.8 1636.9,145.8 1640.3,148.2 1643.7,147.4 1647.1,143.0 1650.6,146.5 1654.0,146.4 1657.4,147.6 1660.8,149.0 1664.2,148.2 1667.6,146.9 1671.0,147.8 1674.4,147.2 1677.9,150.4 1681.3,149.2 1684.7,149.2 1688.1,149.4 1691.5,145.8 1694.9,149.8 1698.3,148.4 1701.8,148.6 1705.2,149.8 1708.6,150.7 1712.0,149.0 1715.4,153.6 1718.8,151.1 1722.2,151.2 1725.7,152.9 1729.1,149.9 1732.5,152.7 1735.9,149.0 1739.3,152.4 1742.7,151.1 1746.1,150.3 1749.6,153.4 1753.0,149.9 1756.4,148.9 1759.8,151.7 1763.2,152.6 1766.6,152.0 1770.0,153.0 1773.5,151.7 1776.9,152.4 1780.3,150.9 1783.7,155.0 1787.1,154.3 1790.5,153.9 1793.9,153.4 1797.4,152.0 1800.8,152.0 1804.2,154.1 1807.6,154.1 1811.0,154.8 1814.4,155.7 1817.8,155.7 1821.2,155.4 1824.7,157.3 1828.1,157.0 1831.5,156.6 1834.9,154.2 1838.3,156.7 1841.7,157.3 1845.1,153.4 1848.6,153.9 1852.0,157.9 1855.4,155.3 1858.8,159.5 1862.2,155.8 1865.6,153.9 1869.0,155.5 1872.5,156.7 1875.9,159.5 1879.3,154.6 1882.7,158.1 1886.1,159.9 1889.5,158.8 1892.9,157.5 1896.4,158.3 1899.8,158.2 1903.2,155.9 1906.6,159.1 1910.0,159.1 1913.4,156.5 1916.8,157.4 1920.3,158.1 1923.7,158.4 1927.1,158.5 1930.5,157.2 1933.9,157.9 1937.3,158.5 1940.7,160.6 1944.2,160.2 1947.6,159.1 1951.0,156.9 1954.4,157.3 1957.8,158.2 1961.2,158.4 1964.6,158.6 1968.0,158.5 1971.5,157.9 1974.9,158.7 1974.9,191.0 1971.5,189.5 1968.0,188.1 1964.6,188.4 1961.2,189.5 1957.8,189.0 1954.4,190.6 1951.0,187.3 1947.6,189.7 1944.2,189.2 1940.7,188.6 1937.3,188.3 1933.9,188.8 1930.5,186.1 1927.1,190.4 1923.7,188.2 1920.3,187.4 1916.8,187.5 1913.4,189.0 1910.0,189.0 1906.6,189.5 1903.2,188.0 1899.8,188.3 1896.4,186.2 1892.9,187.4 1889.5,189.4 1886.1,188.9 1882.7,189.7 1879.3,185.1 1875.9,185.9 1872.5,185.5 1869.0,186.7 1865.6,184.8 1862.2,186.5 1858.8,186.4 1855.4,184.8 1852.0,187.9 1848.6,185.2 1845.1,182.8 1841.7,183.6 1838.3,184.2 1834.9,184.7 1831.5,184.7 1828.1,184.6 1824.7,183.0 1821.2,182.5 1817.8,181.7 1814.4,182.9 1811.0,181.8 1807.6,182.8 1804.2,184.0 1800.8,181.0 1797.4,181.8 1793.9,182.6 1790.5,185.9 1787.1,184.8 1783.7,181.1 1780.3,183.6 1776.9,180.9 1773.5,179.4 1770.0,180.8 1766.6,179.3 1763.2,178.9 1759.8,179.3 1756.4,180.2 1753.0,177.4 1749.6,181.9 1746.1,179.3 1742.7,178.8 1739.3,179.7 1735.9,180.2 1732.5,181.2 1729.1,177.6 1725.7,183.1 1722.2,179.8 1718.8,178.4 1715.4,180.7 1712.0,180.6 1708.6,177.3 1705.2,176.6 1701.8,177.9 1698.3,176.6 1694.9,176.2 1691.5,178.2 1688.1,176.4 1684.7,176.2 1681.3,176.5 1677.9,175.7 1674.4,173.6 1671.0,176.3 1667.6,174.4 1664.2,176.1 1660.8,175.0 1657.4,176.3 1654.0,174.4 1650.6,174.1 1647.1,171.5 1643.7,172.3 1640.3,171.8 1636.9,172.4 1633.5,178.6 1630.1,175.3 1626.7,172.5 1623.2,173.7 1619.8,174.7 1616.4,171.2 1613.0,170.4 1609.6,172.5 1606.2,170.8 1602.8,169.5 1599.3,168.7 1595.9,168.8 1592.5,168.5 1589.1,170.5 1585.7,170.1 1582.3,168.5 1578.9,168.8 1575.4,167.9 1572.0,166.0 1568.6,167.2 1565.2,164.7 1561.8,165.3 1558.4,165.3 1555.0,165.4 1551.5,167.0 1548.1,165.3 1544.7,165.2 1541.3,164.5 1537.9,165.8 1534.5,164.9 1531.1,164.7 1527.6,168.1 1524.2,162.4 1520.8,160.5 1517.4,165.1 1514.0,166.3 1510.6,164.6 1507.2,160.1 1503.8,158.6 1500.3,159.8 1496.9,158.9 1493.5,154.8 1490.1,157.0 1486.7,155.0 1483.3,155.1 1479.9,154.3 1476.4,154.0 1473.0,155.8 1469.6,155.7 1466.2,152.2 1462.8,150.0 1459.4,152.6 1456.0,150.1 1452.5,149.1 1449.1,151.5 1445.7,150.1 1442.3,150.1 1438.9,149.5 1435.5,147.3 1432.1,148.5 1428.6,149.4 1425.2,147.0 1421.8,145.0 1418.4,144.0 1415.0,143.3 1411.6,142.3 1408.2,144.3 1404.7,140.6 1401.3,142.3 1397.9,140.2 1394.5,137.5 1391.1,133.8 1387.7,138.3 1384.3,138.6 1380.8,134.5 1377.4,132.6 1374.0,133.1 1370.6,132.5 1367.2,131.6 1363.8,132.7 1360.4,132.1 1357.0,130.2 1353.5,126.3 1350.1,122.6 1346.7,121.0 1343.3,117.9 1339.9,114.8 1336.5,113.1 1333.1,110.6 1329.6,110.3 1326.2,107.1 1322.8,107.0 1319.4,99.8 1316.0,95.8 1312.6,92.5 1309.2,87.8 1305.7,79.6 1302.3,69.6 1298.9,51.4 1295.5,25.7" fill="#ff7f00" fill-opacity="0.2"/>
<polyline points="1295.5,25.7 1298.9,49.9 1302.3,68.0 1305.7,77.0 1309.2,82.2 1312.6,87.3 1316.0,90.0 1319.4,91.8 1322.8,96.0 1326.2,98.5 1329.6,99.3 1333.1,100.9 1336.5,103.0 1339.9,105.6 1343.3,106.6 1346.7,108.2 1350.1,112.3 1353.5,114.2 1357.0,117.1 1360.4,118.4 1363.8,119.8 1367.2,119.6 1370.6,121.0 1374.0,120.4 1377.4,121.1 1380.8,122.8 1384.3,125.7 1387.7,124.7 1391.1,124.4 1394.5,125.4 1397.9,127.8 1401.3,128.1 1404.7,129.2 1408.2,129.6 1411.6,128.9 1415.0,131.1 1418.4,131.3 1421.8,131.1 1425.2,133.1 1428.6,133.5 1432.1,133.8 1435.5,134.8 1438.9,136.5 1442.3,135.7 1445.7,135.3 1449.1,138.2 1452.5,137.1 1456.0,138.1 1459.4,139.0 1462.8,137.2 1466.2,139.0 1469.6,141.8 1473.0,141.3 1476.4,141.2 1479.9,142.3 1483.3,142.4 1486.7,143.4 1490.1,143.2 1493.5,143.3 1496.9,145.9 1500.3,146.3 1503.8,147.4 1507.2,148.0 1510.6,149.8 1514.0,150.0 1517.4,149.7 1520.8,148.8 1524.2,149.2 1527.6,152.0 1531.1,151.9 1534.5,151.1 1537.9,153.5 1541.3,152.6 1544.7,151.8 1548.1,150.6 1551.5,151.5 1555.0,153.0 1558.4,153.6 1561.8,153.3 1565.2,152.1 1568.6,154.1 1572.0,154.5 1575.4,154.2 1578.9,154.9 1582.3,155.6 1585.7,156.7 1589.1,156.1 1592.5,156.2 1595.9,154.9 1599.3,155.5 1602.8,156.5 1606.2,156.5 1609.6,157.3 1613.0,156.6 1616.4,157.5 1619.8,157.9 1623.2,159.7 1626.7,159.1 1630.1,161.2 1633.5,161.9 1636.9,160.5 1640.3,160.7 1643.7,159.4 1647.1,157.8 1650.6,160.8 1654.0,161.4 1657.4,160.5 1660.8,160.4 1664.2,161.2 1667.6,161.4 1671.0,160.6 1674.4,161.2 1677.9,162.9 1681.3,162.4 1684.7,162.4 1688.1,163.5 1691.5,162.7 1694.9,163.4 1698.3,162.0 1701.8,162.6 1705.2,163.2 1708.6,164.0 1712.0,164.3 1715.4,166.2 1718.8,165.5 1722.2,164.4 1725.7,166.2 1729.1,164.3 1732.5,166.0 1735.9,164.4 1739.3,165.3 1742.7,164.3 1746.1,165.1 1749.6,166.6 1753.0,164.1 1756.4,163.7 1759.8,165.5 1763.2,166.3 1766.6,166.6 1770.0,167.1 1773.5,165.6 1776.9,167.0 1780.3,167.2 1783.7,168.0 1787.1,168.3 1790.5,168.6 1793.9,166.5 1797.4,167.3 1800.8,166.9 1804.2,168.0 1807.6,169.1 1811.0,169.1 1814.4,169.3 1817.8,169.0 1821.2,169.5 1824.7,169.9 1828.1,171.2 1831.5,170.4 1834.9,168.3 1838.3,170.5 1841.7,171.3 1845.1,169.8 1848.6,169.1 1852.0,171.9 1855.4,171.5 1858.8,172.1 1862.2,173.0 1865.6,170.8 1869.0,171.2 1872.5,171.6 1875.9,172.3 1879.3,171.6 1882.7,172.4 1886.1,172.6 1889.5,173.7 1892.9,173.6 1896.4,171.4 1899.8,172.7 1903.2,172.5 1906.6,172.9 1910.0,173.5 1913.4,173.5 1916.8,172.6 1920.3,173.5 1923.7,173.6 1927.1,173.2 1930.5,172.1 1933.9,172.6 1937.3,173.4 1940.7,174.8 1944.2,175.4 1947.6,173.2 1951.0,173.0 1954.4,174.1 1957.8,173.7 1961.2,173.3 1964.6,173.3 1968.0,173.6 1971.5,174.7 1974.9,173.3" fill="none" stroke="#ff7f00" stroke-width="2.45" stroke-linejoin="round"/>
<polygon points="1295.5,25.7 1298.9,35.7 1302.3,46.4 1305.7,48.5 1309.2,52.8 1312.6,61.9 1316.0,61.1 1319.4,66.1 1322.8,71.1 1326.2,75.9 1329.6,79.8 1333.1,75.5 1336.5,80.7 1339.9,82.4 1343.3,87.4 1346.7,94.9 1350.1,98.2 1353.5,98.1 1357.0,102.7 1360.4,103.1 1363.8,108.8 1367.2,110.5 1370.6,114.0 1374.0,112.0 1377.4,118.4 1380.8,118.1 1384.3,123.8 1387.7,126.8 1391.1,122.4 1394.5,129.1 1397.9,128.9 1401.3,132.6 1404.7,134.9 1408.2,136.7 1411.6,138.4 1415.0,137.7 1418.4,138.2 1421.8,138.0 1425.2,142.3 1428.6,146.2 1432.1,145.6 1435.5,144.5 1438.9,148.0 1442.3,148.6 1445.7,152.3 1449.1,150.2 1452.5,151.4 1456.0,149.3 1459.4,153.2 1462.8,156.8 1466.2,156.5 1469.6,153.1 1473.0,156.0 1476.4,158.3 1479.9,159.1 1483.3,161.1 1486.7,158.5 1490.1,164.0 1493.5,165.5 1496.9,168.8 1500.3,167.9 1503.8,164.8 1507.2,170.0 1510.6,163.0 1514.0,169.6 1517.4,172.6 1520.8,173.0 1524.2,173.2 1527.6,175.3 1531.1,173.2 1534.5,177.4 1537.9,173.9 1541.3,182.1 1544.7,180.9 1548.1,180.6 1551.5,179.9 1555.0,179.8 1558.4,182.3 1561.8,182.5 1565.2,182.1 1568.6,180.5 1572.0,183.8 1575.4,184.7 1578.9,183.1 1582.3,184.0 1585.7,183.7 1589.1,184.1 1592.5,187.9 1595.9,184.9 1599.3,188.5 1602.8,188.4 1606.2,186.4 1609.6,184.5 1613.0,187.8 1616.4,188.8 1619.8,188.6 1623.2,194.2 1626.7,190.0 1630.1,192.1 1633.5,187.4 1636.9,192.8 1640.3,191.3 1643.7,195.5 1647.1,195.1 1650.6,196.3 1654.0,192.1 1657.4,194.8 1660.8,198.8 1664.2,200.1 1667.6,193.4 1671.0,197.6 1674.4,192.0 1677.9,191.6 1681.3,203.9 1684.7,199.6 1688.1,205.0 1691.5,200.7 1694.9,205.8 1698.3,200.9 1701.8,198.5 1705.2,198.9 1708.6,200.0 1712.0,200.7 1715.4,207.7 1718.8,207.5 1722.2,202.0 1725.7,204.5 1729.1,205.4 1732.5,203.4 1735.9,205.1 1739.3,203.1 1742.7,206.6 1746.1,206.1 1749.6,203.8 1753.0,205.1 1756.4,203.4 1759.8,206.4 1763.2,209.0 1766.6,209.8 1770.0,211.3 1773.5,206.8 1776.9,207.3 1780.3,210.6 1783.7,217.1 1787.1,214.0 1790.5,213.6 1793.9,211.6 1797.4,210.1 1800.8,209.5 1804.2,211.7 1807.6,213.9 1811.0,212.4 1814.4,212.8 1817.8,212.2 1821.2,209.0 1824.7,207.3 1828.1,211.7 1831.5,215.8 1834.9,215.1 1838.3,215.8 1841.7,214.5 1845.1,216.9 1848.6,214.6 1852.0,213.2 1855.4,216.3 1858.8,214.3 1862.2,212.5 1865.6,215.2 1869.0,220.3 1872.5,216.2 1875.9,216.4 1879.3,218.6 1882.7,216.9 1886.1,221.9 1889.5,216.5 1892.9,217.4 1896.4,219.2 1899.8,219.7 1903.2,217.7 1906.6,222.9 1910.0,227.0 1913.4,224.4 1916.8,219.3 1920.3,223.4 1923.7,222.8 1927.1,219.9 1930.5,218.6 1933.9,217.1 1937.3,221.9 1940.7,222.1 1944.2,225.6 1947.6,221.4 1951.0,219.3 1954.4,221.7 1957.8,220.8 1961.2,222.4 1964.6,218.1 1968.0,222.1 1971.5,224.3 1974.9,222.8 1974.9,252.6 1971.5,252.8 1968.0,249.0 1964.6,247.7 1961.2,250.0 1957.8,250.1 1954.4,250.0 1951.0,250.0 1947.6,250.0 1944.2,251.2 1940.7,247.5 1937.3,248.3 1933.9,247.9 1930.5,247.8 1927.1,246.5 1923.7,247.6 1920.3,248.7 1916.8,246.3 1913.4,252.9 1910.0,252.6 1906.6,249.9 1903.2,246.2 1899.8,245.1 1896.4,244.6 1892.9,242.9 1889.5,242.9 1886.1,248.2 1882.7,245.3 1879.3,247.3 1875.9,245.4 1872.5,242.6 1869.0,246.3 1865.6,244.5 1862.2,240.8 1858.8,247.0 1855.4,243.7 1852.0,238.9 1848.6,240.6 1845.1,242.3 1841.7,244.4 1838.3,242.5 1834.9,243.5 1831.5,240.6 1828.1,240.7 1824.7,234.4 1821.2,237.3 1817.8,238.0 1814.4,240.8 1811.0,239.2 1807.6,237.4 1804.2,239.0 1800.8,234.8 1797.4,237.3 1793.9,236.1 1790.5,236.5 1787.1,238.1 1783.7,240.3 1780.3,236.8 1776.9,234.2 1773.5,234.1 1770.0,238.8 1766.6,237.2 1763.2,235.3 1759.8,232.0 1756.4,233.8 1753.0,230.2 1749.6,230.4 1746.1,235.7 1742.7,232.2 1739.3,231.3 1735.9,232.9 1732.5,229.3 1729.1,231.7 1725.7,231.6 1722.2,232.8 1718.8,236.2 1715.4,234.3 1712.0,229.7 1708.6,232.7 1705.2,225.5 1701.8,224.0 1698.3,225.6 1694.9,228.5 1691.5,225.0 1688.1,229.0 1684.7,222.3 1681.3,224.7 1677.9,221.0 1674.4,220.8 1671.0,223.6 1667.6,220.6 1664.2,221.6 1660.8,224.6 1657.4,219.6 1654.0,220.5 1650.6,220.0 1647.1,221.0 1643.7,219.4 1640.3,219.5 1636.9,218.5 1633.5,215.5 1630.1,217.3 1626.7,213.0 1623.2,217.3 1619.8,215.4 1616.4,213.3 1613.0,211.8 1609.6,210.4 1606.2,212.3 1602.8,214.0 1599.3,212.1 1595.9,215.2 1592.5,214.0 1589.1,212.7 1585.7,209.2 1582.3,210.2 1578.9,208.3 1575.4,208.4 1572.0,211.1 1568.6,205.2 1565.2,206.9 1561.8,205.4 1558.4,208.6 1555.0,206.2 1551.5,204.9 1548.1,206.4 1544.7,207.2 1541.3,204.3 1537.9,201.6 1534.5,201.2 1531.1,201.5 1527.6,199.8 1524.2,199.7 1520.8,200.6 1517.4,200.1 1514.0,191.8 1510.6,190.4 1507.2,198.1 1503.8,191.8 1500.3,190.3 1496.9,192.6 1493.5,193.4 1490.1,190.1 1486.7,187.2 1483.3,185.6 1479.9,187.7 1476.4,184.5 1473.0,180.8 1469.6,183.7 1466.2,181.4 1462.8,180.8 1459.4,181.2 1456.0,174.1 1452.5,179.0 1449.1,175.5 1445.7,173.9 1442.3,174.6 1438.9,171.0 1435.5,169.0 1432.1,168.5 1428.6,168.9 1425.2,167.6 1421.8,166.2 1418.4,165.7 1415.0,164.6 1411.6,161.6 1408.2,161.2 1404.7,159.8 1401.3,158.5 1397.9,156.9 1394.5,152.8 1391.1,151.5 1387.7,153.8 1384.3,147.2 1380.8,146.4 1377.4,141.4 1374.0,137.7 1370.6,140.1 1367.2,137.1 1363.8,133.9 1360.4,127.6 1357.0,128.4 1353.5,126.4 1350.1,122.0 1346.7,116.9 1343.3,112.0 1339.9,105.5 1336.5,108.4 1333.1,105.5 1329.6,104.5 1326.2,99.5 1322.8,94.7 1319.4,86.0 1316.0,81.1 1312.6,74.0 1309.2,67.5 1305.7,59.8 1302.3,53.4 1298.9,40.1 1295.5,25.7" fill="#e41a1c" fill-opacity="0.2"/>
<polyline points="1295.5,25.7 1298.9,37.3 1302.3,49.1 1305.7,53.6 1309.2,59.6 1312.6,67.7 1316.0,71.5 1319.4,76.2 1322.8,81.9 1326.2,87.6 1329.6,92.3 1333.1,90.6 1336.5,94.1 1339.9,94.0 1343.3,99.7 1346.7,105.4 1350.1,110.0 1353.5,110.6 1357.0,115.1 1360.4,115.2 1363.8,120.0 1367.2,122.9 1370.6,126.9 1374.0,124.3 1377.4,130.0 1380.8,133.5 1384.3,134.5 1387.7,138.7 1391.1,139.0 1394.5,142.4 1397.9,141.6 1401.3,145.0 1404.7,147.7 1408.2,147.8 1411.6,150.3 1415.0,149.5 1418.4,151.3 1421.8,152.3 1425.2,154.4 1428.6,156.4 1432.1,156.6 1435.5,156.1 1438.9,159.3 1442.3,162.0 1445.7,163.4 1449.1,163.4 1452.5,164.0 1456.0,161.6 1459.4,167.1 1462.8,168.9 1466.2,168.1 1469.6,167.6 1473.0,170.5 1476.4,173.5 1479.9,174.8 1483.3,174.9 1486.7,174.5 1490.1,178.6 1493.5,179.1 1496.9,180.3 1500.3,179.7 1503.8,180.7 1507.2,183.3 1510.6,178.6 1514.0,182.1 1517.4,185.2 1520.8,186.8 1524.2,186.7 1527.6,186.7 1531.1,186.8 1534.5,188.4 1537.9,189.5 1541.3,193.6 1544.7,193.7 1548.1,194.1 1551.5,192.6 1555.0,193.0 1558.4,196.6 1561.8,195.2 1565.2,193.6 1568.6,194.3 1572.0,197.9 1575.4,196.3 1578.9,196.9 1582.3,198.0 1585.7,195.7 1589.1,200.6 1592.5,200.5 1595.9,199.4 1599.3,200.2 1602.8,200.9 1606.2,198.7 1609.6,198.7 1613.0,200.1 1616.4,201.0 1619.8,203.9 1623.2,205.4 1626.7,201.5 1630.1,205.1 1633.5,201.9 1636.9,205.3 1640.3,206.2 1643.7,206.8 1647.1,206.0 1650.6,207.8 1654.0,205.1 1657.4,207.1 1660.8,209.1 1664.2,210.8 1667.6,210.1 1671.0,209.9 1674.4,207.4 1677.9,209.9 1681.3,214.1 1684.7,211.5 1688.1,216.3 1691.5,212.5 1694.9,216.9 1698.3,214.9 1701.8,213.5 1705.2,215.5 1708.6,217.3 1712.0,215.2 1715.4,220.0 1718.8,219.9 1722.2,215.9 1725.7,218.8 1729.1,217.9 1732.5,217.1 1735.9,218.8 1739.3,218.9 1742.7,219.4 1746.1,219.3 1749.6,217.9 1753.0,218.6 1756.4,219.9 1759.8,220.0 1763.2,222.9 1766.6,224.3 1770.0,224.4 1773.5,221.2 1776.9,219.9 1780.3,223.5 1783.7,227.6 1787.1,225.7 1790.5,223.6 1793.9,223.9 1797.4,224.3 1800.8,223.0 1804.2,224.0 1807.6,227.7 1811.0,226.1 1814.4,227.4 1817.8,226.0 1821.2,223.8 1824.7,223.0 1828.1,225.6 1831.5,228.5 1834.9,228.6 1838.3,227.8 1841.7,230.1 1845.1,229.0 1848.6,227.5 1852.0,227.4 1855.4,229.5 1858.8,228.6 1862.2,227.2 1865.6,229.8 1869.0,233.4 1872.5,230.9 1875.9,230.5 1879.3,231.8 1882.7,232.1 1886.1,233.8 1889.5,230.0 1892.9,231.1 1896.4,233.1 1899.8,232.3 1903.2,232.8 1906.6,235.7 1910.0,239.7 1913.4,239.0 1916.8,231.6 1920.3,235.3 1923.7,235.0 1927.1,233.6 1930.5,234.6 1933.9,233.2 1937.3,236.1 1940.7,235.5 1944.2,238.8 1947.6,235.0 1951.0,234.2 1954.4,235.1 1957.8,235.5 1961.2,235.6 1964.6,234.7 1968.0,235.2 1971.5,238.1 1974.9,235.8" fill="none" stroke="#e41a1c" stroke-width="2.45" stroke-linejoin="round"/>
<polygon points="1295.5,25.7 1298.9,48.1 1302.3,63.0 1305.7,73.7 1309.2,81.8 1312.6,89.1 1316.0,94.9 1319.4,100.3 1322.8,104.4 1326.2,106.5 1329.6,111.7 1333.1,115.9 1336.5,120.6 1339.9,123.9 1343.3,127.7 1346.7,130.1 1350.1,133.3 1353.5,135.9 1357.0,138.7 1360.4,143.0 1363.8,145.4 1367.2,149.1 1370.6,152.3 1374.0,155.9 1377.4,158.5 1380.8,160.2 1384.3,163.1 1387.7,166.3 1391.1,168.1 1394.5,170.0 1397.9,172.0 1401.3,173.4 1404.7,175.7 1408.2,177.6 1411.6,180.2 1415.0,181.8 1418.4,184.9 1421.8,186.4 1425.2,189.3 1428.6,191.8 1432.1,194.3 1435.5,195.7 1438.9,198.0 1442.3,201.0 1445.7,202.5 1449.1,205.4 1452.5,208.2 1456.0,209.8 1459.4,213.2 1462.8,215.3 1466.2,217.5 1469.6,219.5 1473.0,220.2 1476.4,222.7 1479.9,224.5 1483.3,226.3 1486.7,228.0 1490.1,230.3 1493.5,231.4 1496.9,234.1 1500.3,236.0 1503.8,237.0 1507.2,238.2 1510.6,239.4 1514.0,241.3 1517.4,242.4 1520.8,242.9 1524.2,244.2 1527.6,246.6 1531.1,248.1 1534.5,249.5 1537.9,251.8 1541.3,252.0 1544.7,253.8 1548.1,255.8 1551.5,256.9 1555.0,258.0 1558.4,258.9 1561.8,261.5 1565.2,263.5 1568.6,263.9 1572.0,265.0 1575.4,266.8 1578.9,268.9 1582.3,269.6 1585.7,271.5 1589.1,272.3 1592.5,273.2 1595.9,273.5 1599.3,275.0 1602.8,274.7 1606.2,275.7 1609.6,275.4 1613.0,276.8 1616.4,277.7 1619.8,279.3 1623.2,279.1 1626.7,280.1 1630.1,280.3 1633.5,281.7 1636.9,283.2 1640.3,283.2 1643.7,284.5 1647.1,286.0 1650.6,287.4 1654.0,287.9 1657.4,290.1 1660.8,291.4 1664.2,292.7 1667.6,293.2 1671.0,294.1 1674.4,296.1 1677.9,297.3 1681.3,297.5 1684.7,299.3 1688.1,299.5 1691.5,301.0 1694.9,300.7 1698.3,301.8 1701.8,303.1 1705.2,303.6 1708.6,304.0 1712.0,304.1 1715.4,304.6 1718.8,305.6 1722.2,306.3 1725.7,307.0 1729.1,308.3 1732.5,309.0 1735.9,308.7 1739.3,310.8 1742.7,312.4 1746.1,313.0 1749.6,313.9 1753.0,314.0 1756.4,315.0 1759.8,315.5 1763.2,315.1 1766.6,317.2 1770.0,318.0 1773.5,318.2 1776.9,318.6 1780.3,318.9 1783.7,319.4 1787.1,320.9 1790.5,321.7 1793.9,321.9 1797.4,322.7 1800.8,323.1 1804.2,323.7 1807.6,324.4 1811.0,325.1 1814.4,325.9 1817.8,327.1 1821.2,326.1 1824.7,327.7 1828.1,328.4 1831.5,328.9 1834.9,330.2 1838.3,330.4 1841.7,330.3 1845.1,331.0 1848.6,332.6 1852.0,333.2 1855.4,332.1 1858.8,332.9 1862.2,334.4 1865.6,334.8 1869.0,335.2 1872.5,335.7 1875.9,336.1 1879.3,336.6 1882.7,336.8 1886.1,337.7 1889.5,338.3 1892.9,338.9 1896.4,339.7 1899.8,339.0 1903.2,339.9 1906.6,340.8 1910.0,341.5 1913.4,341.6 1916.8,342.2 1920.3,343.0 1923.7,342.9 1927.1,343.9 1930.5,344.3 1933.9,344.4 1937.3,345.7 1940.7,344.6 1944.2,346.6 1947.6,346.4 1951.0,347.5 1954.4,348.1 1957.8,348.6 1961.2,349.5 1964.6,349.2 1968.0,349.2 1971.5,350.3 1974.9,350.4 1974.9,425.2 1971.5,425.2 1968.0,424.5 1964.6,425.7 1961.2,425.7 1957.8,424.8 1954.4,424.0 1951.0,424.8 1947.6,423.9 1944.2,424.0 1940.7,423.7 1937.3,423.7 1933.9,423.9 1930.5,424.0 1927.1,423.5 1923.7,423.4 1920.3,423.8 1916.8,423.6 1913.4,422.5 1910.0,422.3 1906.6,421.7 1903.2,422.5 1899.8,422.8 1896.4,422.0 1892.9,422.2 1889.5,421.8 1886.1,421.1 1882.7,421.5 1879.3,420.4 1875.9,420.5 1872.5,421.1 1869.0,420.3 1865.6,419.4 1862.2,420.8 1858.8,418.8 1855.4,418.8 1852.0,418.6 1848.6,417.9 1845.1,418.9 1841.7,417.7 1838.3,417.4 1834.9,416.7 1831.5,417.2 1828.1,416.7 1824.7,416.4 1821.2,415.5 1817.8,415.5 1814.4,414.4 1811.0,414.3 1807.6,413.7 1804.2,413.9 1800.8,412.2 1797.4,412.2 1793.9,412.8 1790.5,411.8 1787.1,411.6 1783.7,411.0 1780.3,409.5 1776.9,409.5 1773.5,409.2 1770.0,409.5 1766.6,408.3 1763.2,407.9 1759.8,407.8 1756.4,406.9 1753.0,406.1 1749.6,406.4 1746.1,405.8 1742.7,405.2 1739.3,403.5 1735.9,403.5 1732.5,402.9 1729.1,402.0 1725.7,401.1 1722.2,400.8 1718.8,399.8 1715.4,400.5 1712.0,400.0 1708.6,399.3 1705.2,398.8 1701.8,398.2 1698.3,397.9 1694.9,396.6 1691.5,398.5 1688.1,397.3 1684.7,396.8 1681.3,395.9 1677.9,396.1 1674.4,394.4 1671.0,393.8 1667.6,393.4 1664.2,392.2 1660.8,391.6 1657.4,390.7 1654.0,390.7 1650.6,389.2 1647.1,387.9 1643.7,387.1 1640.3,385.6 1636.9,385.3 1633.5,385.2 1630.1,384.0 1626.7,383.0 1623.2,383.0 1619.8,383.8 1616.4,383.1 1613.0,381.4 1609.6,381.3 1606.2,381.5 1602.8,381.2 1599.3,380.7 1595.9,379.9 1592.5,379.6 1589.1,379.5 1585.7,378.2 1582.3,377.3 1578.9,375.8 1575.4,374.9 1572.0,374.1 1568.6,372.2 1565.2,371.4 1561.8,369.7 1558.4,369.4 1555.0,367.0 1551.5,367.0 1548.1,364.7 1544.7,363.6 1541.3,361.9 1537.9,360.6 1534.5,359.1 1531.1,358.0 1527.6,357.4 1524.2,356.1 1520.8,354.2 1517.4,352.9 1514.0,352.5 1510.6,350.3 1507.2,349.7 1503.8,348.1 1500.3,346.5 1496.9,345.0 1493.5,343.3 1490.1,342.4 1486.7,338.6 1483.3,336.7 1479.9,334.8 1476.4,333.0 1473.0,330.8 1469.6,329.3 1466.2,327.1 1462.8,324.7 1459.4,321.4 1456.0,318.7 1452.5,315.1 1449.1,312.4 1445.7,310.0 1442.3,307.5 1438.9,304.8 1435.5,301.1 1432.1,298.3 1428.6,296.3 1425.2,292.1 1421.8,288.6 1418.4,285.2 1415.0,280.3 1411.6,276.9 1408.2,273.2 1404.7,270.1 1401.3,266.9 1397.9,263.3 1394.5,258.9 1391.1,255.0 1387.7,249.9 1384.3,245.4 1380.8,241.0 1377.4,236.2 1374.0,233.0 1370.6,227.0 1367.2,222.3 1363.8,217.4 1360.4,212.9 1357.0,207.9 1353.5,202.6 1350.1,195.1 1346.7,187.4 1343.3,180.7 1339.9,172.4 1336.5,164.4 1333.1,155.2 1329.6,146.2 1326.2,135.9 1322.8,125.9 1319.4,115.3 1316.0,106.1 1312.6,97.1 1309.2,87.3 1305.7,77.3 1302.3,65.3 1298.9,49.5 1295.5,25.7" fill="#000000" fill-opacity="0.2"/>
<polyline points="1295.5,25.7 1298.9,48.7 1302.3,64.0 1305.7,75.5 1309.2,84.8 1312.6,93.1 1316.0,100.9 1319.4,108.1 1322.8,115.3 1326.2,121.5 1329.6,128.9 1333.1,135.8 1336.5,142.0 1339.9,148.1 1343.3,153.8 1346.7,158.9 1350.1,163.8 1353.5,168.7 1357.0,173.2 1360.4,177.9 1363.8,182.2 1367.2,185.9 1370.6,190.1 1374.0,194.2 1377.4,197.8 1380.8,201.0 1384.3,204.3 1387.7,208.3 1391.1,211.6 1394.5,214.4 1397.9,217.6 1401.3,220.1 1404.7,222.5 1408.2,225.3 1411.6,228.3 1415.0,231.3 1418.4,234.9 1421.8,237.2 1425.2,240.6 1428.6,243.8 1432.1,246.1 1435.5,248.4 1438.9,251.2 1442.3,253.9 1445.7,256.4 1449.1,259.2 1452.5,261.7 1456.0,264.6 1459.4,267.3 1462.8,269.6 1466.2,272.2 1469.6,274.4 1473.0,275.8 1476.4,277.5 1479.9,279.6 1483.3,281.7 1486.7,283.6 1490.1,286.1 1493.5,287.4 1496.9,289.2 1500.3,291.4 1503.8,292.5 1507.2,293.9 1510.6,294.9 1514.0,296.7 1517.4,297.8 1520.8,298.5 1524.2,299.9 1527.6,302.1 1531.1,303.2 1534.5,304.4 1537.9,305.9 1541.3,306.9 1544.7,308.9 1548.1,310.0 1551.5,311.5 1555.0,312.3 1558.4,313.9 1561.8,315.6 1565.2,317.2 1568.6,317.9 1572.0,319.4 1575.4,320.9 1578.9,322.2 1582.3,323.6 1585.7,324.9 1589.1,325.8 1592.5,326.4 1595.9,326.5 1599.3,327.7 1602.8,328.1 1606.2,328.5 1609.6,328.9 1613.0,329.5 1616.4,330.7 1619.8,331.4 1623.2,331.5 1626.7,331.7 1630.1,332.5 1633.5,333.4 1636.9,334.3 1640.3,335.0 1643.7,336.0 1647.1,336.8 1650.6,338.3 1654.0,339.3 1657.4,340.5 1660.8,341.5 1664.2,342.6 1667.6,343.0 1671.0,344.1 1674.4,345.2 1677.9,346.8 1681.3,347.2 1684.7,347.7 1688.1,348.2 1691.5,349.3 1694.9,349.0 1698.3,349.4 1701.8,350.6 1705.2,351.2 1708.6,351.7 1712.0,351.9 1715.4,352.2 1718.8,352.6 1722.2,353.8 1725.7,354.4 1729.1,355.2 1732.5,355.6 1735.9,356.5 1739.3,357.3 1742.7,358.7 1746.1,359.3 1749.6,360.0 1753.0,360.1 1756.4,360.9 1759.8,361.9 1763.2,362.5 1766.6,362.9 1770.0,363.7 1773.5,364.3 1776.9,364.3 1780.3,364.3 1783.7,365.5 1787.1,366.3 1790.5,367.0 1793.9,367.4 1797.4,367.4 1800.8,367.7 1804.2,368.4 1807.6,368.9 1811.0,369.5 1814.4,370.2 1817.8,371.1 1821.2,371.4 1824.7,371.8 1828.1,372.5 1831.5,373.0 1834.9,373.6 1838.3,373.9 1841.7,374.1 1845.1,374.8 1848.6,375.2 1852.0,375.4 1855.4,375.8 1858.8,376.2 1862.2,377.5 1865.6,377.4 1869.0,377.9 1872.5,378.2 1875.9,378.4 1879.3,378.6 1882.7,379.1 1886.1,379.6 1889.5,379.7 1892.9,380.6 1896.4,380.9 1899.8,381.1 1903.2,381.6 1906.6,381.2 1910.0,381.6 1913.4,381.8 1916.8,382.7 1920.3,383.3 1923.7,383.4 1927.1,383.6 1930.5,384.2 1933.9,384.3 1937.3,384.6 1940.7,384.6 1944.2,385.3 1947.6,385.4 1951.0,386.1 1954.4,386.6 1957.8,386.8 1961.2,387.1 1964.6,387.0 1968.0,387.0 1971.5,387.5 1974.9,387.7" fill="none" stroke="#000000" stroke-width="3.3" stroke-linejoin="round"/><polygon points="1295.5,496.7 1298.9,491.1 1302.3,501.7 1305.7,496.5 1309.2,498.4 1312.6,501.3 1316.0,499.3 1319.4,502.6 1322.8,505.4 1326.2,494.3 1329.6,493.0 1333.1,499.1 1336.5,505.8 1339.9,502.2 1343.3,488.7 1346.7,494.9 1350.1,492.1 1353.5,494.9 1357.0,500.8 1360.4,495.7 1363.8,500.5 1367.2,499.4 1370.6,502.5 1374.0,502.4 1377.4,502.4 1380.8,496.7 1384.3,504.0 1387.7,498.9 1391.1,501.4 1394.5,502.8 1397.9,505.4 1401.3,508.0 1404.7,502.7 1408.2,498.8 1411.6,503.6 1415.0,503.8 1418.4,501.3 1421.8,507.6 1425.2,505.2 1428.6,506.3 1432.1,504.5 1435.5,500.9 1438.9,504.8 1442.3,502.5 1445.7,506.3 1449.1,506.7 1452.5,509.3 1456.0,506.0 1459.4,505.5 1462.8,505.6 1466.2,506.9 1469.6,503.1 1473.0,502.6 1476.4,507.5 1479.9,504.6 1483.3,509.1 1486.7,508.8 1490.1,507.3 1493.5,508.2 1496.9,511.8 1500.3,510.0 1503.8,508.3 1507.2,512.6 1510.6,513.1 1514.0,505.4 1517.4,505.9 1520.8,508.1 1524.2,512.7 1527.6,508.2 1531.1,510.2 1534.5,509.9 1537.9,515.9 1541.3,511.2 1544.7,508.7 1548.1,508.7 1551.5,508.5 1555.0,508.4 1558.4,508.0 1561.8,511.2 1565.2,513.6 1568.6,509.8 1572.0,509.4 1575.4,503.5 1578.9,510.5 1582.3,508.4 1585.7,505.8 1589.1,509.5 1592.5,508.6 1595.9,511.0 1599.3,509.0 1602.8,513.2 1606.2,510.1 1609.6,511.7 1613.0,514.0 1616.4,514.0 1619.8,514.9 1623.2,518.1 1626.7,515.4 1630.1,516.0 1633.5,514.4 1636.9,515.0 1640.3,516.3 1643.7,516.5 1647.1,514.3 1650.6,517.8 1654.0,523.0 1657.4,519.8 1660.8,517.3 1664.2,516.2 1667.6,511.1 1671.0,516.4 1674.4,517.3 1677.9,515.6 1681.3,514.8 1684.7,517.2 1688.1,515.0 1691.5,510.6 1694.9,516.1 1698.3,517.6 1701.8,520.0 1705.2,517.2 1708.6,517.0 1712.0,518.0 1715.4,519.0 1718.8,510.6 1722.2,511.9 1725.7,512.6 1729.1,516.8 1732.5,518.3 1735.9,520.9 1739.3,520.0 1742.7,517.1 1746.1,518.9 1749.6,516.8 1753.0,522.3 1756.4,521.5 1759.8,522.8 1763.2,520.4 1766.6,514.3 1770.0,519.5 1773.5,518.7 1776.9,519.2 1780.3,522.7 1783.7,519.8 1787.1,515.7 1790.5,514.6 1793.9,523.8 1797.4,525.9 1800.8,524.6 1804.2,520.1 1807.6,521.0 1811.0,522.3 1814.4,522.0 1817.8,523.4 1821.2,519.5 1824.7,520.6 1828.1,512.9 1831.5,523.2 1834.9,522.1 1838.3,525.0 1841.7,522.1 1845.1,526.1 1848.6,525.4 1852.0,526.8 1855.4,525.8 1858.8,522.5 1862.2,523.1 1865.6,526.2 1869.0,524.7 1872.5,524.3 1875.9,521.6 1879.3,527.2 1882.7,529.7 1886.1,528.5 1889.5,524.9 1892.9,524.2 1896.4,523.7 1899.8,530.3 1903.2,532.1 1906.6,530.2 1910.0,528.7 1913.4,523.0 1916.8,526.3 1920.3,528.4 1923.7,528.0 1927.1,529.6 1930.5,527.1 1933.9,530.2 1937.3,532.4 1940.7,533.4 1944.2,527.5 1947.6,527.0 1951.0,527.5 1954.4,531.0 1957.8,529.4 1961.2,529.5 1964.6,528.5 1968.0,527.4 1971.5,527.1 1974.9,528.6 1974.9,579.4 1971.5,584.6 1968.0,580.1 1964.6,577.7 1961.2,579.7 1957.8,581.8 1954.4,585.7 1951.0,578.6 1947.6,572.4 1944.2,574.7 1940.7,577.9 1937.3,583.7 1933.9,576.5 1930.5,575.7 1927.1,579.3 1923.7,575.9 1920.3,578.6 1916.8,573.5 1913.4,575.7 1910.0,578.8 1906.6,575.9 1903.2,577.2 1899.8,580.3 1896.4,573.8 1892.9,569.4 1889.5,567.9 1886.1,578.9 1882.7,570.4 1879.3,572.1 1875.9,570.6 1872.5,568.5 1869.0,569.5 1865.6,573.2 1862.2,571.5 1858.8,566.9 1855.4,566.3 1852.0,571.6 1848.6,573.3 1845.1,570.8 1841.7,566.5 1838.3,564.7 1834.9,568.1 1831.5,569.7 1828.1,563.9 1824.7,567.6 1821.2,563.2 1817.8,565.7 1814.4,570.1 1811.0,567.9 1807.6,565.4 1804.2,570.6 1800.8,569.2 1797.4,570.0 1793.9,565.7 1790.5,567.5 1787.1,563.4 1783.7,568.0 1780.3,565.5 1776.9,560.1 1773.5,564.3 1770.0,563.5 1766.6,562.9 1763.2,564.8 1759.8,567.4 1756.4,564.3 1753.0,563.9 1749.6,562.5 1746.1,563.6 1742.7,562.1 1739.3,562.6 1735.9,567.2 1732.5,563.1 1729.1,554.3 1725.7,552.9 1722.2,553.0 1718.8,553.1 1715.4,555.7 1712.0,557.5 1708.6,559.5 1705.2,560.1 1701.8,555.8 1698.3,556.1 1694.9,555.7 1691.5,550.5 1688.1,552.4 1684.7,551.1 1681.3,553.0 1677.9,552.1 1674.4,552.4 1671.0,549.6 1667.6,545.8 1664.2,544.7 1660.8,546.6 1657.4,554.6 1654.0,554.9 1650.6,551.1 1647.1,552.7 1643.7,548.7 1640.3,548.4 1636.9,552.7 1633.5,546.8 1630.1,544.5 1626.7,545.0 1623.2,549.1 1619.8,544.5 1616.4,539.4 1613.0,547.3 1609.6,544.2 1606.2,543.0 1602.8,548.9 1599.3,544.3 1595.9,539.2 1592.5,535.7 1589.1,538.3 1585.7,543.5 1582.3,536.8 1578.9,536.0 1575.4,535.8 1572.0,540.3 1568.6,541.7 1565.2,541.1 1561.8,542.0 1558.4,534.0 1555.0,534.0 1551.5,539.9 1548.1,540.5 1544.7,536.0 1541.3,538.6 1537.9,539.5 1534.5,541.1 1531.1,537.4 1527.6,543.5 1524.2,537.8 1520.8,539.7 1517.4,534.0 1514.0,533.4 1510.6,537.9 1507.2,539.6 1503.8,537.3 1500.3,540.0 1496.9,534.5 1493.5,532.5 1490.1,533.0 1486.7,535.8 1483.3,536.0 1479.9,530.7 1476.4,535.1 1473.0,530.3 1469.6,527.4 1466.2,531.8 1462.8,527.3 1459.4,528.3 1456.0,531.2 1452.5,535.1 1449.1,530.3 1445.7,529.9 1442.3,526.3 1438.9,524.6 1435.5,524.0 1432.1,525.9 1428.6,523.2 1425.2,527.6 1421.8,524.1 1418.4,526.7 1415.0,529.9 1411.6,525.0 1408.2,524.3 1404.7,525.0 1401.3,528.9 1397.9,517.9 1394.5,518.0 1391.1,525.1 1387.7,516.3 1384.3,516.7 1380.8,515.6 1377.4,520.2 1374.0,519.6 1370.6,520.0 1367.2,518.2 1363.8,515.9 1360.4,516.2 1357.0,516.4 1353.5,513.8 1350.1,510.6 1346.7,511.9 1343.3,513.8 1339.9,517.2 1336.5,518.4 1333.1,512.0 1329.6,509.8 1326.2,514.8 1322.8,509.9 1319.4,515.1 1316.0,514.9 1312.6,512.0 1309.2,510.6 1305.7,504.1 1302.3,514.1 1298.9,502.6 1295.5,498.3" fill="#377eb8" fill-opacity="0.2"/>
<polyline points="1295.5,497.5 1298.9,498.8 1302.3,506.0 1305.7,501.3 1309.2,504.1 1312.6,506.8 1316.0,507.6 1319.4,508.1 1322.8,506.2 1326.2,503.9 1329.6,504.3 1333.1,505.8 1336.5,511.2 1339.9,510.9 1343.3,504.6 1346.7,504.0 1350.1,502.4 1353.5,505.4 1357.0,509.9 1360.4,506.5 1363.8,507.3 1367.2,509.3 1370.6,511.7 1374.0,510.7 1377.4,510.4 1380.8,508.9 1384.3,509.7 1387.7,508.4 1391.1,512.6 1394.5,511.4 1397.9,511.8 1401.3,515.3 1404.7,516.0 1408.2,511.9 1411.6,512.6 1415.0,514.3 1418.4,514.3 1421.8,516.2 1425.2,515.4 1428.6,516.6 1432.1,515.2 1435.5,513.9 1438.9,516.1 1442.3,515.2 1445.7,518.7 1449.1,518.7 1452.5,520.3 1456.0,518.2 1459.4,517.6 1462.8,518.4 1466.2,518.2 1469.6,515.0 1473.0,515.7 1476.4,520.6 1479.9,518.5 1483.3,523.6 1486.7,523.0 1490.1,521.5 1493.5,521.5 1496.9,524.2 1500.3,524.0 1503.8,522.8 1507.2,524.3 1510.6,524.2 1514.0,521.4 1517.4,520.8 1520.8,523.0 1524.2,523.4 1527.6,523.7 1531.1,524.8 1534.5,525.4 1537.9,525.8 1541.3,522.8 1544.7,523.7 1548.1,524.2 1551.5,523.4 1555.0,522.3 1558.4,521.1 1561.8,524.7 1565.2,525.7 1568.6,525.2 1572.0,526.4 1575.4,522.6 1578.9,522.7 1582.3,524.1 1585.7,525.8 1589.1,524.4 1592.5,523.9 1595.9,525.6 1599.3,528.6 1602.8,531.1 1606.2,526.9 1609.6,529.0 1613.0,530.2 1616.4,527.1 1619.8,528.7 1623.2,532.5 1626.7,530.8 1630.1,530.2 1633.5,529.2 1636.9,534.5 1640.3,532.7 1643.7,530.9 1647.1,528.9 1650.6,534.8 1654.0,539.6 1657.4,536.6 1660.8,532.1 1664.2,529.9 1667.6,528.5 1671.0,531.9 1674.4,534.6 1677.9,532.2 1681.3,533.7 1684.7,534.7 1688.1,534.0 1691.5,532.4 1694.9,537.0 1698.3,538.1 1701.8,536.3 1705.2,536.5 1708.6,538.4 1712.0,538.6 1715.4,535.7 1718.8,533.5 1722.2,534.7 1725.7,535.0 1729.1,535.7 1732.5,542.6 1735.9,543.0 1739.3,541.5 1742.7,542.3 1746.1,541.9 1749.6,540.3 1753.0,542.7 1756.4,542.5 1759.8,545.4 1763.2,542.9 1766.6,538.5 1770.0,541.3 1773.5,540.4 1776.9,540.0 1780.3,542.2 1783.7,540.9 1787.1,541.2 1790.5,541.2 1793.9,544.5 1797.4,547.0 1800.8,546.5 1804.2,545.0 1807.6,543.0 1811.0,544.4 1814.4,545.4 1817.8,544.6 1821.2,542.8 1824.7,545.1 1828.1,542.9 1831.5,547.9 1834.9,547.3 1838.3,544.2 1841.7,545.2 1845.1,548.3 1848.6,547.9 1852.0,548.3 1855.4,545.5 1858.8,546.3 1862.2,549.0 1865.6,547.7 1869.0,549.0 1872.5,548.9 1875.9,549.0 1879.3,550.1 1882.7,548.4 1886.1,548.1 1889.5,548.1 1892.9,547.5 1896.4,551.0 1899.8,554.1 1903.2,552.4 1906.6,550.8 1910.0,550.8 1913.4,549.8 1916.8,549.7 1920.3,551.8 1923.7,552.9 1927.1,554.1 1930.5,550.9 1933.9,553.5 1937.3,556.1 1940.7,556.5 1944.2,554.2 1947.6,550.2 1951.0,552.4 1954.4,557.6 1957.8,555.4 1961.2,553.8 1964.6,553.2 1968.0,554.4 1971.5,556.4 1974.9,555.0" fill="none" stroke="#377eb8" stroke-width="2.45" stroke-linejoin="round"/>
<polygon points="1295.5,496.7 1298.9,493.2 1302.3,507.7 1305.7,511.4 1309.2,510.0 1312.6,512.3 1316.0,517.5 1319.4,516.7 1322.8,514.3 1326.2,523.0 1329.6,534.0 1333.1,530.7 1336.5,544.6 1339.9,530.2 1343.3,544.5 1346.7,544.4 1350.1,542.1 1353.5,541.8 1357.0,542.8 1360.4,544.1 1363.8,550.4 1367.2,549.8 1370.6,556.3 1374.0,558.7 1377.4,560.3 1380.8,558.1 1384.3,556.2 1387.7,563.3 1391.1,557.2 1394.5,557.1 1397.9,566.2 1401.3,573.5 1404.7,568.8 1408.2,566.4 1411.6,564.8 1415.0,574.0 1418.4,566.9 1421.8,574.5 1425.2,570.5 1428.6,578.6 1432.1,568.4 1435.5,574.0 1438.9,576.2 1442.3,579.8 1445.7,574.6 1449.1,564.5 1452.5,573.3 1456.0,580.4 1459.4,576.6 1462.8,584.4 1466.2,575.3 1469.6,577.1 1473.0,583.2 1476.4,591.1 1479.9,594.5 1483.3,586.2 1486.7,589.1 1490.1,585.9 1493.5,585.4 1496.9,583.4 1500.3,577.1 1503.8,585.2 1507.2,588.7 1510.6,590.7 1514.0,579.4 1517.4,580.9 1520.8,575.2 1524.2,588.5 1527.6,594.2 1531.1,595.5 1534.5,608.9 1537.9,597.8 1541.3,597.1 1544.7,606.6 1548.1,599.1 1551.5,597.9 1555.0,596.0 1558.4,593.4 1561.8,597.7 1565.2,597.9 1568.6,590.1 1572.0,602.4 1575.4,594.5 1578.9,598.1 1582.3,600.7 1585.7,604.6 1589.1,592.7 1592.5,599.5 1595.9,593.8 1599.3,600.0 1602.8,593.2 1606.2,595.9 1609.6,603.8 1613.0,603.5 1616.4,604.7 1619.8,605.9 1623.2,602.2 1626.7,611.2 1630.1,605.5 1633.5,600.8 1636.9,609.3 1640.3,609.1 1643.7,604.4 1647.1,596.3 1650.6,594.4 1654.0,610.0 1657.4,616.0 1660.8,603.3 1664.2,606.8 1667.6,607.6 1671.0,615.8 1674.4,622.3 1677.9,612.1 1681.3,599.1 1684.7,598.6 1688.1,605.5 1691.5,608.9 1694.9,614.9 1698.3,617.6 1701.8,608.7 1705.2,604.2 1708.6,609.8 1712.0,615.5 1715.4,610.1 1718.8,613.9 1722.2,614.0 1725.7,615.9 1729.1,619.7 1732.5,614.2 1735.9,610.1 1739.3,615.3 1742.7,601.2 1746.1,614.9 1749.6,615.4 1753.0,603.3 1756.4,618.1 1759.8,616.2 1763.2,619.4 1766.6,615.5 1770.0,620.7 1773.5,620.9 1776.9,621.5 1780.3,621.0 1783.7,612.8 1787.1,615.2 1790.5,624.3 1793.9,616.1 1797.4,609.6 1800.8,615.8 1804.2,607.7 1807.6,609.9 1811.0,617.1 1814.4,620.8 1817.8,612.9 1821.2,616.7 1824.7,613.0 1828.1,611.6 1831.5,619.9 1834.9,611.8 1838.3,609.1 1841.7,608.7 1845.1,619.3 1848.6,622.6 1852.0,617.9 1855.4,612.9 1858.8,623.3 1862.2,623.0 1865.6,619.9 1869.0,617.2 1872.5,615.6 1875.9,612.6 1879.3,622.3 1882.7,624.3 1886.1,620.3 1889.5,606.1 1892.9,610.8 1896.4,606.7 1899.8,614.3 1903.2,619.7 1906.6,607.9 1910.0,611.9 1913.4,611.5 1916.8,614.9 1920.3,610.2 1923.7,610.9 1927.1,612.0 1930.5,609.6 1933.9,617.4 1937.3,607.5 1940.7,616.2 1944.2,621.6 1947.6,601.7 1951.0,602.8 1954.4,605.5 1957.8,615.0 1961.2,617.5 1964.6,615.2 1968.0,609.3 1971.5,620.9 1974.9,615.5 1974.9,712.0 1971.5,714.6 1968.0,702.2 1964.6,709.4 1961.2,700.2 1957.8,700.6 1954.4,697.1 1951.0,691.4 1947.6,701.0 1944.2,700.7 1940.7,708.0 1937.3,698.9 1933.9,699.4 1930.5,687.8 1927.1,699.6 1923.7,696.3 1920.3,695.5 1916.8,693.6 1913.4,689.4 1910.0,688.9 1906.6,695.5 1903.2,691.9 1899.8,690.5 1896.4,691.8 1892.9,679.1 1889.5,685.7 1886.1,689.8 1882.7,694.8 1879.3,683.2 1875.9,687.7 1872.5,691.8 1869.0,695.2 1865.6,699.6 1862.2,692.5 1858.8,691.8 1855.4,694.5 1852.0,703.1 1848.6,687.9 1845.1,682.5 1841.7,683.1 1838.3,683.1 1834.9,686.3 1831.5,688.8 1828.1,684.8 1824.7,689.9 1821.2,688.4 1817.8,688.4 1814.4,681.1 1811.0,681.5 1807.6,686.4 1804.2,685.9 1800.8,686.4 1797.4,687.6 1793.9,684.8 1790.5,686.5 1787.1,680.9 1783.7,681.4 1780.3,687.4 1776.9,684.4 1773.5,688.0 1770.0,688.1 1766.6,688.5 1763.2,677.2 1759.8,672.4 1756.4,684.5 1753.0,680.8 1749.6,685.4 1746.1,678.9 1742.7,679.5 1739.3,685.6 1735.9,680.0 1732.5,678.5 1729.1,682.0 1725.7,679.5 1722.2,681.2 1718.8,672.3 1715.4,685.2 1712.0,673.8 1708.6,677.2 1705.2,668.0 1701.8,678.9 1698.3,682.4 1694.9,676.6 1691.5,667.3 1688.1,667.1 1684.7,667.2 1681.3,666.7 1677.9,671.0 1674.4,676.1 1671.0,676.2 1667.6,680.6 1664.2,675.7 1660.8,665.8 1657.4,670.1 1654.0,676.0 1650.6,666.8 1647.1,666.2 1643.7,663.8 1640.3,674.6 1636.9,676.1 1633.5,673.0 1630.1,670.2 1626.7,671.3 1623.2,676.8 1619.8,664.6 1616.4,668.1 1613.0,657.8 1609.6,659.7 1606.2,665.3 1602.8,656.6 1599.3,667.7 1595.9,655.7 1592.5,650.3 1589.1,660.2 1585.7,655.7 1582.3,652.3 1578.9,655.5 1575.4,655.0 1572.0,662.1 1568.6,657.8 1565.2,660.5 1561.8,664.3 1558.4,661.4 1555.0,655.1 1551.5,653.4 1548.1,666.7 1544.7,655.9 1541.3,647.0 1537.9,661.3 1534.5,662.0 1531.1,658.1 1527.6,654.7 1524.2,651.4 1520.8,644.0 1517.4,638.9 1514.0,639.2 1510.6,652.7 1507.2,642.9 1503.8,640.9 1500.3,647.0 1496.9,637.3 1493.5,637.8 1490.1,634.0 1486.7,641.5 1483.3,635.3 1479.9,648.7 1476.4,647.4 1473.0,644.4 1469.6,637.9 1466.2,639.5 1462.8,642.2 1459.4,628.7 1456.0,627.2 1452.5,631.5 1449.1,620.3 1445.7,621.0 1442.3,626.8 1438.9,631.1 1435.5,621.2 1432.1,632.9 1428.6,625.0 1425.2,624.2 1421.8,616.4 1418.4,621.5 1415.0,620.6 1411.6,615.4 1408.2,602.9 1404.7,617.7 1401.3,614.5 1397.9,611.2 1394.5,599.9 1391.1,603.2 1387.7,603.1 1384.3,593.9 1380.8,597.0 1377.4,599.0 1374.0,601.6 1370.6,587.0 1367.2,590.1 1363.8,586.1 1360.4,583.3 1357.0,580.1 1353.5,577.8 1350.1,576.4 1346.7,576.0 1343.3,568.1 1339.9,564.5 1336.5,568.9 1333.1,563.8 1329.6,558.0 1326.2,552.4 1322.8,547.7 1319.4,544.2 1316.0,536.7 1312.6,536.6 1309.2,538.9 1305.7,529.2 1302.3,519.6 1298.9,514.8 1295.5,498.3" fill="#ff7f00" fill-opacity="0.2"/>
<polyline points="1295.5,497.5 1298.9,503.0 1302.3,511.5 1305.7,521.7 1309.2,520.1 1312.6,528.1 1316.0,524.1 1319.4,527.3 1322.8,531.6 1326.2,536.4 1329.6,542.7 1333.1,549.1 1336.5,550.8 1339.9,548.9 1343.3,556.5 1346.7,559.0 1350.1,561.9 1353.5,563.1 1357.0,563.7 1360.4,564.1 1363.8,567.6 1367.2,570.3 1370.6,572.4 1374.0,573.0 1377.4,577.8 1380.8,575.3 1384.3,573.9 1387.7,581.9 1391.1,581.5 1394.5,576.8 1397.9,590.5 1401.3,597.1 1404.7,593.9 1408.2,586.8 1411.6,587.8 1415.0,598.0 1418.4,595.6 1421.8,597.2 1425.2,601.0 1428.6,604.2 1432.1,597.1 1435.5,600.8 1438.9,598.9 1442.3,598.1 1445.7,593.6 1449.1,597.4 1452.5,606.3 1456.0,605.5 1459.4,603.7 1462.8,611.3 1466.2,610.6 1469.6,610.0 1473.0,616.0 1476.4,617.0 1479.9,617.2 1483.3,612.0 1486.7,612.7 1490.1,609.4 1493.5,611.2 1496.9,611.5 1500.3,613.5 1503.8,612.7 1507.2,616.5 1510.6,619.3 1514.0,613.8 1517.4,612.7 1520.8,611.0 1524.2,618.9 1527.6,623.3 1531.1,628.7 1534.5,635.9 1537.9,628.3 1541.3,622.0 1544.7,626.9 1548.1,631.7 1551.5,623.7 1555.0,625.6 1558.4,626.2 1561.8,626.5 1565.2,625.6 1568.6,625.5 1572.0,631.7 1575.4,629.0 1578.9,628.1 1582.3,624.9 1585.7,629.4 1589.1,623.3 1592.5,624.5 1595.9,624.0 1599.3,630.3 1602.8,627.8 1606.2,630.0 1609.6,636.0 1613.0,633.9 1616.4,634.5 1619.8,636.6 1623.2,637.3 1626.7,639.1 1630.1,636.2 1633.5,634.1 1636.9,638.2 1640.3,640.2 1643.7,633.6 1647.1,636.5 1650.6,636.9 1654.0,638.1 1657.4,639.0 1660.8,636.8 1664.2,639.8 1667.6,640.4 1671.0,645.5 1674.4,646.9 1677.9,641.7 1681.3,635.0 1684.7,638.3 1688.1,635.4 1691.5,639.6 1694.9,642.0 1698.3,645.5 1701.8,643.6 1705.2,638.2 1708.6,640.7 1712.0,647.5 1715.4,647.4 1718.8,643.1 1722.2,647.3 1725.7,645.7 1729.1,650.0 1732.5,645.9 1735.9,642.6 1739.3,645.0 1742.7,647.8 1746.1,649.0 1749.6,649.9 1753.0,649.2 1756.4,645.3 1759.8,645.1 1763.2,648.9 1766.6,654.5 1770.0,652.7 1773.5,649.7 1776.9,651.0 1780.3,654.4 1783.7,647.3 1787.1,642.3 1790.5,652.6 1793.9,650.1 1797.4,645.5 1800.8,651.1 1804.2,652.2 1807.6,650.0 1811.0,649.0 1814.4,650.9 1817.8,649.2 1821.2,655.9 1824.7,649.8 1828.1,649.2 1831.5,650.8 1834.9,649.7 1838.3,649.5 1841.7,646.9 1845.1,651.6 1848.6,652.6 1852.0,656.6 1855.4,656.1 1858.8,654.0 1862.2,657.2 1865.6,656.3 1869.0,656.8 1872.5,654.1 1875.9,651.0 1879.3,650.0 1882.7,657.8 1886.1,653.6 1889.5,648.5 1892.9,646.2 1896.4,648.0 1899.8,656.9 1903.2,655.4 1906.6,651.1 1910.0,649.7 1913.4,651.9 1916.8,652.7 1920.3,653.8 1923.7,656.7 1927.1,654.2 1930.5,652.4 1933.9,654.9 1937.3,654.0 1940.7,664.7 1944.2,658.1 1947.6,650.4 1951.0,651.6 1954.4,651.6 1957.8,656.7 1961.2,661.9 1964.6,659.5 1968.0,655.1 1971.5,664.4 1974.9,663.6" fill="none" stroke="#ff7f00" stroke-width="2.45" stroke-linejoin="round"/>
<polygon points="1295.5,497.5 1298.9,519.9 1302.3,534.8 1305.7,545.5 1309.2,553.6 1312.6,560.9 1316.0,566.8 1319.4,572.2 1322.8,576.3 1326.2,578.4 1329.6,583.6 1333.1,587.8 1336.5,592.5 1339.9,595.8 1343.3,599.6 1346.7,602.0 1350.1,605.2 1353.5,607.8 1357.0,610.6 1360.4,614.9 1363.8,617.3 1367.2,621.0 1370.6,624.2 1374.0,627.8 1377.4,630.4 1380.8,632.1 1384.3,635.1 1387.7,638.2 1391.1,640.1 1394.5,642.0 1397.9,643.9 1401.3,645.4 1404.7,647.6 1408.2,649.6 1411.6,652.1 1415.0,653.8 1418.4,656.8 1421.8,658.3 1425.2,661.3 1428.6,663.8 1432.1,666.3 1435.5,667.7 1438.9,670.0 1442.3,673.0 1445.7,674.4 1449.1,677.3 1452.5,680.2 1456.0,681.8 1459.4,685.1 1462.8,687.3 1466.2,689.5 1469.6,691.5 1473.0,692.2 1476.4,694.7 1479.9,696.5 1483.3,698.3 1486.7,700.0 1490.1,702.3 1493.5,703.4 1496.9,706.1 1500.3,708.0 1503.8,709.0 1507.2,710.2 1510.6,711.4 1514.0,713.4 1517.4,714.4 1520.8,715.0 1524.2,716.2 1527.6,718.6 1531.1,720.1 1534.5,721.5 1537.9,723.9 1541.3,724.0 1544.7,725.8 1548.1,727.8 1551.5,729.0 1555.0,730.1 1558.4,731.0 1561.8,733.5 1565.2,735.6 1568.6,735.9 1572.0,737.0 1575.4,738.9 1578.9,740.9 1582.3,741.6 1585.7,743.5 1589.1,744.4 1592.5,745.3 1595.9,745.5 1599.3,747.1 1602.8,746.7 1606.2,747.8 1609.6,747.5 1613.0,748.8 1616.4,749.8 1619.8,751.4 1623.2,751.1 1626.7,752.1 1630.1,752.4 1633.5,753.8 1636.9,755.3 1640.3,755.2 1643.7,756.6 1647.1,758.1 1650.6,759.5 1654.0,759.9 1657.4,762.1 1660.8,763.5 1664.2,764.8 1667.6,765.3 1671.0,766.1 1674.4,768.2 1677.9,769.4 1681.3,769.5 1684.7,771.4 1688.1,771.5 1691.5,773.1 1694.9,772.7 1698.3,773.9 1701.8,775.2 1705.2,775.7 1708.6,776.1 1712.0,776.2 1715.4,776.6 1718.8,777.7 1722.2,778.4 1725.7,779.0 1729.1,780.3 1732.5,781.1 1735.9,780.8 1739.3,782.8 1742.7,784.5 1746.1,785.1 1749.6,785.9 1753.0,786.1 1756.4,787.1 1759.8,787.6 1763.2,787.2 1766.6,789.3 1770.0,790.1 1773.5,790.3 1776.9,790.7 1780.3,791.0 1783.7,791.5 1787.1,793.0 1790.5,793.8 1793.9,794.0 1797.4,794.8 1800.8,795.2 1804.2,795.8 1807.6,796.5 1811.0,797.2 1814.4,798.0 1817.8,799.2 1821.2,798.2 1824.7,799.8 1828.1,800.5 1831.5,801.0 1834.9,802.3 1838.3,802.5 1841.7,802.4 1845.1,803.1 1848.6,804.7 1852.0,805.3 1855.4,804.2 1858.8,805.0 1862.2,806.5 1865.6,806.9 1869.0,807.3 1872.5,807.9 1875.9,808.2 1879.3,808.7 1882.7,808.9 1886.1,809.8 1889.5,810.4 1892.9,811.0 1896.4,811.8 1899.8,811.1 1903.2,812.0 1906.6,812.9 1910.0,813.6 1913.4,813.7 1916.8,814.3 1920.3,815.1 1923.7,815.0 1927.1,816.0 1930.5,816.4 1933.9,816.6 1937.3,817.8 1940.7,816.8 1944.2,818.7 1947.6,818.5 1951.0,819.6 1954.4,820.2 1957.8,820.7 1961.2,821.6 1964.6,821.3 1968.0,821.3 1971.5,822.4 1974.9,822.5 1974.9,897.4 1971.5,897.4 1968.0,896.7 1964.6,897.9 1961.2,897.8 1957.8,897.0 1954.4,896.1 1951.0,897.0 1947.6,896.1 1944.2,896.2 1940.7,895.9 1937.3,895.9 1933.9,896.1 1930.5,896.2 1927.1,895.7 1923.7,895.6 1920.3,896.0 1916.8,895.8 1913.4,894.7 1910.0,894.5 1906.6,893.9 1903.2,894.7 1899.8,895.0 1896.4,894.2 1892.9,894.4 1889.5,894.0 1886.1,893.3 1882.7,893.7 1879.3,892.6 1875.9,892.7 1872.5,893.2 1869.0,892.4 1865.6,891.6 1862.2,893.0 1858.8,891.0 1855.4,890.9 1852.0,890.8 1848.6,890.1 1845.1,891.1 1841.7,889.9 1838.3,889.6 1834.9,888.9 1831.5,889.4 1828.1,888.9 1824.7,888.6 1821.2,887.7 1817.8,887.6 1814.4,886.5 1811.0,886.5 1807.6,885.8 1804.2,886.0 1800.8,884.4 1797.4,884.4 1793.9,885.0 1790.5,883.9 1787.1,883.8 1783.7,883.1 1780.3,881.7 1776.9,881.6 1773.5,881.4 1770.0,881.7 1766.6,880.5 1763.2,880.1 1759.8,880.0 1756.4,879.1 1753.0,878.2 1749.6,878.6 1746.1,877.9 1742.7,877.3 1739.3,875.6 1735.9,875.6 1732.5,875.1 1729.1,874.1 1725.7,873.3 1722.2,873.0 1718.8,871.9 1715.4,872.7 1712.0,872.2 1708.6,871.5 1705.2,871.0 1701.8,870.4 1698.3,870.1 1694.9,868.7 1691.5,870.7 1688.1,869.4 1684.7,868.9 1681.3,868.1 1677.9,868.3 1674.4,866.6 1671.0,866.0 1667.6,865.5 1664.2,864.3 1660.8,863.8 1657.4,862.8 1654.0,862.9 1650.6,861.3 1647.1,860.0 1643.7,859.2 1640.3,857.7 1636.9,857.5 1633.5,857.3 1630.1,856.1 1626.7,855.1 1623.2,855.1 1619.8,856.0 1616.4,855.3 1613.0,853.6 1609.6,853.5 1606.2,853.7 1602.8,853.4 1599.3,852.9 1595.9,852.0 1592.5,851.7 1589.1,851.7 1585.7,850.4 1582.3,849.5 1578.9,847.9 1575.4,847.0 1572.0,846.3 1568.6,844.4 1565.2,843.5 1561.8,841.9 1558.4,841.6 1555.0,839.1 1551.5,839.2 1548.1,836.9 1544.7,835.8 1541.3,834.0 1537.9,832.7 1534.5,831.3 1531.1,830.2 1527.6,829.6 1524.2,828.3 1520.8,826.3 1517.4,825.1 1514.0,824.6 1510.6,822.4 1507.2,821.8 1503.8,820.3 1500.3,818.6 1496.9,817.1 1493.5,815.4 1490.1,814.5 1486.7,810.7 1483.3,808.8 1479.9,806.9 1476.4,805.1 1473.0,802.9 1469.6,801.4 1466.2,799.2 1462.8,796.8 1459.4,793.5 1456.0,790.8 1452.5,787.2 1449.1,784.5 1445.7,782.1 1442.3,779.6 1438.9,776.9 1435.5,773.1 1432.1,770.4 1428.6,768.3 1425.2,764.2 1421.8,760.7 1418.4,757.3 1415.0,752.4 1411.6,749.0 1408.2,745.3 1404.7,742.2 1401.3,738.9 1397.9,735.3 1394.5,730.9 1391.1,727.1 1387.7,721.9 1384.3,717.4 1380.8,713.0 1377.4,708.2 1374.0,705.0 1370.6,699.0 1367.2,694.2 1363.8,689.4 1360.4,684.9 1357.0,679.9 1353.5,674.6 1350.1,667.1 1346.7,659.4 1343.3,652.6 1339.9,644.3 1336.5,636.4 1333.1,627.1 1329.6,618.1 1326.2,607.8 1322.8,597.8 1319.4,587.1 1316.0,578.0 1312.6,568.9 1309.2,559.2 1305.7,549.1 1302.3,537.2 1298.9,521.3 1295.5,497.5" fill="#000000" fill-opacity="0.2"/>
<polyline points="1295.5,497.5 1298.9,520.5 1302.3,535.8 1305.7,547.4 1309.2,556.7 1312.6,565.0 1316.0,572.8 1319.4,579.9 1322.8,587.2 1326.2,593.4 1329.6,600.8 1333.1,607.7 1336.5,613.9 1339.9,620.0 1343.3,625.7 1346.7,630.8 1350.1,635.7 1353.5,640.7 1357.0,645.1 1360.4,649.9 1363.8,654.1 1367.2,657.8 1370.6,662.0 1374.0,666.2 1377.4,669.7 1380.8,673.0 1384.3,676.2 1387.7,680.3 1391.1,683.6 1394.5,686.4 1397.9,689.6 1401.3,692.1 1404.7,694.5 1408.2,697.3 1411.6,700.3 1415.0,703.3 1418.4,706.9 1421.8,709.2 1425.2,712.6 1428.6,715.9 1432.1,718.1 1435.5,720.5 1438.9,723.3 1442.3,726.0 1445.7,728.4 1449.1,731.2 1452.5,733.8 1456.0,736.7 1459.4,739.4 1462.8,741.6 1466.2,744.2 1469.6,746.4 1473.0,747.9 1476.4,749.6 1479.9,751.7 1483.3,753.7 1486.7,755.6 1490.1,758.2 1493.5,759.4 1496.9,761.3 1500.3,763.4 1503.8,764.6 1507.2,766.0 1510.6,766.9 1514.0,768.8 1517.4,769.8 1520.8,770.6 1524.2,772.0 1527.6,774.2 1531.1,775.3 1534.5,776.5 1537.9,778.0 1541.3,779.0 1544.7,780.9 1548.1,782.1 1551.5,783.6 1555.0,784.4 1558.4,786.0 1561.8,787.6 1565.2,789.3 1568.6,790.0 1572.0,791.5 1575.4,793.0 1578.9,794.3 1582.3,795.7 1585.7,797.0 1589.1,797.9 1592.5,798.4 1595.9,798.6 1599.3,799.8 1602.8,800.2 1606.2,800.6 1609.6,801.0 1613.0,801.6 1616.4,802.8 1619.8,803.5 1623.2,803.6 1626.7,803.8 1630.1,804.6 1633.5,805.5 1636.9,806.4 1640.3,807.1 1643.7,808.1 1647.1,808.9 1650.6,810.4 1654.0,811.4 1657.4,812.6 1660.8,813.7 1664.2,814.7 1667.6,815.2 1671.0,816.2 1674.4,817.3 1677.9,819.0 1681.3,819.4 1684.7,819.9 1688.1,820.3 1691.5,821.4 1694.9,821.1 1698.3,821.6 1701.8,822.8 1705.2,823.3 1708.6,823.8 1712.0,824.1 1715.4,824.4 1718.8,824.7 1722.2,825.9 1725.7,826.5 1729.1,827.3 1732.5,827.7 1735.9,828.6 1739.3,829.4 1742.7,830.8 1746.1,831.5 1749.6,832.2 1753.0,832.3 1756.4,833.1 1759.8,834.0 1763.2,834.6 1766.6,835.0 1770.0,835.9 1773.5,836.4 1776.9,836.4 1780.3,836.4 1783.7,837.6 1787.1,838.4 1790.5,839.1 1793.9,839.6 1797.4,839.5 1800.8,839.8 1804.2,840.6 1807.6,841.1 1811.0,841.6 1814.4,842.3 1817.8,843.3 1821.2,843.6 1824.7,843.9 1828.1,844.7 1831.5,845.2 1834.9,845.7 1838.3,846.0 1841.7,846.2 1845.1,847.0 1848.6,847.4 1852.0,847.5 1855.4,847.9 1858.8,848.3 1862.2,849.6 1865.6,849.5 1869.0,850.1 1872.5,850.4 1875.9,850.5 1879.3,850.8 1882.7,851.2 1886.1,851.8 1889.5,851.9 1892.9,852.7 1896.4,853.1 1899.8,853.2 1903.2,853.7 1906.6,853.4 1910.0,853.8 1913.4,854.0 1916.8,854.9 1920.3,855.4 1923.7,855.5 1927.1,855.7 1930.5,856.3 1933.9,856.5 1937.3,856.7 1940.7,856.7 1944.2,857.5 1947.6,857.5 1951.0,858.2 1954.4,858.7 1957.8,859.0 1961.2,859.3 1964.6,859.2 1968.0,859.2 1971.5,859.6 1974.9,859.8" fill="none" stroke="#000000" stroke-width="3.3" stroke-linejoin="round"/><path d="M1294.8,25.0 V435.0" stroke="#444" stroke-width="1.7" fill="none"/><path d="M1289.8,434.3 H1294.8" stroke="#444" stroke-width="1.5"/><text transform="translate(1278.7,442.5) scale(1,1.045)" font-size="24.7" text-anchor="end">0.0</text><path d="M1289.8,352.58 H1294.8" stroke="#444" stroke-width="1.5"/><text transform="translate(1278.7,360.78) scale(1,1.045)" font-size="24.7" text-anchor="end">0.2</text><path d="M1289.8,270.86 H1294.8" stroke="#444" stroke-width="1.5"/><text transform="translate(1278.7,279.06) scale(1,1.045)" font-size="24.7" text-anchor="end">0.4</text><path d="M1289.8,189.14000000000001 H1294.8" stroke="#444" stroke-width="1.5"/><text transform="translate(1278.7,197.34) scale(1,1.045)" font-size="24.7" text-anchor="end">0.6</text><path d="M1289.8,107.41999999999996 H1294.8" stroke="#444" stroke-width="1.5"/><text transform="translate(1278.7,115.61999999999996) scale(1,1.045)" font-size="24.7" text-anchor="end">0.8</text><path d="M1289.8,25.69999999999999 H1294.8" stroke="#444" stroke-width="1.5"/><text transform="translate(1278.7,33.89999999999999) scale(1,1.045)" font-size="24.7" text-anchor="end">1.0</text><path d="M1294.8,496.8 V907.2" stroke="#444" stroke-width="1.7" fill="none"/><path d="M1289.8,906.5 H1294.8" stroke="#444" stroke-width="1.5"/><text transform="translate(1278.7,914.7) scale(1,1.045)" font-size="24.7" text-anchor="end">0.0</text><path d="M1289.8,824.7 H1294.8" stroke="#444" stroke-width="1.5"/><text transform="translate(1278.7,832.9000000000001) scale(1,1.045)" font-size="24.7" text-anchor="end">0.2</text><path d="M1289.8,742.9 H1294.8" stroke="#444" stroke-width="1.5"/><text transform="translate(1278.7,751.1) scale(1,1.045)" font-size="24.7" text-anchor="end">0.4</text><path d="M1289.8,661.1 H1294.8" stroke="#444" stroke-width="1.5"/><text transform="translate(1278.7,669.3000000000001) scale(1,1.045)" font-size="24.7" text-anchor="end">0.6</text><path d="M1289.8,579.3 H1294.8" stroke="#444" stroke-width="1.5"/><text transform="translate(1278.7,587.5) scale(1,1.045)" font-size="24.7" text-anchor="end">0.8</text><path d="M1289.8,497.5 H1294.8" stroke="#444" stroke-width="1.5"/><text transform="translate(1278.7,505.7) scale(1,1.045)" font-size="24.7" text-anchor="end">1.0</text><path d="M1293.9,906.5 H1978.2" stroke="#444" stroke-width="1.7" fill="none"/><path d="M1295.5,906.5 v6" stroke="#444" stroke-width="1.5"/><text transform="translate(1295.5,942.4) scale(1,1.045)" font-size="24.7" text-anchor="middle">1</text><path d="M1463.4,906.5 v6" stroke="#444" stroke-width="1.5"/><text transform="translate(1463.4,942.4) scale(1,1.045)" font-size="24.7" text-anchor="middle">50</text><path d="M1634.7,906.5 v6" stroke="#444" stroke-width="1.5"/><text transform="translate(1634.7,942.4) scale(1,1.045)" font-size="24.7" text-anchor="middle">100</text><path d="M1806.0,906.5 v6" stroke="#444" stroke-width="1.5"/><text transform="translate(1806.0,942.4) scale(1,1.045)" font-size="24.7" text-anchor="middle">150</text><path d="M1977.3,906.5 v6" stroke="#444" stroke-width="1.5"/><text transform="translate(1977.3,942.4) scale(1,1.045)" font-size="24.7" text-anchor="middle">200</text><text transform="translate(1636,979.5) scale(1,1.045)" font-size="24.7" text-anchor="middle">Frame</text><text transform="translate(1635,19) scale(1,1.045)" font-size="24.7" text-anchor="middle">mFAP2a</text><text transform="translate(1635,490.5) scale(1,1.045)" font-size="24.7" text-anchor="middle">mFAP2b</text><text transform="translate(1222,231.5) rotate(-90) scale(1,1.045)" font-size="24.7" text-anchor="middle">Norm. image intensity</text><text transform="translate(1222,703) rotate(-90) scale(1,1.045)" font-size="24.7" text-anchor="middle">Norm. image intensity</text><text transform="translate(1827.3,59.7) scale(1,1.045)" font-size="18.7" fill="#377eb8">50 <tspan font-family="Liberation Serif, DejaVu Serif, serif" font-style="italic" dx="0.07em">μ</tspan><tspan dx="0.04em">M</tspan> DFHBI</text><text transform="translate(1827.3,131.7) scale(1,1.045)" font-size="18.7" fill="#4daf4a">50 <tspan font-family="Liberation Serif, DejaVu Serif, serif" font-style="italic" dx="0.07em">μ</tspan><tspan dx="0.04em">M</tspan> DFHBI-1T</text><text transform="translate(1827.3,210) scale(1,1.045)" font-size="18.7" fill="#ff7f00">0.5 <tspan font-family="Liberation Serif, DejaVu Serif, serif" font-style="italic" dx="0.07em">μ</tspan><tspan dx="0.04em">M</tspan> DFHBI</text><text transform="translate(1827.3,269.5) scale(1,1.045)" font-size="18.7" fill="#e41a1c">0.5 <tspan font-family="Liberation Serif, DejaVu Serif, serif" font-style="italic" dx="0.07em">μ</tspan><tspan dx="0.04em">M</tspan> DFHBI-1T</text><text transform="translate(1827.3,519.5) scale(1,1.045)" font-size="18.7" fill="#377eb8">50 <tspan font-family="Liberation Serif, DejaVu Serif, serif" font-style="italic" dx="0.07em">μ</tspan><tspan dx="0.04em">M</tspan> DFHBI</text><text transform="translate(1827.3,719.7) scale(1,1.045)" font-size="18.7" fill="#ff7f00">0.5 <tspan font-family="Liberation Serif, DejaVu Serif, serif" font-style="italic" dx="0.07em">μ</tspan><tspan dx="0.04em">M</tspan> DFHBI</text><text transform="translate(1831.5,319.7) scale(1,1.045)" font-size="18.7">AcGFP1</text><text transform="translate(1831.5,791.5) scale(1,1.045)" font-size="18.7">AcGFP1</text></svg>
</body></html>
